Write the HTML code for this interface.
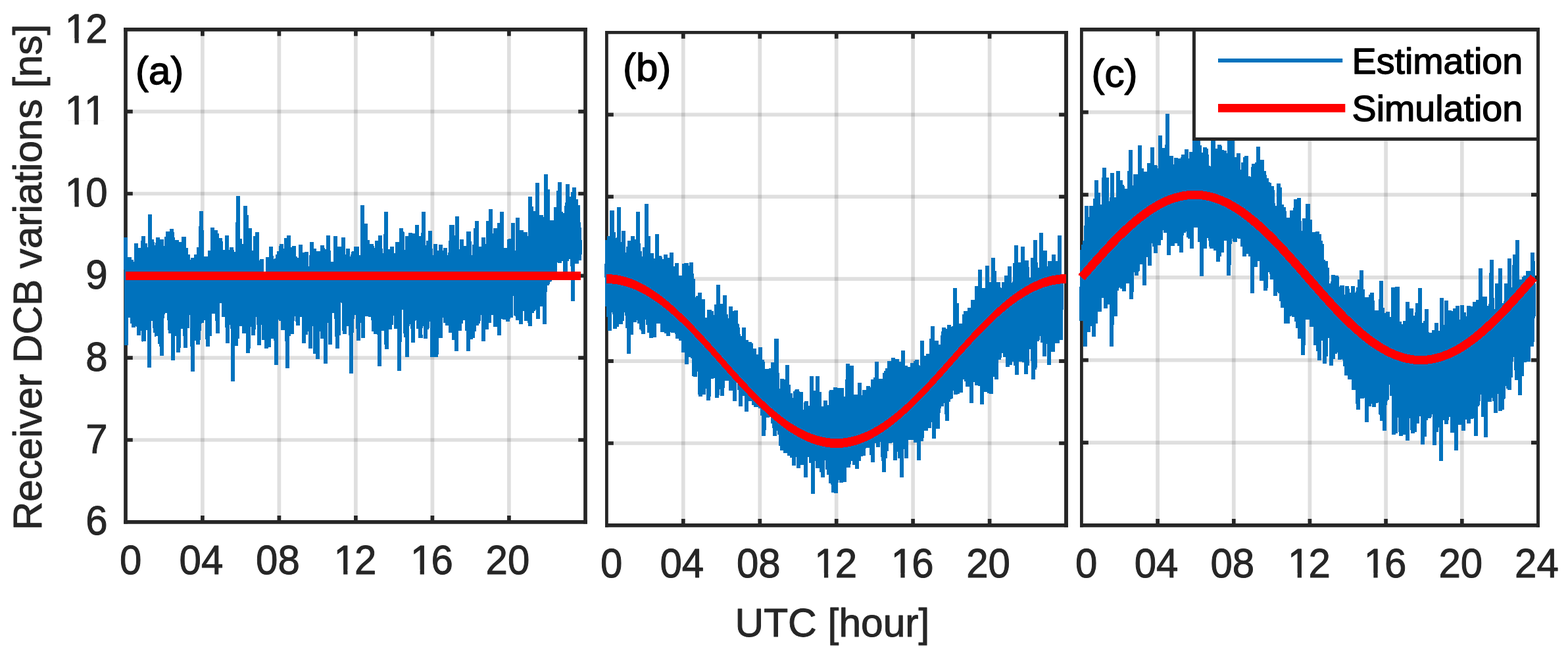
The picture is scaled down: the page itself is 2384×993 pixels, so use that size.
<!DOCTYPE html>
<html lang="en"><head><meta charset="utf-8"><title>Receiver DCB variations</title>
<style>html,body{margin:0;padding:0;background:#fff}svg{display:block}</style></head>
<body>
<svg width="2384" height="993" viewBox="0 0 2384 993" font-family='"Liberation Sans", sans-serif' font-kerning="none" style="font-kerning:none">
<rect width="2384" height="993" fill="#fff"/>
<g id="panel-a">
<path d="M307.9 44.9V793.8M424.4 44.9V793.8M540.9 44.9V793.8M657.4 44.9V793.8M773.9 44.9V793.8" stroke="#262626" stroke-opacity="0.15" stroke-width="5.7" fill="none"/>
<path d="M191.0 669.0H890.0M191.0 544.2H890.0M191.0 419.3H890.0M191.0 294.5H890.0M191.0 169.7H890.0" stroke="#262626" stroke-opacity="0.15" stroke-width="5.7" fill="none"/>
<path d="M307.9 793.8v-9.8M307.9 44.9v9.8M424.4 793.8v-9.8M424.4 44.9v9.8M540.9 793.8v-9.8M540.9 44.9v9.8M657.4 793.8v-9.8M657.4 44.9v9.8M773.9 793.8v-9.8M773.9 44.9v9.8M191.0 669.0h10.8M890.0 669.0h-10.8M191.0 544.2h10.8M890.0 544.2h-10.8M191.0 419.3h10.8M890.0 419.3h-10.8M191.0 294.5h10.8M890.0 294.5h-10.8M191.0 169.7h10.8M890.0 169.7h-10.8" stroke="#262626" stroke-width="5.7" fill="none"/>
<path d="M188.2 44.9H892.9" stroke="#262626" stroke-width="5.7"/>
<path d="M188.2 793.8H892.9" stroke="#262626" stroke-width="5.7"/>
<path d="M191.0 42.0V796.6" stroke="#262626" stroke-width="5.7"/>
<path d="M890.0 42.0V796.6" stroke="#262626" stroke-width="5.7"/>
<polyline points="191.4,360.7 191.6,450.3 191.9,456.5 192.1,524.9 192.4,441.5 192.6,451.3 192.9,458.2 193.1,431.3 193.3,427.9 193.6,475.0 193.8,469.3 194.1,456.3 194.3,419.3 194.6,423.4 194.8,482.8 195.0,476.9 195.3,417.7 195.5,390.9 195.8,442.2 196.0,463.1 196.3,406.1 196.5,451.2 196.7,417.9 197.0,391.4 197.2,420.9 197.5,438.9 197.7,417.6 197.9,462.0 198.2,447.0 198.4,459.9 198.7,447.9 198.9,457.1 199.2,447.4 199.4,453.8 199.6,438.5 199.9,439.3 200.1,431.8 200.4,395.5 200.6,492.2 200.9,399.0 201.1,449.4 201.3,482.2 201.6,447.3 201.8,438.6 202.1,406.4 202.3,476.9 202.6,434.6 202.8,437.9 203.0,497.8 203.3,481.3 203.5,421.9 203.8,418.8 204.0,405.7 204.3,424.2 204.5,428.9 204.7,438.1 205.0,401.6 205.2,470.6 205.5,447.1 205.7,429.4 206.0,495.7 206.2,398.2 206.4,469.4 206.7,445.1 206.9,369.6 207.2,471.0 207.4,460.9 207.7,389.8 207.9,479.8 208.1,457.7 208.4,425.1 208.6,427.1 208.9,422.3 209.1,429.9 209.4,396.0 209.6,407.3 209.8,421.8 210.1,466.4 210.3,467.5 210.6,509.5 210.8,418.2 211.0,506.8 211.3,411.2 211.5,376.8 211.8,480.1 212.0,466.7 212.3,459.2 212.5,412.4 212.7,473.2 213.0,446.8 213.2,461.0 213.5,451.1 213.7,395.2 214.0,477.1 214.2,439.3 214.4,432.0 214.7,410.5 214.9,488.3 215.2,400.9 215.4,425.8 215.7,409.5 215.9,439.1 216.1,502.6 216.4,465.8 216.6,411.3 216.9,440.3 217.1,443.5 217.4,374.4 217.6,358.8 217.8,443.0 218.1,368.6 218.3,517.0 218.6,519.2 218.8,408.5 219.1,451.4 219.3,419.3 219.5,421.7 219.8,444.8 220.0,415.2 220.3,435.5 220.5,500.3 220.8,432.8 221.0,434.0 221.2,370.2 221.5,484.9 221.7,440.4 222.0,457.6 222.2,446.2 222.5,376.1 222.7,426.1 222.9,459.1 223.2,434.8 223.4,410.7 223.7,479.9 223.9,451.2 224.1,379.7 224.4,406.7 224.6,442.4 224.9,459.5 225.1,446.6 225.4,502.3 225.6,402.8 225.8,426.7 226.1,434.8 226.3,492.4 226.6,469.0 226.8,559.1 227.1,429.7 227.3,460.1 227.5,419.6 227.8,325.7 228.0,467.3 228.3,461.4 228.5,475.2 228.8,486.9 229.0,407.1 229.2,418.7 229.5,425.7 229.7,487.6 230.0,482.5 230.2,442.2 230.5,456.4 230.7,434.3 230.9,468.1 231.2,412.0 231.4,364.3 231.7,374.7 231.9,371.8 232.2,435.8 232.4,400.2 232.6,454.4 232.9,400.0 233.1,454.4 233.4,459.0 233.6,465.5 233.9,408.8 234.1,426.6 234.3,430.2 234.6,486.4 234.8,431.9 235.1,499.2 235.3,374.9 235.6,443.3 235.8,429.3 236.0,442.1 236.3,505.5 236.5,496.4 236.8,438.5 237.0,372.9 237.2,485.4 237.5,467.6 237.7,439.0 238.0,510.2 238.2,510.7 238.5,454.7 238.7,438.6 238.9,453.7 239.2,369.2 239.4,443.6 239.7,420.5 239.9,365.8 240.2,360.9 240.4,506.4 240.6,452.7 240.9,384.5 241.1,497.0 241.4,476.8 241.6,493.3 241.9,496.2 242.1,486.0 242.3,427.7 242.6,379.0 242.8,367.4 243.1,434.8 243.3,523.1 243.6,437.7 243.8,450.3 244.0,419.4 244.3,440.8 244.5,515.3 244.8,416.4 245.0,527.4 245.3,465.7 245.5,420.8 245.7,418.9 246.0,364.0 246.2,540.7 246.5,419.2 246.7,403.4 247.0,449.1 247.2,405.5 247.4,483.9 247.7,404.5 247.9,409.8 248.2,478.3 248.4,464.1 248.7,442.5 248.9,463.5 249.1,386.5 249.4,425.8 249.6,374.1 249.9,380.4 250.1,430.8 250.3,442.2 250.6,476.4 250.8,469.9 251.1,469.7 251.3,417.5 251.6,473.3 251.8,429.6 252.0,424.4 252.3,455.6 252.5,441.5 252.8,367.2 253.0,359.6 253.3,468.4 253.5,441.7 253.7,449.7 254.0,445.3 254.2,362.8 254.5,401.4 254.7,375.3 255.0,351.7 255.2,452.5 255.4,440.9 255.7,430.6 255.9,385.7 256.2,436.4 256.4,402.9 256.7,379.2 256.9,379.4 257.1,411.8 257.4,467.8 257.6,502.4 257.9,381.2 258.1,411.3 258.4,474.3 258.6,454.7 258.8,452.1 259.1,507.3 259.3,420.4 259.6,467.1 259.8,444.9 260.1,398.3 260.3,435.8 260.5,407.1 260.8,412.5 261.0,430.0 261.3,429.2 261.5,348.2 261.8,438.9 262.0,358.8 262.2,471.9 262.5,398.8 262.7,423.6 263.0,463.4 263.2,548.0 263.4,360.7 263.7,481.9 263.9,473.3 264.2,425.2 264.4,428.4 264.7,418.6 264.9,441.9 265.1,496.1 265.4,393.0 265.6,469.9 265.9,421.0 266.1,405.8 266.4,379.6 266.6,439.9 266.8,443.8 267.1,440.9 267.3,510.0 267.6,463.3 267.8,474.0 268.1,480.2 268.3,424.5 268.5,444.9 268.8,364.7 269.0,369.5 269.3,511.0 269.5,427.2 269.8,474.2 270.0,409.5 270.2,426.2 270.5,394.4 270.7,420.2 271.0,401.9 271.2,445.5 271.5,536.0 271.7,481.9 271.9,468.5 272.2,453.8 272.4,475.0 272.7,368.3 272.9,441.1 273.2,382.5 273.4,448.2 273.6,368.8 273.9,482.7 274.1,411.2 274.4,487.8 274.6,417.9 274.9,373.0 275.1,499.7 275.3,469.9 275.6,426.3 275.8,443.2 276.1,489.3 276.3,391.5 276.5,434.4 276.8,386.8 277.0,424.4 277.3,481.0 277.5,455.3 277.8,384.4 278.0,489.9 278.2,455.0 278.5,414.8 278.7,399.3 279.0,406.6 279.2,493.2 279.5,359.8 279.7,444.3 279.9,437.8 280.2,438.5 280.4,447.1 280.7,474.5 280.9,450.8 281.2,390.1 281.4,489.2 281.6,528.5 281.9,419.6 282.1,427.0 282.4,412.9 282.6,376.6 282.9,466.2 283.1,433.4 283.3,421.7 283.6,395.4 283.8,403.0 284.1,470.8 284.3,490.2 284.6,450.4 284.8,498.8 285.0,400.8 285.3,455.1 285.5,453.8 285.8,473.1 286.0,386.6 286.3,431.0 286.5,456.2 286.7,419.7 287.0,444.7 287.2,420.5 287.5,394.8 287.7,451.3 288.0,423.5 288.2,424.7 288.4,401.2 288.7,420.5 288.9,440.6 289.2,464.8 289.4,431.1 289.6,479.2 289.9,418.1 290.1,439.5 290.4,421.8 290.6,460.3 290.9,470.4 291.1,474.4 291.3,401.5 291.6,449.3 291.8,449.7 292.1,506.2 292.3,443.4 292.6,564.8 292.8,391.7 293.0,450.0 293.3,440.4 293.5,493.3 293.8,481.1 294.0,418.8 294.3,448.6 294.5,425.2 294.7,394.1 295.0,416.4 295.2,510.9 295.5,477.1 295.7,482.7 296.0,474.4 296.2,517.8 296.4,516.8 296.7,468.2 296.9,462.7 297.2,421.1 297.4,452.5 297.7,387.0 297.9,508.8 298.1,492.5 298.4,430.7 298.6,450.4 298.9,477.4 299.1,410.9 299.4,398.7 299.6,390.2 299.8,455.0 300.1,440.1 300.3,431.1 300.6,437.5 300.8,400.7 301.1,458.4 301.3,425.3 301.5,524.2 301.8,410.4 302.0,376.3 302.3,440.3 302.5,399.2 302.7,503.3 303.0,452.0 303.2,498.7 303.5,426.7 303.7,418.7 304.0,492.1 304.2,471.7 304.4,461.5 304.7,344.5 304.9,441.5 305.2,433.9 305.4,424.4 305.7,426.8 305.9,447.7 306.1,490.4 306.4,320.7 306.6,374.2 306.9,428.1 307.1,452.7 307.4,491.1 307.6,440.2 307.8,436.7 308.1,463.5 308.3,402.8 308.6,460.9 308.8,444.4 309.1,404.5 309.3,428.8 309.5,393.4 309.8,446.5 310.0,454.5 310.3,419.0 310.5,428.9 310.8,390.6 311.0,421.2 311.2,438.2 311.5,419.4 311.7,411.3 312.0,481.1 312.2,442.6 312.5,450.1 312.7,389.7 312.9,455.9 313.2,395.0 313.4,486.5 313.7,438.9 313.9,394.8 314.2,446.9 314.4,391.4 314.6,516.0 314.9,435.5 315.1,430.2 315.4,441.4 315.6,495.4 315.8,410.4 316.1,527.4 316.3,399.4 316.6,424.9 316.8,397.8 317.1,445.9 317.3,479.0 317.5,455.8 317.8,453.7 318.0,412.6 318.3,447.6 318.5,419.6 318.8,416.9 319.0,380.9 319.2,511.1 319.5,450.5 319.7,408.8 320.0,408.7 320.2,456.0 320.5,444.6 320.7,438.0 320.9,429.4 321.2,455.4 321.4,458.3 321.7,475.9 321.9,448.2 322.2,382.2 322.4,469.0 322.6,398.0 322.9,361.8 323.1,425.9 323.4,346.5 323.6,438.4 323.9,372.0 324.1,434.7 324.3,477.1 324.6,420.1 324.8,364.2 325.1,453.9 325.3,415.1 325.6,468.3 325.8,464.1 326.0,415.9 326.3,438.8 326.5,411.9 326.8,386.7 327.0,473.9 327.2,456.3 327.5,430.3 327.7,350.0 328.0,443.1 328.2,448.6 328.5,416.2 328.7,357.7 328.9,451.6 329.2,441.9 329.4,429.7 329.7,404.9 329.9,355.5 330.2,474.0 330.4,488.1 330.6,425.4 330.9,412.4 331.1,507.0 331.4,451.5 331.6,397.7 331.9,448.4 332.1,413.9 332.3,424.4 332.6,408.2 332.8,415.6 333.1,421.4 333.3,388.1 333.6,449.0 333.8,425.9 334.0,392.1 334.3,448.7 334.5,442.3 334.8,455.1 335.0,461.2 335.3,362.3 335.5,414.1 335.7,367.3 336.0,405.4 336.2,427.2 336.5,439.1 336.7,421.0 337.0,431.2 337.2,399.5 337.4,458.7 337.7,424.2 337.9,414.4 338.2,437.4 338.4,437.5 338.7,411.6 338.9,411.3 339.1,433.2 339.4,430.3 339.6,448.3 339.9,411.4 340.1,433.9 340.3,481.8 340.6,440.3 340.8,409.7 341.1,420.8 341.3,459.7 341.6,405.9 341.8,410.2 342.0,410.2 342.3,379.6 342.5,441.7 342.8,410.5 343.0,439.3 343.3,397.7 343.5,391.9 343.7,414.5 344.0,405.9 344.2,458.3 344.5,410.0 344.7,471.3 345.0,357.9 345.2,392.1 345.4,483.4 345.7,522.2 345.9,387.1 346.2,461.0 346.4,413.1 346.7,476.5 346.9,429.4 347.1,454.3 347.4,411.3 347.6,443.6 347.9,380.3 348.1,458.4 348.4,387.2 348.6,432.6 348.8,413.7 349.1,488.1 349.3,493.9 349.6,394.7 349.8,475.5 350.1,444.0 350.3,443.3 350.5,464.2 350.8,424.7 351.0,482.8 351.3,475.0 351.5,398.6 351.8,461.4 352.0,405.1 352.2,407.9 352.5,376.5 352.7,415.5 353.0,500.1 353.2,456.5 353.4,447.7 353.7,386.6 353.9,419.5 354.2,580.4 354.4,416.1 354.7,446.1 354.9,411.8 355.1,426.8 355.4,390.3 355.6,419.8 355.9,394.4 356.1,433.0 356.4,405.1 356.6,438.5 356.8,407.6 357.1,423.8 357.3,437.4 357.6,449.0 357.8,443.3 358.1,413.9 358.3,522.9 358.5,383.4 358.8,526.3 359.0,440.0 359.3,445.5 359.5,402.9 359.8,422.9 360.0,434.1 360.2,429.0 360.5,394.3 360.7,338.0 361.0,417.0 361.2,515.4 361.5,449.1 361.7,415.2 361.9,297.6 362.2,463.2 362.4,447.2 362.7,409.3 362.9,418.8 363.2,486.0 363.4,393.2 363.6,485.7 363.9,442.8 364.1,377.6 364.4,485.8 364.6,445.9 364.9,363.2 365.1,442.4 365.3,474.7 365.6,455.5 365.8,397.2 366.1,495.9 366.3,457.5 366.5,491.3 366.8,479.0 367.0,378.5 367.3,434.8 367.5,449.3 367.8,413.8 368.0,460.5 368.2,480.6 368.5,384.2 368.7,395.2 369.0,465.7 369.2,402.2 369.5,371.4 369.7,410.9 369.9,410.5 370.2,481.5 370.4,436.3 370.7,506.9 370.9,385.5 371.2,437.8 371.4,377.0 371.6,462.0 371.9,395.2 372.1,494.7 372.4,446.9 372.6,408.5 372.9,416.2 373.1,432.8 373.3,313.3 373.6,377.4 373.8,404.0 374.1,385.1 374.3,385.9 374.6,445.8 374.8,415.5 375.0,326.8 375.3,464.3 375.5,415.5 375.8,453.6 376.0,363.5 376.3,425.2 376.5,472.5 376.7,455.7 377.0,486.8 377.2,520.4 377.5,537.0 377.7,460.8 378.0,476.3 378.2,427.6 378.4,464.9 378.7,425.1 378.9,366.9 379.2,478.2 379.4,479.6 379.6,397.5 379.9,347.0 380.1,467.1 380.4,497.4 380.6,445.7 380.9,450.0 381.1,409.2 381.3,474.3 381.6,445.2 381.8,447.1 382.1,493.2 382.3,493.0 382.6,420.2 382.8,416.8 383.0,465.2 383.3,380.7 383.5,403.5 383.8,420.5 384.0,415.6 384.3,425.0 384.5,412.0 384.7,407.2 385.0,435.5 385.2,510.2 385.5,444.0 385.7,467.6 386.0,480.2 386.2,418.0 386.4,501.0 386.7,410.3 386.9,461.5 387.2,482.0 387.4,469.8 387.7,359.5 387.9,389.4 388.1,450.0 388.4,403.9 388.6,379.7 388.9,470.6 389.1,450.8 389.4,409.8 389.6,427.7 389.8,454.1 390.1,386.5 390.3,424.6 390.6,415.2 390.8,361.3 391.1,425.8 391.3,353.3 391.5,432.4 391.8,448.3 392.0,438.7 392.3,413.9 392.5,421.4 392.7,431.1 393.0,493.6 393.2,480.4 393.5,453.1 393.7,420.1 394.0,396.3 394.2,525.0 394.4,450.0 394.7,460.5 394.9,449.1 395.2,438.7 395.4,474.3 395.7,490.1 395.9,412.6 396.1,421.5 396.4,460.6 396.6,451.0 396.9,470.1 397.1,494.1 397.4,426.0 397.6,469.9 397.8,485.2 398.1,468.2 398.3,394.1 398.6,433.9 398.8,441.0 399.1,446.0 399.3,420.6 399.5,425.2 399.8,492.9 400.0,457.8 400.3,471.6 400.5,443.2 400.8,452.7 401.0,517.0 401.2,413.0 401.5,442.7 401.7,509.1 402.0,414.0 402.2,448.0 402.5,436.7 402.7,451.7 402.9,447.6 403.2,469.9 403.4,508.6 403.7,474.3 403.9,448.1 404.2,453.1 404.4,433.1 404.6,458.1 404.9,529.6 405.1,431.3 405.4,482.3 405.6,499.9 405.8,466.0 406.1,500.5 406.3,443.2 406.6,485.8 406.8,390.6 407.1,463.2 407.3,473.3 407.5,476.4 407.8,526.5 408.0,483.4 408.3,479.6 408.5,465.2 408.8,528.1 409.0,452.5 409.2,410.6 409.5,467.8 409.7,455.0 410.0,438.8 410.2,479.7 410.5,467.3 410.7,420.4 410.9,445.8 411.2,493.1 411.4,511.6 411.7,374.6 411.9,436.2 412.2,504.3 412.4,445.5 412.6,427.7 412.9,446.3 413.1,513.3 413.4,388.7 413.6,429.3 413.9,455.9 414.1,426.0 414.3,456.5 414.6,460.0 414.8,418.3 415.1,515.4 415.3,414.1 415.6,434.4 415.8,421.9 416.0,416.4 416.3,394.3 416.5,397.9 416.8,416.6 417.0,459.6 417.3,422.7 417.5,462.3 417.7,478.3 418.0,430.0 418.2,433.1 418.5,404.4 418.7,518.0 418.9,424.2 419.2,421.5 419.4,440.4 419.7,393.3 419.9,473.8 420.2,432.1 420.4,555.4 420.6,443.8 420.9,476.4 421.1,447.7 421.4,419.6 421.6,438.4 421.9,430.5 422.1,468.6 422.3,387.2 422.6,466.0 422.8,441.1 423.1,421.2 423.3,447.7 423.6,415.0 423.8,434.4 424.0,381.8 424.3,421.6 424.5,426.8 424.8,468.6 425.0,424.2 425.3,405.2 425.5,425.6 425.7,472.4 426.0,458.9 426.2,447.8 426.5,438.9 426.7,488.1 427.0,373.7 427.2,442.8 427.4,435.2 427.7,454.6 427.9,440.4 428.2,371.2 428.4,472.2 428.7,456.9 428.9,475.1 429.1,457.9 429.4,384.1 429.6,460.5 429.9,454.3 430.1,502.2 430.4,450.7 430.6,429.9 430.8,455.4 431.1,452.2 431.3,409.6 431.6,419.3 431.8,441.8 432.0,466.1 432.3,492.1 432.5,378.0 432.8,493.7 433.0,415.1 433.3,445.4 433.5,464.7 433.7,406.5 434.0,465.1 434.2,392.9 434.5,475.6 434.7,420.6 435.0,392.2 435.2,473.6 435.4,362.4 435.7,407.5 435.9,518.9 436.2,388.0 436.4,369.1 436.7,448.2 436.9,445.7 437.1,560.4 437.4,508.1 437.6,433.1 437.9,404.7 438.1,459.0 438.4,398.1 438.6,358.0 438.8,511.0 439.1,505.6 439.3,465.1 439.6,415.8 439.8,425.1 440.1,473.1 440.3,481.2 440.5,466.4 440.8,376.5 441.0,474.7 441.3,460.9 441.5,404.1 441.8,449.5 442.0,476.4 442.2,386.4 442.5,427.1 442.7,465.1 443.0,453.8 443.2,404.8 443.5,453.1 443.7,429.8 443.9,406.2 444.2,402.2 444.4,507.9 444.7,457.5 444.9,451.7 445.1,435.4 445.4,410.4 445.6,395.5 445.9,456.1 446.1,480.5 446.4,431.8 446.6,461.4 446.8,374.2 447.1,425.5 447.3,436.8 447.6,401.6 447.8,463.5 448.1,451.7 448.3,445.4 448.5,414.4 448.8,390.0 449.0,409.2 449.3,410.4 449.5,447.2 449.8,424.8 450.0,447.5 450.2,395.4 450.5,462.4 450.7,441.6 451.0,429.8 451.2,409.4 451.5,466.2 451.7,447.5 451.9,469.8 452.2,489.4 452.4,398.0 452.7,421.7 452.9,495.4 453.2,475.7 453.4,418.1 453.6,461.9 453.9,478.7 454.1,392.0 454.4,457.4 454.6,453.1 454.9,418.0 455.1,466.1 455.3,438.5 455.6,433.2 455.8,411.2 456.1,467.3 456.3,398.4 456.5,426.5 456.8,371.6 457.0,431.0 457.3,459.6 457.5,459.6 457.8,482.2 458.0,439.7 458.2,442.0 458.5,405.8 458.7,436.5 459.0,471.6 459.2,400.8 459.5,456.1 459.7,429.6 459.9,384.4 460.2,391.5 460.4,467.6 460.7,444.2 460.9,388.9 461.2,402.4 461.4,419.2 461.6,406.1 461.9,522.2 462.1,451.2 462.4,494.9 462.6,464.4 462.9,454.8 463.1,422.2 463.3,395.6 463.6,410.5 463.8,430.1 464.1,454.2 464.3,391.8 464.6,430.7 464.8,508.7 465.0,443.5 465.3,421.9 465.5,478.1 465.8,432.7 466.0,383.1 466.3,451.2 466.5,443.5 466.7,443.1 467.0,479.0 467.2,459.9 467.5,480.5 467.7,453.0 468.0,472.8 468.2,404.7 468.4,446.3 468.7,409.0 468.9,490.6 469.2,442.6 469.4,419.5 469.6,414.9 469.9,465.8 470.1,445.7 470.4,437.4 470.6,454.9 470.9,457.7 471.1,421.2 471.3,487.4 471.6,511.7 471.8,460.2 472.1,430.1 472.3,529.7 472.6,388.5 472.8,437.1 473.0,418.2 473.3,473.2 473.5,442.2 473.8,369.7 474.0,368.1 474.3,415.9 474.5,450.8 474.7,444.2 475.0,388.7 475.2,467.4 475.5,476.0 475.7,445.1 476.0,404.6 476.2,481.4 476.4,426.1 476.7,425.4 476.9,434.7 477.2,445.8 477.4,403.9 477.7,417.6 477.9,496.4 478.1,377.8 478.4,422.3 478.6,427.8 478.9,453.9 479.1,451.4 479.4,537.5 479.6,449.2 479.8,417.5 480.1,416.7 480.3,466.5 480.6,531.2 480.8,483.9 481.1,452.4 481.3,391.3 481.5,502.4 481.8,439.6 482.0,417.6 482.3,416.4 482.5,443.6 482.7,546.2 483.0,416.9 483.2,435.0 483.5,419.2 483.7,475.6 484.0,457.8 484.2,382.3 484.4,442.6 484.7,439.3 484.9,466.0 485.2,391.3 485.4,500.7 485.7,458.2 485.9,422.1 486.1,439.7 486.4,404.9 486.6,422.0 486.9,383.8 487.1,446.0 487.4,442.4 487.6,426.9 487.8,503.5 488.1,384.4 488.3,470.7 488.6,394.6 488.8,383.2 489.1,399.0 489.3,429.0 489.5,459.5 489.8,514.6 490.0,415.3 490.3,444.7 490.5,372.9 490.8,446.6 491.0,412.8 491.2,450.5 491.5,420.0 491.7,448.4 492.0,441.9 492.2,504.0 492.5,461.5 492.7,441.2 492.9,389.6 493.2,425.9 493.4,479.7 493.7,378.6 493.9,423.0 494.2,395.6 494.4,468.1 494.6,553.1 494.9,463.2 495.1,472.3 495.4,426.3 495.6,490.5 495.8,467.4 496.1,484.3 496.3,431.1 496.6,468.5 496.8,387.3 497.1,408.0 497.3,406.1 497.5,443.2 497.8,427.4 498.0,405.4 498.3,465.2 498.5,392.3 498.8,438.3 499.0,391.8 499.2,357.6 499.5,381.5 499.7,472.9 500.0,393.8 500.2,446.6 500.5,450.3 500.7,443.9 500.9,476.2 501.2,427.7 501.4,460.4 501.7,398.0 501.9,425.1 502.2,524.2 502.4,469.0 502.6,470.7 502.9,459.9 503.1,459.0 503.4,429.8 503.6,442.2 503.9,473.6 504.1,422.3 504.3,406.6 504.6,436.8 504.8,397.8 505.1,422.9 505.3,455.9 505.6,450.5 505.8,437.3 506.0,419.9 506.3,431.8 506.5,405.3 506.8,399.6 507.0,471.0 507.3,476.0 507.5,441.3 507.7,423.0 508.0,408.2 508.2,416.9 508.5,417.9 508.7,468.5 508.9,426.0 509.2,459.2 509.4,424.8 509.7,409.2 509.9,460.2 510.2,446.3 510.4,359.0 510.6,463.1 510.9,455.0 511.1,474.1 511.4,485.3 511.6,406.7 511.9,460.8 512.1,459.0 512.3,464.8 512.6,529.7 512.8,415.0 513.1,457.0 513.3,441.0 513.6,395.3 513.8,444.1 514.0,435.4 514.3,433.9 514.5,398.5 514.8,482.9 515.0,457.7 515.3,509.5 515.5,438.8 515.7,419.0 516.0,453.2 516.2,375.3 516.5,407.9 516.7,376.5 517.0,433.9 517.2,381.0 517.4,455.5 517.7,425.5 517.9,434.7 518.2,452.3 518.4,385.3 518.7,395.9 518.9,460.3 519.1,415.9 519.4,434.9 519.6,432.8 519.9,418.3 520.1,453.8 520.4,431.4 520.6,427.8 520.8,456.9 521.1,453.8 521.3,409.6 521.6,436.3 521.8,361.2 522.0,368.6 522.3,461.1 522.5,427.7 522.8,503.2 523.0,459.5 523.3,467.5 523.5,463.7 523.7,508.3 524.0,430.4 524.2,434.5 524.5,465.4 524.7,441.8 525.0,409.3 525.2,387.2 525.4,482.4 525.7,387.7 525.9,495.0 526.2,466.0 526.4,452.0 526.7,389.0 526.9,419.5 527.1,420.1 527.4,388.3 527.6,431.7 527.9,453.7 528.1,391.1 528.4,446.1 528.6,480.4 528.8,495.5 529.1,433.6 529.3,377.6 529.6,414.4 529.8,437.1 530.1,398.8 530.3,487.6 530.5,424.4 530.8,456.2 531.0,393.2 531.3,466.0 531.5,412.0 531.8,431.8 532.0,437.7 532.2,415.3 532.5,442.5 532.7,390.7 533.0,445.0 533.2,510.1 533.5,390.2 533.7,393.8 533.9,567.9 534.2,391.7 534.4,414.9 534.7,465.5 534.9,506.0 535.1,472.5 535.4,447.2 535.6,420.3 535.9,485.1 536.1,467.9 536.4,386.8 536.6,461.0 536.8,462.1 537.1,469.5 537.3,382.8 537.6,410.8 537.8,407.3 538.1,381.6 538.3,404.8 538.5,391.9 538.8,424.8 539.0,407.6 539.3,415.8 539.5,413.3 539.8,476.8 540.0,444.4 540.2,449.5 540.5,459.2 540.7,438.5 541.0,375.1 541.2,404.6 541.5,433.7 541.7,425.4 541.9,388.6 542.2,478.8 542.4,423.6 542.7,379.6 542.9,374.7 543.2,405.8 543.4,417.8 543.6,500.0 543.9,461.8 544.1,438.6 544.4,423.8 544.6,422.7 544.9,517.5 545.1,456.0 545.3,427.4 545.6,464.2 545.8,445.1 546.1,419.0 546.3,426.3 546.6,430.9 546.8,411.0 547.0,397.0 547.3,447.5 547.5,474.7 547.8,462.0 548.0,454.7 548.2,438.6 548.5,491.3 548.7,464.5 549.0,446.1 549.2,387.8 549.5,418.0 549.7,442.3 549.9,404.7 550.2,430.2 550.4,428.2 550.7,397.7 550.9,424.3 551.2,431.0 551.4,312.0 551.6,456.7 551.9,434.8 552.1,514.0 552.4,451.9 552.6,379.4 552.9,449.7 553.1,436.3 553.3,452.0 553.6,474.5 553.8,418.0 554.1,437.1 554.3,395.4 554.6,469.4 554.8,434.7 555.0,448.9 555.3,458.3 555.5,395.4 555.8,463.7 556.0,463.3 556.3,340.5 556.5,438.8 556.7,443.8 557.0,418.5 557.2,474.2 557.5,422.6 557.7,480.9 558.0,454.1 558.2,457.8 558.4,384.5 558.7,411.8 558.9,365.4 559.2,371.8 559.4,462.2 559.7,415.7 559.9,452.5 560.1,460.2 560.4,389.9 560.6,380.8 560.9,431.0 561.1,422.9 561.3,424.7 561.6,423.5 561.8,422.4 562.1,474.8 562.3,412.3 562.6,462.4 562.8,481.7 563.0,441.4 563.3,425.6 563.5,403.6 563.8,421.4 564.0,424.7 564.3,461.6 564.5,420.7 564.7,427.9 565.0,424.9 565.2,464.8 565.5,370.8 565.7,407.1 566.0,410.1 566.2,432.6 566.4,447.1 566.7,400.6 566.9,487.0 567.2,454.0 567.4,447.5 567.7,414.5 567.9,448.2 568.1,382.2 568.4,503.6 568.6,376.8 568.9,424.4 569.1,400.7 569.4,456.1 569.6,397.2 569.8,449.0 570.1,426.9 570.3,492.8 570.6,416.0 570.8,432.0 571.1,508.0 571.3,440.5 571.5,448.7 571.8,405.8 572.0,462.3 572.3,429.5 572.5,388.3 572.8,469.6 573.0,366.4 573.2,427.6 573.5,445.4 573.7,487.9 574.0,503.2 574.2,401.2 574.4,454.1 574.7,460.1 574.9,397.3 575.2,411.8 575.4,432.3 575.7,491.4 575.9,509.3 576.1,401.9 576.4,438.6 576.6,446.6 576.9,366.3 577.1,556.6 577.4,423.6 577.6,357.7 577.8,414.2 578.1,456.9 578.3,467.5 578.6,392.2 578.8,481.7 579.1,406.1 579.3,377.6 579.5,440.0 579.8,406.4 580.0,433.7 580.3,384.9 580.5,426.3 580.8,461.6 581.0,423.2 581.2,430.8 581.5,458.4 581.7,444.7 582.0,479.6 582.2,466.4 582.5,413.0 582.7,502.5 582.9,426.1 583.2,435.6 583.4,457.2 583.7,385.6 583.9,411.2 584.2,457.3 584.4,428.7 584.6,403.2 584.9,492.3 585.1,428.3 585.4,444.8 585.6,421.8 585.8,360.5 586.1,459.2 586.3,448.1 586.6,322.0 586.8,428.1 587.1,413.7 587.3,523.8 587.5,383.4 587.8,378.8 588.0,531.2 588.3,489.8 588.5,418.8 588.8,432.3 589.0,393.6 589.2,445.6 589.5,389.1 589.7,484.1 590.0,420.3 590.2,450.6 590.5,451.8 590.7,498.4 590.9,449.5 591.2,385.6 591.4,458.0 591.7,443.0 591.9,429.9 592.2,469.3 592.4,425.0 592.6,414.3 592.9,443.0 593.1,501.3 593.4,379.2 593.6,432.4 593.9,435.0 594.1,441.8 594.3,455.5 594.6,494.3 594.8,435.9 595.1,428.6 595.3,398.2 595.6,374.7 595.8,460.4 596.0,375.4 596.3,430.7 596.5,412.5 596.8,470.9 597.0,421.2 597.3,468.1 597.5,409.1 597.7,479.5 598.0,432.2 598.2,449.1 598.5,420.6 598.7,424.3 598.9,427.6 599.2,452.0 599.4,401.5 599.7,412.2 599.9,462.2 600.2,405.6 600.4,457.0 600.6,429.9 600.9,436.7 601.1,436.5 601.4,403.3 601.6,500.0 601.9,385.4 602.1,498.9 602.3,386.3 602.6,411.4 602.8,488.2 603.1,418.9 603.3,444.1 603.6,476.6 603.8,386.4 604.0,389.7 604.3,417.4 604.5,368.2 604.8,425.8 605.0,441.9 605.3,381.5 605.5,459.4 605.7,400.8 606.0,388.7 606.2,422.5 606.5,426.9 606.7,412.3 607.0,421.4 607.2,457.4 607.4,564.4 607.7,450.3 607.9,486.9 608.2,393.1 608.4,448.1 608.7,421.3 608.9,401.5 609.1,391.0 609.4,466.3 609.6,347.0 609.9,394.9 610.1,405.5 610.4,465.6 610.6,352.2 610.8,404.7 611.1,386.9 611.3,441.8 611.6,356.4 611.8,372.9 612.0,434.2 612.3,352.7 612.5,471.4 612.8,396.4 613.0,405.2 613.3,403.7 613.5,458.2 613.7,445.1 614.0,393.7 614.2,389.8 614.5,433.7 614.7,442.0 615.0,452.2 615.2,380.1 615.4,438.2 615.7,453.9 615.9,506.9 616.2,502.6 616.4,477.2 616.7,513.0 616.9,449.9 617.1,446.1 617.4,473.5 617.6,451.2 617.9,438.3 618.1,503.6 618.4,407.4 618.6,542.5 618.8,359.0 619.1,492.5 619.3,433.9 619.6,449.1 619.8,420.4 620.1,464.4 620.3,414.2 620.5,496.1 620.8,405.5 621.0,446.1 621.3,420.4 621.5,395.4 621.8,481.3 622.0,458.1 622.2,464.3 622.5,438.9 622.7,428.7 623.0,407.0 623.2,426.6 623.5,441.2 623.7,414.0 623.9,395.1 624.2,397.5 624.4,353.8 624.7,459.3 624.9,425.9 625.1,486.7 625.4,461.5 625.6,410.9 625.9,386.3 626.1,453.8 626.4,416.7 626.6,431.6 626.8,415.1 627.1,426.2 627.3,453.0 627.6,521.0 627.8,492.3 628.1,419.9 628.3,438.0 628.5,354.8 628.8,432.9 629.0,399.6 629.3,480.0 629.5,488.2 629.8,427.0 630.0,370.7 630.2,419.2 630.5,446.9 630.7,419.2 631.0,411.1 631.2,417.6 631.5,433.9 631.7,475.2 631.9,478.4 632.2,454.5 632.4,439.8 632.7,485.1 632.9,373.9 633.2,412.1 633.4,455.1 633.6,405.8 633.9,342.1 634.1,425.6 634.4,426.5 634.6,395.7 634.9,486.9 635.1,456.7 635.3,464.4 635.6,405.7 635.8,499.5 636.1,422.8 636.3,453.7 636.6,446.2 636.8,456.6 637.0,379.1 637.3,468.4 637.5,481.2 637.8,423.6 638.0,457.7 638.2,416.0 638.5,437.9 638.7,434.4 639.0,433.7 639.2,500.9 639.5,513.5 639.7,358.8 639.9,481.2 640.2,416.2 640.4,479.5 640.7,439.8 640.9,446.7 641.2,380.6 641.4,444.5 641.6,495.9 641.9,491.6 642.1,425.1 642.4,403.2 642.6,359.1 642.9,354.6 643.1,491.9 643.3,441.6 643.6,484.4 643.8,426.3 644.1,406.0 644.3,322.0 644.6,404.0 644.8,409.3 645.0,447.3 645.3,460.9 645.5,372.7 645.8,443.5 646.0,480.3 646.3,433.4 646.5,397.1 646.7,410.8 647.0,514.8 647.2,491.4 647.5,454.2 647.7,432.3 648.0,432.4 648.2,487.9 648.4,402.0 648.7,419.7 648.9,500.8 649.2,476.6 649.4,443.0 649.7,499.0 649.9,437.5 650.1,431.8 650.4,456.1 650.6,415.7 650.9,366.4 651.1,465.1 651.3,419.7 651.6,456.8 651.8,377.1 652.1,388.4 652.3,438.9 652.6,463.7 652.8,407.3 653.0,441.5 653.3,488.6 653.5,479.6 653.8,445.6 654.0,350.9 654.3,394.7 654.5,382.8 654.7,400.7 655.0,382.8 655.2,377.7 655.5,484.3 655.7,414.2 656.0,413.4 656.2,418.9 656.4,422.0 656.7,542.7 656.9,431.7 657.2,495.1 657.4,399.9 657.7,460.7 657.9,450.7 658.1,441.7 658.4,524.0 658.6,446.6 658.9,492.1 659.1,399.8 659.4,461.6 659.6,486.8 659.8,388.0 660.1,452.0 660.3,480.1 660.6,444.0 660.8,447.8 661.1,429.8 661.3,481.6 661.5,394.8 661.8,426.0 662.0,371.4 662.3,415.9 662.5,480.6 662.8,394.9 663.0,450.2 663.2,435.0 663.5,542.9 663.7,492.1 664.0,381.3 664.2,392.6 664.4,513.4 664.7,425.0 664.9,424.4 665.2,386.1 665.4,485.0 665.7,512.5 665.9,425.6 666.1,466.8 666.4,463.6 666.6,476.6 666.9,385.8 667.1,475.1 667.4,397.4 667.6,412.0 667.8,466.1 668.1,396.5 668.3,384.2 668.6,422.7 668.8,447.7 669.1,405.5 669.3,469.4 669.5,416.6 669.8,372.3 670.0,494.7 670.3,514.3 670.5,406.5 670.8,474.9 671.0,456.8 671.2,430.9 671.5,463.6 671.7,432.0 672.0,479.0 672.2,459.8 672.5,440.8 672.7,413.6 672.9,454.7 673.2,422.5 673.4,411.2 673.7,415.5 673.9,441.6 674.2,381.5 674.4,469.4 674.6,392.3 674.9,394.5 675.1,398.8 675.4,458.0 675.6,395.7 675.9,416.0 676.1,483.3 676.3,449.0 676.6,491.1 676.8,420.0 677.1,377.3 677.3,397.0 677.5,477.4 677.8,477.6 678.0,443.5 678.3,441.9 678.5,404.5 678.8,448.8 679.0,388.5 679.2,457.3 679.5,392.0 679.7,495.3 680.0,457.9 680.2,433.3 680.5,400.5 680.7,413.0 680.9,470.6 681.2,488.5 681.4,435.6 681.7,438.2 681.9,450.6 682.2,435.4 682.4,489.1 682.6,413.4 682.9,393.5 683.1,470.8 683.4,469.3 683.6,383.9 683.9,390.3 684.1,466.6 684.3,461.9 684.6,505.5 684.8,414.0 685.1,425.9 685.3,432.8 685.6,342.1 685.8,441.3 686.0,438.6 686.3,423.5 686.5,441.4 686.8,388.8 687.0,440.4 687.3,428.4 687.5,342.4 687.7,456.8 688.0,481.8 688.2,426.9 688.5,458.2 688.7,458.9 689.0,424.3 689.2,398.9 689.4,495.0 689.7,441.3 689.9,517.4 690.2,396.4 690.4,475.0 690.6,407.7 690.9,361.5 691.1,379.8 691.4,417.0 691.6,513.7 691.9,358.1 692.1,450.6 692.3,402.1 692.6,454.2 692.8,443.6 693.1,369.4 693.3,500.4 693.6,483.4 693.8,445.7 694.0,391.7 694.3,534.0 694.5,383.6 694.8,450.4 695.0,406.1 695.3,328.9 695.5,413.4 695.7,389.9 696.0,378.7 696.2,445.5 696.5,427.8 696.7,440.2 697.0,424.8 697.2,445.3 697.4,454.0 697.7,457.3 697.9,402.9 698.2,486.2 698.4,429.1 698.7,378.6 698.9,488.4 699.1,503.0 699.4,406.3 699.6,464.9 699.9,462.1 700.1,407.7 700.4,420.7 700.6,459.9 700.8,446.0 701.1,491.5 701.3,456.0 701.6,435.9 701.8,410.9 702.0,409.3 702.3,363.8 702.5,435.3 702.8,393.0 703.0,421.6 703.3,471.2 703.5,419.7 703.7,418.3 704.0,405.5 704.2,412.5 704.5,426.8 704.7,467.1 705.0,443.9 705.2,420.5 705.4,406.3 705.7,399.8 705.9,417.5 706.2,406.6 706.4,375.4 706.7,423.5 706.9,452.5 707.1,487.1 707.4,430.1 707.6,407.2 707.9,446.1 708.1,373.7 708.4,465.3 708.6,445.9 708.8,433.0 709.1,479.8 709.3,392.2 709.6,460.7 709.8,477.6 710.1,502.7 710.3,396.0 710.5,382.2 710.8,471.2 711.0,487.2 711.3,449.4 711.5,432.5 711.8,452.8 712.0,413.4 712.2,534.2 712.5,352.1 712.7,417.9 713.0,392.5 713.2,447.1 713.5,394.3 713.7,367.2 713.9,459.0 714.2,425.9 714.4,392.4 714.7,414.9 714.9,463.1 715.1,448.6 715.4,408.2 715.6,417.8 715.9,455.8 716.1,417.7 716.4,515.5 716.6,427.6 716.8,393.7 717.1,394.7 717.3,446.8 717.6,420.8 717.8,421.7 718.1,435.0 718.3,461.6 718.5,485.6 718.8,454.7 719.0,479.2 719.3,513.5 719.5,388.2 719.8,490.6 720.0,460.7 720.2,461.3 720.5,504.0 720.7,425.9 721.0,504.0 721.2,372.4 721.5,493.1 721.7,470.6 721.9,447.0 722.2,445.8 722.4,440.7 722.7,397.8 722.9,387.5 723.2,347.0 723.4,476.6 723.6,389.7 723.9,403.1 724.1,439.8 724.4,478.0 724.6,336.1 724.9,381.5 725.1,495.4 725.3,369.4 725.6,409.4 725.8,418.1 726.1,396.9 726.3,450.5 726.6,432.5 726.8,391.0 727.0,471.8 727.3,480.0 727.5,492.4 727.8,399.1 728.0,468.7 728.2,441.9 728.5,447.8 728.7,406.2 729.0,415.2 729.2,460.2 729.5,375.3 729.7,412.7 729.9,415.9 730.2,445.9 730.4,442.4 730.7,439.2 730.9,428.7 731.2,413.2 731.4,413.0 731.6,439.5 731.9,434.5 732.1,402.7 732.4,383.8 732.6,381.7 732.9,430.8 733.1,478.6 733.3,423.6 733.6,423.4 733.8,426.7 734.1,410.1 734.3,449.2 734.6,425.4 734.8,519.3 735.0,361.3 735.3,428.8 735.5,442.4 735.8,410.0 736.0,439.8 736.3,458.4 736.5,397.9 736.7,427.9 737.0,456.7 737.2,403.6 737.5,413.1 737.7,415.7 738.0,442.1 738.2,388.6 738.4,465.5 738.7,397.8 738.9,371.3 739.2,466.0 739.4,421.6 739.7,500.5 739.9,429.3 740.1,497.4 740.4,482.8 740.6,422.9 740.9,388.5 741.1,411.1 741.3,439.4 741.6,461.5 741.8,430.1 742.1,336.3 742.3,375.3 742.6,483.1 742.8,458.8 743.0,487.1 743.3,408.9 743.5,442.3 743.8,491.3 744.0,437.8 744.3,450.0 744.5,472.6 744.7,444.8 745.0,396.7 745.2,467.3 745.5,444.8 745.7,318.2 746.0,446.7 746.2,376.7 746.4,408.8 746.7,458.0 746.9,453.6 747.2,380.6 747.4,434.8 747.7,449.5 747.9,384.3 748.1,444.7 748.4,456.8 748.6,412.2 748.9,478.7 749.1,444.5 749.4,457.9 749.6,421.5 749.8,431.2 750.1,355.1 750.3,399.4 750.6,425.0 750.8,403.5 751.1,434.1 751.3,415.3 751.5,402.4 751.8,407.0 752.0,370.3 752.3,403.1 752.5,452.0 752.8,414.3 753.0,468.1 753.2,346.6 753.5,496.6 753.7,429.4 754.0,405.1 754.2,460.4 754.4,441.0 754.7,385.3 754.9,471.3 755.2,389.5 755.4,433.6 755.7,438.5 755.9,349.5 756.1,395.1 756.4,409.8 756.6,434.2 756.9,417.7 757.1,430.8 757.4,355.5 757.6,416.8 757.8,451.8 758.1,443.1 758.3,408.9 758.6,465.3 758.8,452.3 759.1,483.9 759.3,509.9 759.5,339.4 759.8,431.6 760.0,357.8 760.3,402.4 760.5,412.5 760.8,463.8 761.0,424.6 761.2,416.8 761.5,456.0 761.7,396.7 762.0,377.7 762.2,405.4 762.5,414.8 762.7,484.7 762.9,321.7 763.2,395.1 763.4,465.0 763.7,464.1 763.9,446.7 764.2,458.3 764.4,421.0 764.6,453.3 764.9,417.9 765.1,438.6 765.4,432.0 765.6,464.6 765.9,416.1 766.1,413.1 766.3,451.3 766.6,481.0 766.8,420.5 767.1,486.1 767.3,450.7 767.5,406.6 767.8,378.9 768.0,432.9 768.3,411.4 768.5,378.1 768.8,459.8 769.0,438.3 769.2,413.3 769.5,377.3 769.7,464.4 770.0,465.2 770.2,390.0 770.5,381.9 770.7,445.1 770.9,421.4 771.2,390.4 771.4,431.0 771.7,489.0 771.9,416.6 772.2,391.4 772.4,467.1 772.6,379.5 772.9,434.8 773.1,485.3 773.4,416.9 773.6,475.9 773.9,377.7 774.1,407.6 774.3,363.6 774.6,480.8 774.8,419.6 775.1,374.9 775.3,383.2 775.6,402.2 775.8,411.0 776.0,401.8 776.3,389.3 776.5,362.7 776.8,482.6 777.0,457.5 777.3,442.8 777.5,416.3 777.7,410.1 778.0,435.0 778.2,425.5 778.5,397.2 778.7,382.6 779.0,449.6 779.2,431.6 779.4,420.8 779.7,339.1 779.9,444.8 780.2,412.2 780.4,420.9 780.6,436.7 780.9,391.1 781.1,425.1 781.4,438.8 781.6,420.1 781.9,413.4 782.1,443.7 782.3,447.2 782.6,384.8 782.8,442.1 783.1,391.7 783.3,428.0 783.6,451.0 783.8,460.9 784.0,480.0 784.3,400.1 784.5,401.4 784.8,437.4 785.0,459.7 785.3,442.0 785.5,418.8 785.7,381.5 786.0,445.9 786.2,480.7 786.5,416.6 786.7,436.4 787.0,330.7 787.2,487.4 787.4,405.0 787.7,376.7 787.9,459.1 788.2,475.3 788.4,443.4 788.7,435.1 788.9,407.2 789.1,421.9 789.4,483.1 789.6,416.0 789.9,415.4 790.1,443.6 790.4,415.3 790.6,472.0 790.8,437.5 791.1,472.2 791.3,425.8 791.6,399.3 791.8,492.8 792.1,424.3 792.3,400.1 792.5,416.6 792.8,369.4 793.0,427.0 793.3,349.8 793.5,421.0 793.7,466.2 794.0,428.9 794.2,447.3 794.5,381.8 794.7,366.8 795.0,363.7 795.2,396.0 795.4,427.5 795.7,443.2 795.9,462.5 796.2,398.7 796.4,467.2 796.7,431.8 796.9,414.6 797.1,406.8 797.4,472.6 797.6,467.5 797.9,465.1 798.1,391.8 798.4,463.9 798.6,455.8 798.8,400.8 799.1,388.6 799.3,353.3 799.6,422.6 799.8,387.6 800.1,487.5 800.3,398.4 800.5,389.4 800.8,385.2 801.0,438.8 801.3,367.5 801.5,359.5 801.8,419.8 802.0,418.0 802.2,432.8 802.5,431.4 802.7,420.2 803.0,468.9 803.2,472.4 803.5,430.9 803.7,440.6 803.9,383.7 804.2,428.9 804.4,457.8 804.7,489.8 804.9,433.8 805.2,462.5 805.4,490.9 805.6,345.9 805.9,496.2 806.1,355.0 806.4,298.6 806.6,415.4 806.8,437.3 807.1,392.7 807.3,455.3 807.6,314.5 807.8,388.6 808.1,469.7 808.3,356.9 808.5,415.9 808.8,407.1 809.0,365.3 809.3,475.6 809.5,469.8 809.8,406.7 810.0,403.3 810.2,428.4 810.5,423.1 810.7,428.8 811.0,458.3 811.2,472.9 811.5,449.5 811.7,413.8 811.9,400.6 812.2,470.6 812.4,346.3 812.7,320.6 812.9,409.1 813.2,450.8 813.4,424.6 813.6,383.9 813.9,420.6 814.1,337.8 814.4,427.8 814.6,376.4 814.9,395.8 815.1,321.3 815.3,397.3 815.6,394.3 815.8,449.3 816.1,424.1 816.3,468.2 816.6,278.5 816.8,410.0 817.0,420.3 817.3,410.2 817.5,394.6 817.8,387.6 818.0,484.5 818.3,356.9 818.5,407.0 818.7,411.7 819.0,334.2 819.2,397.5 819.5,441.3 819.7,444.0 819.9,375.3 820.2,404.9 820.4,401.3 820.7,460.2 820.9,399.6 821.2,433.9 821.4,439.2 821.6,352.3 821.9,393.5 822.1,416.7 822.4,363.7 822.6,326.8 822.9,466.4 823.1,364.9 823.3,392.9 823.6,406.3 823.8,345.0 824.1,367.6 824.3,420.5 824.6,350.2 824.8,409.1 825.0,401.6 825.3,454.3 825.5,398.8 825.8,376.0 826.0,413.2 826.3,398.3 826.5,347.8 826.7,404.9 827.0,424.0 827.2,329.9 827.5,426.5 827.7,493.2 828.0,448.8 828.2,407.4 828.4,445.0 828.7,442.0 828.9,415.8 829.2,403.1 829.4,405.5 829.7,395.6 829.9,351.9 830.1,264.9 830.4,347.4 830.6,367.4 830.9,419.5 831.1,389.0 831.3,433.4 831.6,392.8 831.8,433.8 832.1,349.7 832.3,310.2 832.6,353.7 832.8,288.2 833.0,432.3 833.3,356.0 833.5,393.3 833.8,382.0 834.0,428.7 834.3,390.0 834.5,391.3 834.7,413.5 835.0,344.4 835.2,358.4 835.5,341.9 835.7,405.3 836.0,409.7 836.2,428.1 836.4,354.1 836.7,348.8 836.9,385.1 837.2,409.7 837.4,379.9 837.7,365.2 837.9,363.5 838.1,391.3 838.4,341.6 838.6,335.2 838.9,412.5 839.1,369.4 839.4,377.4 839.6,424.9 839.8,398.9 840.1,370.0 840.3,337.6 840.6,402.6 840.8,390.9 841.1,384.6 841.3,391.4 841.5,424.9 841.8,348.5 842.0,383.5 842.3,360.8 842.5,352.8 842.8,389.1 843.0,406.3 843.2,396.7 843.5,390.3 843.7,400.1 844.0,382.9 844.2,418.0 844.4,386.7 844.7,390.9 844.9,363.9 845.2,355.7 845.4,314.7 845.7,333.4 845.9,348.5 846.1,368.8 846.4,366.4 846.6,356.7 846.9,374.2 847.1,365.8 847.4,392.1 847.6,354.8 847.8,392.6 848.1,379.3 848.3,380.9 848.6,289.7 848.8,360.4 849.1,335.2 849.3,399.3 849.5,346.1 849.8,370.9 850.0,335.5 850.3,373.5 850.5,395.1 850.8,339.9 851.0,277.1 851.2,399.6 851.5,364.3 851.7,388.7 852.0,341.1 852.2,358.6 852.5,350.5 852.7,388.2 852.9,321.8 853.2,377.1 853.4,351.5 853.7,367.0 853.9,357.6 854.2,395.2 854.4,357.4 854.6,348.0 854.9,396.5 855.1,329.1 855.4,388.0 855.6,375.2 855.9,377.4 856.1,324.6 856.3,373.7 856.6,371.1 856.8,348.6 857.1,353.7 857.3,324.2 857.5,370.3 857.8,375.8 858.0,381.1 858.3,381.2 858.5,336.4 858.8,342.3 859.0,367.4 859.2,361.3 859.5,423.3 859.7,332.1 860.0,343.2 860.2,420.4 860.5,373.5 860.7,359.4 860.9,312.8 861.2,348.3 861.4,318.1 861.7,307.9 861.9,333.7 862.2,384.9 862.4,396.7 862.6,364.7 862.9,331.8 863.1,342.2 863.4,279.6 863.6,333.0 863.9,383.3 864.1,367.4 864.3,323.6 864.6,351.2 864.8,371.7 865.1,379.1 865.3,352.9 865.6,346.3 865.8,359.6 866.0,379.4 866.3,339.9 866.5,327.8 866.8,390.6 867.0,333.9 867.3,374.2 867.5,362.7 867.7,323.5 868.0,394.3 868.2,358.4 868.5,299.1 868.7,306.6 869.0,372.5 869.2,389.4 869.4,312.3 869.7,345.9 869.9,344.7 870.2,404.7 870.4,350.4 870.6,404.7 870.9,362.6 871.1,292.2 871.4,458.0 871.6,300.4 871.9,351.6 872.1,340.4 872.3,366.6 872.6,285.1 872.8,370.8 873.1,401.3 873.3,369.3 873.6,319.6 873.8,371.7 874.0,348.8 874.3,400.5 874.5,376.4 874.8,396.6 875.0,391.0 875.3,365.1 875.5,340.9 875.7,302.9 876.0,342.6 876.2,389.3 876.5,389.5 876.7,400.7 877.0,363.3 877.2,385.9 877.4,366.8 877.7,389.6 877.9,323.4 878.2,369.2 878.4,344.8 878.7,369.1 878.9,312.5 879.1,395.1 879.4,354.1 879.6,338.5 879.9,367.7 880.1,350.5 880.4,370.1 880.6,351.4 880.8,372.0 881.1,346.1 881.3,396.4 881.6,364.6 881.8,382.7 882.1,382.7 882.3,372.6 882.5,386.9" fill="none" stroke="#0072BD" stroke-width="6" stroke-linejoin="bevel" shape-rendering="crispEdges"/>
<polyline points="191.4,419.3 883.1,419.3" fill="none" stroke="#FF0000" stroke-width="13" stroke-linejoin="round" shape-rendering="crispEdges"/>
</g>
<g id="panel-b">
<path d="M1038.8 49.4V798.9M1155.3 49.4V798.9M1271.7 49.4V798.9M1388.1 49.4V798.9M1504.6 49.4V798.9" stroke="#262626" stroke-opacity="0.15" stroke-width="5.7" fill="none"/>
<path d="M922.4 674.0H1621.0M922.4 549.1H1621.0M922.4 424.1H1621.0M922.4 299.2H1621.0M922.4 174.3H1621.0" stroke="#262626" stroke-opacity="0.15" stroke-width="5.7" fill="none"/>
<path d="M1038.8 798.9v-9.8M1038.8 49.4v9.3M1155.3 798.9v-9.8M1155.3 49.4v9.3M1271.7 798.9v-9.8M1271.7 49.4v9.3M1388.1 798.9v-9.8M1388.1 49.4v9.3M1504.6 798.9v-9.8M1504.6 49.4v9.3M922.4 674.0h10.4M1621.0 674.0h-10.9M922.4 549.1h10.4M1621.0 549.1h-10.9M922.4 424.1h10.4M1621.0 424.1h-10.9M922.4 299.2h10.4M1621.0 299.2h-10.9M922.4 174.3h10.4M1621.0 174.3h-10.9" stroke="#262626" stroke-width="5.7" fill="none"/>
<path d="M920.0 49.4H1624.0" stroke="#262626" stroke-width="4.7"/>
<path d="M920.0 798.9H1624.0" stroke="#262626" stroke-width="5.7"/>
<path d="M922.4 47.0V801.8" stroke="#262626" stroke-width="4.8"/>
<path d="M1621.0 47.0V801.8" stroke="#262626" stroke-width="5.9"/>
<polyline points="922.4,401.2 922.5,422.0 922.6,448.1 922.8,392.0 922.9,400.0 923.0,456.9 923.1,434.7 923.2,459.7 923.4,465.6 923.5,365.2 923.6,434.0 923.7,400.9 923.9,412.2 924.0,420.7 924.1,456.4 924.2,455.3 924.3,408.3 924.5,386.0 924.6,482.1 924.7,452.9 924.8,429.1 924.9,388.7 925.1,405.1 925.2,396.2 925.3,414.7 925.4,453.3 925.6,426.9 925.7,381.5 925.8,416.8 925.9,462.0 926.0,376.7 926.2,407.6 926.3,398.9 926.4,358.8 926.5,440.1 926.6,444.3 926.8,503.3 926.9,417.6 927.0,402.8 927.1,423.1 927.3,421.9 927.4,392.1 927.5,408.8 927.6,409.1 927.7,424.6 927.9,423.8 928.0,388.7 928.1,425.4 928.2,435.9 928.3,440.1 928.5,426.2 928.6,416.2 928.7,405.8 928.8,418.1 929.0,433.0 929.1,475.0 929.2,402.4 929.3,454.3 929.4,427.5 929.6,383.9 929.7,414.3 929.8,448.6 929.9,399.7 930.0,431.0 930.2,437.9 930.3,382.3 930.4,400.6 930.5,319.7 930.6,457.2 930.8,422.1 930.9,408.3 931.0,379.7 931.1,430.6 931.3,371.2 931.4,417.0 931.5,445.3 931.6,426.8 931.7,423.1 931.9,425.8 932.0,440.7 932.1,428.3 932.2,390.0 932.3,393.0 932.5,360.4 932.6,448.2 932.7,455.2 932.8,353.5 933.0,409.0 933.1,408.5 933.2,449.0 933.3,408.6 933.4,419.5 933.6,420.7 933.7,383.4 933.8,447.5 933.9,416.7 934.0,478.3 934.2,408.1 934.3,457.8 934.4,364.4 934.5,465.8 934.7,370.4 934.8,449.4 934.9,474.4 935.0,415.8 935.1,415.6 935.3,453.5 935.4,463.7 935.5,499.9 935.6,433.9 935.7,412.2 935.9,488.4 936.0,419.0 936.1,371.8 936.2,480.0 936.4,405.2 936.5,405.8 936.6,443.2 936.7,413.0 936.8,458.9 937.0,409.0 937.1,371.6 937.2,434.6 937.3,443.6 937.4,488.3 937.6,363.5 937.7,363.5 937.8,439.8 937.9,420.9 938.0,426.8 938.2,380.1 938.3,474.3 938.4,402.2 938.5,496.5 938.7,403.0 938.8,448.0 938.9,382.0 939.0,406.4 939.1,443.8 939.3,447.9 939.4,462.6 939.5,370.2 939.6,390.0 939.7,443.8 939.9,467.2 940.0,408.5 940.1,424.0 940.2,440.1 940.4,420.8 940.5,403.2 940.6,425.5 940.7,404.6 940.8,424.8 941.0,416.0 941.1,315.5 941.2,399.3 941.3,419.8 941.4,434.7 941.6,418.8 941.7,432.4 941.8,431.1 941.9,408.1 942.1,397.0 942.2,477.7 942.3,431.3 942.4,422.6 942.5,461.4 942.7,411.2 942.8,433.1 942.9,442.7 943.0,482.5 943.1,472.1 943.3,422.5 943.4,367.8 943.5,439.1 943.6,493.3 943.7,385.8 943.9,420.2 944.0,388.0 944.1,446.2 944.2,398.0 944.4,414.7 944.5,466.3 944.6,437.4 944.7,422.1 944.8,454.5 945.0,387.6 945.1,439.2 945.2,397.7 945.3,434.1 945.4,405.3 945.6,408.1 945.7,487.9 945.8,434.4 945.9,402.8 946.1,437.4 946.2,377.5 946.3,384.4 946.4,451.6 946.5,420.7 946.7,408.3 946.8,448.0 946.9,372.3 947.0,400.5 947.1,423.5 947.3,451.7 947.4,454.1 947.5,450.5 947.6,401.1 947.8,454.5 947.9,397.7 948.0,351.3 948.1,470.2 948.2,447.6 948.4,390.8 948.5,417.8 948.6,455.1 948.7,429.2 948.8,428.5 949.0,403.4 949.1,455.6 949.2,436.2 949.3,432.0 949.5,416.1 949.6,434.8 949.7,475.4 949.8,470.3 949.9,388.4 950.1,443.5 950.2,424.5 950.3,427.0 950.4,415.7 950.5,384.0 950.7,426.7 950.8,402.3 950.9,411.4 951.0,419.6 951.1,463.8 951.3,442.6 951.4,398.1 951.5,438.4 951.6,439.6 951.8,437.4 951.9,467.3 952.0,455.1 952.1,422.2 952.2,457.2 952.4,469.8 952.5,405.6 952.6,402.5 952.7,431.0 952.8,461.2 953.0,397.3 953.1,415.5 953.2,480.0 953.3,460.0 953.5,476.2 953.6,496.1 953.7,389.0 953.8,384.1 953.9,498.6 954.1,413.2 954.2,436.3 954.3,422.9 954.4,405.3 954.5,404.6 954.7,431.9 954.8,450.1 954.9,412.0 955.0,375.5 955.2,473.5 955.3,456.7 955.4,438.5 955.5,460.3 955.6,445.6 955.8,404.0 955.9,420.6 956.0,438.4 956.1,537.8 956.2,457.0 956.4,409.1 956.5,449.6 956.6,468.4 956.7,450.9 956.9,433.9 957.0,386.4 957.1,435.2 957.2,447.5 957.3,366.0 957.5,434.9 957.6,392.3 957.7,418.9 957.8,413.0 957.9,469.7 958.1,422.7 958.2,449.6 958.3,470.0 958.4,423.0 958.5,440.6 958.7,431.8 958.8,404.1 958.9,505.9 959.0,426.9 959.2,485.7 959.3,490.2 959.4,437.6 959.5,452.5 959.6,509.3 959.8,441.3 959.9,432.7 960.0,399.6 960.1,406.2 960.2,439.8 960.4,486.6 960.5,444.5 960.6,424.6 960.7,416.9 960.9,408.3 961.0,432.5 961.1,424.5 961.2,453.1 961.3,447.3 961.5,419.5 961.6,407.7 961.7,473.4 961.8,450.2 961.9,442.6 962.1,415.4 962.2,434.9 962.3,358.6 962.4,429.4 962.6,456.3 962.7,440.3 962.8,450.4 962.9,438.4 963.0,424.5 963.2,388.7 963.3,391.1 963.4,416.6 963.5,466.3 963.6,419.3 963.8,458.5 963.9,437.4 964.0,419.9 964.1,435.4 964.3,369.8 964.4,433.5 964.5,444.8 964.6,441.8 964.7,405.5 964.9,484.6 965.0,449.3 965.1,469.6 965.2,444.5 965.3,489.8 965.5,445.6 965.6,409.2 965.7,460.2 965.8,404.2 965.9,458.6 966.1,442.8 966.2,473.1 966.3,420.9 966.4,422.7 966.6,432.8 966.7,409.3 966.8,451.6 966.9,381.8 967.0,431.8 967.2,461.4 967.3,445.7 967.4,438.5 967.5,473.1 967.6,469.1 967.8,387.3 967.9,421.0 968.0,406.0 968.1,364.0 968.3,414.1 968.4,458.6 968.5,408.8 968.6,455.8 968.7,398.8 968.9,414.4 969.0,398.8 969.1,459.2 969.2,486.9 969.3,423.7 969.5,410.7 969.6,431.7 969.7,445.1 969.8,321.7 970.0,446.4 970.1,416.4 970.2,476.2 970.3,442.6 970.4,415.8 970.6,434.7 970.7,449.5 970.8,447.3 970.9,422.0 971.0,412.0 971.2,480.6 971.3,369.6 971.4,423.7 971.5,436.1 971.6,468.3 971.8,458.0 971.9,412.6 972.0,423.2 972.1,491.9 972.3,464.0 972.4,442.1 972.5,466.3 972.6,381.7 972.7,402.6 972.9,450.4 973.0,483.9 973.1,433.4 973.2,448.7 973.3,451.0 973.5,472.3 973.6,417.2 973.7,438.6 973.8,403.3 974.0,413.1 974.1,449.9 974.2,433.4 974.3,457.2 974.4,433.9 974.6,466.8 974.7,417.6 974.8,500.5 974.9,427.3 975.0,438.4 975.2,415.6 975.3,465.5 975.4,432.5 975.5,418.7 975.7,439.9 975.8,432.9 975.9,438.1 976.0,449.6 976.1,451.6 976.3,480.4 976.4,430.1 976.5,436.3 976.6,390.7 976.7,460.6 976.9,390.4 977.0,403.6 977.1,503.3 977.2,438.1 977.4,397.2 977.5,437.1 977.6,414.8 977.7,407.6 977.8,458.1 978.0,423.4 978.1,439.9 978.2,399.0 978.3,507.5 978.4,447.0 978.6,469.4 978.7,441.0 978.8,424.5 978.9,429.0 979.0,438.7 979.2,410.8 979.3,459.3 979.4,410.2 979.5,433.9 979.7,473.0 979.8,429.6 979.9,426.2 980.0,433.3 980.1,472.0 980.3,436.7 980.4,375.8 980.5,380.3 980.6,463.1 980.7,442.1 980.9,452.1 981.0,479.5 981.1,480.6 981.2,441.0 981.4,401.0 981.5,410.1 981.6,400.6 981.7,380.1 981.8,457.0 982.0,444.2 982.1,483.9 982.2,447.8 982.3,427.2 982.4,404.6 982.6,471.8 982.7,458.0 982.8,444.8 982.9,446.1 983.1,485.9 983.2,422.5 983.3,310.5 983.4,450.4 983.5,459.3 983.7,443.9 983.8,457.2 983.9,443.8 984.0,402.7 984.1,441.2 984.3,426.8 984.4,438.2 984.5,481.5 984.6,493.8 984.8,423.3 984.9,461.2 985.0,445.7 985.1,460.0 985.2,477.4 985.4,399.1 985.5,358.6 985.6,398.4 985.7,475.5 985.8,452.3 986.0,429.1 986.1,472.8 986.2,445.1 986.3,430.1 986.4,384.2 986.6,486.0 986.7,436.2 986.8,473.1 986.9,506.1 987.1,419.8 987.2,495.8 987.3,449.4 987.4,416.4 987.5,434.1 987.7,448.0 987.8,407.4 987.9,452.8 988.0,459.2 988.1,399.8 988.3,435.3 988.4,461.9 988.5,474.0 988.6,454.3 988.8,406.9 988.9,454.7 989.0,434.7 989.1,395.7 989.2,396.2 989.4,479.4 989.5,402.0 989.6,514.1 989.7,421.0 989.8,479.3 990.0,460.1 990.1,455.4 990.2,459.1 990.3,439.8 990.5,452.4 990.6,385.1 990.7,447.0 990.8,470.0 990.9,434.5 991.1,460.4 991.2,439.6 991.3,453.9 991.4,438.3 991.5,428.9 991.7,412.9 991.8,399.1 991.9,418.2 992.0,442.4 992.2,456.1 992.3,472.1 992.4,396.3 992.5,452.4 992.6,450.0 992.8,434.1 992.9,415.6 993.0,393.3 993.1,423.1 993.2,475.6 993.4,423.4 993.5,445.8 993.6,457.2 993.7,409.5 993.8,444.5 994.0,440.7 994.1,416.4 994.2,425.6 994.3,423.0 994.5,432.0 994.6,456.5 994.7,455.7 994.8,443.7 994.9,439.6 995.1,411.9 995.2,480.1 995.3,436.6 995.4,512.6 995.5,404.2 995.7,417.5 995.8,458.7 995.9,454.8 996.0,444.2 996.2,466.8 996.3,435.8 996.4,416.3 996.5,473.6 996.6,440.3 996.8,467.8 996.9,399.2 997.0,487.8 997.1,455.9 997.2,433.7 997.4,437.7 997.5,459.1 997.6,428.3 997.7,452.9 997.9,421.7 998.0,479.5 998.1,456.4 998.2,407.2 998.3,397.1 998.5,395.7 998.6,468.3 998.7,356.3 998.8,435.7 998.9,371.1 999.1,421.0 999.2,473.1 999.3,423.4 999.4,445.6 999.5,426.7 999.7,455.7 999.8,432.2 999.9,433.0 1000.0,464.3 1000.2,425.7 1000.3,459.7 1000.4,459.3 1000.5,475.6 1000.6,425.5 1000.8,448.1 1000.9,491.8 1001.0,470.1 1001.1,432.9 1001.2,440.1 1001.4,438.0 1001.5,460.1 1001.6,439.0 1001.7,439.9 1001.9,416.4 1002.0,443.4 1002.1,393.9 1002.2,447.4 1002.3,423.3 1002.5,392.9 1002.6,478.5 1002.7,450.3 1002.8,401.1 1002.9,447.0 1003.1,452.4 1003.2,389.1 1003.3,397.6 1003.4,429.9 1003.6,453.8 1003.7,418.0 1003.8,455.8 1003.9,391.4 1004.0,472.4 1004.2,473.4 1004.3,486.3 1004.4,446.5 1004.5,406.9 1004.6,444.5 1004.8,409.6 1004.9,430.1 1005.0,430.9 1005.1,429.8 1005.3,440.7 1005.4,456.6 1005.5,420.7 1005.6,422.2 1005.7,410.1 1005.9,435.4 1006.0,420.3 1006.1,455.4 1006.2,422.1 1006.3,474.7 1006.5,484.2 1006.6,417.4 1006.7,449.5 1006.8,435.2 1006.9,441.4 1007.1,437.4 1007.2,505.0 1007.3,455.4 1007.4,441.8 1007.6,463.3 1007.7,441.8 1007.8,462.3 1007.9,443.9 1008.0,433.7 1008.2,457.2 1008.3,497.6 1008.4,431.7 1008.5,436.3 1008.6,451.4 1008.8,448.0 1008.9,476.0 1009.0,435.2 1009.1,437.5 1009.3,426.5 1009.4,449.6 1009.5,494.6 1009.6,483.9 1009.7,452.2 1009.9,394.2 1010.0,456.5 1010.1,426.4 1010.2,448.4 1010.3,434.5 1010.5,439.0 1010.6,473.8 1010.7,441.9 1010.8,405.6 1011.0,481.2 1011.1,451.5 1011.2,438.1 1011.3,442.7 1011.4,433.5 1011.6,474.5 1011.7,386.6 1011.8,423.3 1011.9,419.6 1012.0,410.7 1012.2,458.8 1012.3,424.7 1012.4,459.8 1012.5,448.5 1012.7,426.2 1012.8,414.6 1012.9,444.5 1013.0,458.7 1013.1,452.7 1013.3,403.7 1013.4,443.7 1013.5,507.3 1013.6,415.9 1013.7,422.7 1013.9,477.0 1014.0,487.2 1014.1,464.1 1014.2,429.9 1014.3,466.1 1014.5,499.0 1014.6,420.4 1014.7,391.9 1014.8,470.3 1015.0,443.2 1015.1,455.4 1015.2,453.4 1015.3,469.8 1015.4,449.1 1015.6,422.9 1015.7,439.1 1015.8,511.0 1015.9,488.0 1016.0,465.6 1016.2,437.6 1016.3,429.3 1016.4,404.7 1016.5,417.5 1016.7,505.2 1016.8,466.8 1016.9,427.2 1017.0,430.3 1017.1,473.2 1017.3,432.7 1017.4,433.0 1017.5,460.0 1017.6,473.0 1017.7,423.7 1017.9,480.9 1018.0,456.8 1018.1,414.0 1018.2,458.0 1018.4,499.4 1018.5,454.2 1018.6,483.2 1018.7,466.9 1018.8,463.9 1019.0,436.4 1019.1,419.8 1019.2,480.7 1019.3,482.8 1019.4,461.5 1019.6,404.0 1019.7,428.8 1019.8,490.6 1019.9,457.9 1020.1,466.2 1020.2,450.6 1020.3,448.8 1020.4,446.7 1020.5,435.0 1020.7,384.3 1020.8,477.3 1020.9,484.1 1021.0,437.3 1021.1,468.5 1021.3,433.7 1021.4,488.0 1021.5,487.1 1021.6,476.5 1021.7,486.1 1021.9,471.6 1022.0,432.0 1022.1,487.3 1022.2,475.9 1022.4,433.2 1022.5,466.1 1022.6,454.3 1022.7,438.6 1022.8,436.1 1023.0,457.7 1023.1,470.4 1023.2,505.7 1023.3,452.2 1023.4,437.2 1023.6,440.0 1023.7,505.9 1023.8,455.4 1023.9,447.6 1024.1,460.2 1024.2,506.0 1024.3,488.0 1024.4,502.7 1024.5,435.3 1024.7,417.7 1024.8,470.2 1024.9,504.9 1025.0,481.3 1025.1,437.4 1025.3,459.1 1025.4,430.5 1025.5,497.0 1025.6,443.1 1025.8,473.2 1025.9,453.4 1026.0,433.3 1026.1,451.7 1026.2,404.8 1026.4,456.9 1026.5,456.6 1026.6,500.6 1026.7,451.8 1026.8,497.9 1027.0,441.3 1027.1,474.5 1027.2,443.3 1027.3,461.1 1027.4,471.8 1027.6,482.9 1027.7,466.7 1027.8,407.9 1027.9,456.1 1028.1,441.7 1028.2,411.5 1028.3,411.6 1028.4,457.4 1028.5,490.9 1028.7,508.3 1028.8,424.6 1028.9,481.2 1029.0,433.4 1029.1,423.1 1029.3,439.8 1029.4,399.8 1029.5,426.8 1029.6,478.9 1029.8,469.9 1029.9,473.9 1030.0,515.3 1030.1,438.6 1030.2,459.2 1030.4,442.4 1030.5,478.3 1030.6,476.6 1030.7,488.9 1030.8,457.4 1031.0,491.8 1031.1,448.8 1031.2,425.5 1031.3,447.5 1031.5,477.6 1031.6,460.8 1031.7,475.5 1031.8,465.8 1031.9,428.4 1032.1,470.6 1032.2,497.7 1032.3,498.8 1032.4,436.9 1032.5,467.8 1032.7,458.0 1032.8,493.6 1032.9,480.8 1033.0,505.3 1033.2,440.7 1033.3,486.5 1033.4,426.0 1033.5,475.3 1033.6,442.8 1033.8,472.9 1033.9,488.0 1034.0,451.3 1034.1,465.6 1034.2,484.8 1034.4,448.6 1034.5,450.1 1034.6,490.2 1034.7,418.9 1034.8,459.3 1035.0,518.0 1035.1,437.3 1035.2,465.3 1035.3,492.0 1035.5,489.9 1035.6,447.5 1035.7,440.7 1035.8,503.1 1035.9,473.1 1036.1,497.5 1036.2,432.5 1036.3,503.1 1036.4,498.4 1036.5,464.4 1036.7,434.8 1036.8,463.4 1036.9,450.1 1037.0,472.8 1037.2,477.2 1037.3,455.4 1037.4,473.9 1037.5,460.6 1037.6,496.6 1037.8,459.5 1037.9,457.8 1038.0,456.8 1038.1,469.1 1038.2,511.2 1038.4,474.2 1038.5,489.4 1038.6,470.9 1038.7,466.1 1038.9,476.1 1039.0,438.5 1039.1,437.4 1039.2,476.7 1039.3,469.8 1039.5,535.9 1039.6,458.9 1039.7,485.3 1039.8,430.1 1039.9,401.1 1040.1,494.1 1040.2,477.5 1040.3,496.2 1040.4,495.8 1040.6,439.5 1040.7,475.9 1040.8,485.0 1040.9,469.2 1041.0,441.7 1041.2,444.6 1041.3,529.5 1041.4,462.8 1041.5,485.3 1041.6,448.6 1041.8,477.5 1041.9,462.8 1042.0,490.8 1042.1,449.1 1042.2,518.7 1042.4,456.2 1042.5,505.0 1042.6,498.5 1042.7,454.0 1042.9,515.8 1043.0,498.3 1043.1,495.8 1043.2,487.3 1043.3,447.4 1043.5,399.6 1043.6,472.4 1043.7,429.9 1043.8,516.4 1043.9,480.1 1044.1,511.3 1044.2,553.6 1044.3,492.7 1044.4,503.4 1044.6,444.0 1044.7,419.2 1044.8,470.2 1044.9,443.7 1045.0,480.3 1045.2,474.5 1045.3,441.4 1045.4,525.5 1045.5,404.0 1045.6,476.4 1045.8,532.7 1045.9,472.6 1046.0,495.2 1046.1,497.3 1046.3,502.5 1046.4,488.2 1046.5,499.5 1046.6,492.5 1046.7,500.1 1046.9,543.1 1047.0,467.3 1047.1,465.7 1047.2,496.4 1047.3,512.1 1047.5,521.2 1047.6,451.6 1047.7,496.7 1047.8,447.0 1048.0,461.7 1048.1,471.8 1048.2,494.5 1048.3,507.0 1048.4,540.7 1048.6,481.5 1048.7,511.9 1048.8,486.9 1048.9,481.3 1049.0,536.7 1049.2,432.7 1049.3,488.6 1049.4,473.2 1049.5,531.4 1049.6,475.9 1049.8,490.6 1049.9,504.0 1050.0,487.9 1050.1,464.9 1050.3,442.4 1050.4,529.5 1050.5,468.9 1050.6,399.4 1050.7,436.1 1050.9,470.0 1051.0,525.2 1051.1,462.7 1051.2,486.0 1051.3,507.4 1051.5,416.0 1051.6,472.2 1051.7,479.8 1051.8,447.5 1052.0,514.5 1052.1,505.4 1052.2,487.2 1052.3,461.3 1052.4,470.3 1052.6,540.0 1052.7,492.1 1052.8,477.3 1052.9,544.9 1053.0,500.3 1053.2,481.6 1053.3,479.7 1053.4,539.5 1053.5,530.9 1053.7,488.4 1053.8,512.1 1053.9,500.5 1054.0,462.1 1054.1,434.3 1054.3,423.7 1054.4,513.4 1054.5,520.8 1054.6,508.3 1054.7,452.5 1054.9,544.0 1055.0,572.0 1055.1,517.2 1055.2,509.2 1055.3,523.5 1055.5,508.6 1055.6,463.3 1055.7,480.2 1055.8,519.2 1056.0,565.6 1056.1,490.2 1056.2,513.2 1056.3,465.4 1056.4,481.3 1056.6,510.5 1056.7,561.1 1056.8,498.4 1056.9,488.3 1057.0,539.2 1057.2,458.1 1057.3,519.1 1057.4,554.4 1057.5,573.3 1057.7,455.1 1057.8,540.7 1057.9,481.7 1058.0,555.8 1058.1,462.9 1058.3,451.7 1058.4,545.8 1058.5,550.1 1058.6,486.4 1058.7,521.0 1058.9,512.4 1059.0,553.4 1059.1,511.0 1059.2,543.1 1059.4,479.8 1059.5,553.6 1059.6,536.0 1059.7,470.7 1059.8,518.3 1060.0,538.2 1060.1,516.2 1060.2,518.9 1060.3,520.2 1060.4,486.2 1060.6,494.6 1060.7,516.5 1060.8,534.9 1060.9,450.1 1061.1,492.0 1061.2,507.2 1061.3,515.1 1061.4,505.0 1061.5,506.4 1061.7,499.8 1061.8,505.1 1061.9,511.1 1062.0,500.3 1062.1,522.8 1062.3,521.1 1062.4,500.2 1062.5,514.2 1062.6,540.8 1062.7,491.0 1062.9,502.0 1063.0,540.7 1063.1,514.1 1063.2,509.4 1063.4,531.5 1063.5,503.2 1063.6,599.9 1063.7,537.3 1063.8,567.9 1064.0,574.0 1064.1,503.2 1064.2,444.9 1064.3,567.1 1064.4,531.9 1064.6,499.9 1064.7,591.0 1064.8,519.9 1064.9,500.0 1065.1,603.0 1065.2,504.7 1065.3,500.9 1065.4,524.3 1065.5,484.6 1065.7,541.4 1065.8,525.7 1065.9,509.9 1066.0,520.1 1066.1,505.1 1066.3,548.7 1066.4,550.4 1066.5,562.0 1066.6,518.0 1066.8,497.0 1066.9,464.3 1067.0,473.0 1067.1,574.5 1067.2,517.1 1067.4,466.2 1067.5,563.9 1067.6,500.0 1067.7,565.5 1067.8,522.4 1068.0,506.1 1068.1,482.4 1068.2,521.3 1068.3,544.0 1068.5,587.0 1068.6,576.3 1068.7,493.7 1068.8,523.9 1068.9,531.1 1069.1,510.3 1069.2,501.6 1069.3,455.1 1069.4,526.4 1069.5,497.6 1069.7,516.9 1069.8,526.3 1069.9,564.3 1070.0,520.1 1070.1,563.7 1070.3,600.3 1070.4,494.7 1070.5,563.5 1070.6,580.3 1070.8,557.7 1070.9,542.3 1071.0,569.1 1071.1,508.4 1071.2,517.5 1071.4,515.5 1071.5,506.4 1071.6,555.7 1071.7,507.7 1071.8,544.5 1072.0,556.2 1072.1,573.8 1072.2,541.3 1072.3,565.5 1072.5,511.3 1072.6,516.5 1072.7,570.1 1072.8,573.0 1072.9,519.7 1073.1,552.2 1073.2,524.9 1073.3,523.4 1073.4,521.1 1073.5,531.0 1073.7,534.6 1073.8,537.4 1073.9,544.8 1074.0,541.4 1074.2,551.6 1074.3,533.5 1074.4,493.2 1074.5,510.2 1074.6,566.0 1074.8,540.8 1074.9,533.8 1075.0,590.6 1075.1,567.4 1075.2,510.3 1075.4,534.4 1075.5,482.6 1075.6,551.1 1075.7,499.8 1075.9,538.1 1076.0,568.9 1076.1,529.6 1076.2,505.0 1076.3,526.8 1076.5,535.8 1076.6,514.5 1076.7,565.0 1076.8,544.4 1076.9,551.9 1077.1,511.5 1077.2,570.9 1077.3,524.5 1077.4,556.2 1077.5,608.6 1077.7,532.7 1077.8,566.1 1077.9,533.3 1078.0,515.6 1078.2,490.5 1078.3,558.3 1078.4,530.6 1078.5,471.4 1078.6,503.3 1078.8,537.7 1078.9,498.0 1079.0,483.1 1079.1,502.5 1079.2,549.0 1079.4,505.1 1079.5,526.6 1079.6,531.6 1079.7,511.6 1079.9,516.7 1080.0,526.8 1080.1,512.0 1080.2,501.5 1080.3,569.5 1080.5,560.2 1080.6,489.9 1080.7,489.9 1080.8,517.6 1080.9,572.5 1081.1,500.0 1081.2,525.9 1081.3,507.5 1081.4,523.9 1081.6,541.8 1081.7,482.8 1081.8,528.7 1081.9,505.0 1082.0,575.9 1082.2,523.4 1082.3,472.9 1082.4,517.8 1082.5,502.7 1082.6,492.6 1082.8,478.9 1082.9,524.4 1083.0,552.9 1083.1,498.8 1083.2,558.9 1083.4,554.0 1083.5,481.7 1083.6,554.5 1083.7,545.5 1083.9,517.6 1084.0,572.1 1084.1,552.4 1084.2,517.1 1084.3,562.4 1084.5,571.8 1084.6,560.2 1084.7,503.7 1084.8,535.2 1084.9,518.5 1085.1,520.9 1085.2,527.6 1085.3,539.3 1085.4,529.8 1085.6,559.4 1085.7,506.7 1085.8,512.8 1085.9,574.8 1086.0,571.2 1086.2,532.0 1086.3,521.5 1086.4,554.8 1086.5,535.5 1086.6,510.5 1086.8,490.2 1086.9,550.8 1087.0,527.0 1087.1,555.1 1087.3,532.3 1087.4,544.6 1087.5,490.6 1087.6,547.5 1087.7,543.8 1087.9,554.7 1088.0,519.6 1088.1,485.5 1088.2,533.4 1088.3,545.3 1088.5,495.6 1088.6,533.1 1088.7,463.5 1088.8,541.1 1089.0,521.3 1089.1,527.7 1089.2,543.6 1089.3,532.3 1089.4,536.2 1089.6,535.3 1089.7,520.2 1089.8,520.2 1089.9,544.7 1090.0,523.8 1090.2,510.0 1090.3,469.4 1090.4,502.0 1090.5,604.9 1090.6,498.0 1090.8,529.4 1090.9,535.5 1091.0,564.8 1091.1,600.6 1091.3,504.9 1091.4,518.3 1091.5,501.1 1091.6,546.6 1091.7,528.5 1091.9,543.7 1092.0,547.3 1092.1,432.7 1092.2,548.3 1092.3,514.4 1092.5,521.5 1092.6,565.7 1092.7,545.5 1092.8,511.4 1093.0,547.9 1093.1,519.2 1093.2,513.1 1093.3,519.3 1093.4,522.4 1093.6,527.5 1093.7,540.1 1093.8,568.8 1093.9,514.5 1094.0,498.8 1094.2,531.0 1094.3,532.0 1094.4,522.0 1094.5,539.1 1094.7,592.2 1094.8,563.7 1094.9,575.7 1095.0,517.3 1095.1,484.0 1095.3,532.6 1095.4,476.9 1095.5,529.9 1095.6,527.6 1095.7,537.9 1095.9,564.6 1096.0,527.1 1096.1,514.6 1096.2,537.7 1096.4,461.9 1096.5,559.9 1096.6,529.8 1096.7,555.6 1096.8,545.0 1097.0,559.1 1097.1,569.8 1097.2,552.4 1097.3,540.9 1097.4,544.7 1097.6,539.4 1097.7,526.4 1097.8,595.1 1097.9,498.2 1098.0,537.6 1098.2,602.4 1098.3,559.5 1098.4,562.8 1098.5,497.6 1098.7,502.8 1098.8,539.1 1098.9,564.4 1099.0,556.2 1099.1,589.6 1099.3,554.0 1099.4,501.8 1099.5,498.2 1099.6,550.0 1099.7,517.8 1099.9,531.9 1100.0,536.4 1100.1,578.2 1100.2,532.3 1100.4,573.5 1100.5,549.0 1100.6,477.2 1100.7,535.0 1100.8,505.0 1101.0,494.2 1101.1,551.3 1101.2,532.0 1101.3,531.4 1101.4,492.3 1101.6,514.4 1101.7,526.3 1101.8,499.2 1101.9,539.4 1102.1,520.3 1102.2,449.3 1102.3,552.1 1102.4,531.6 1102.5,505.0 1102.7,496.3 1102.8,508.5 1102.9,491.4 1103.0,520.6 1103.1,521.4 1103.3,523.6 1103.4,550.3 1103.5,535.8 1103.6,555.4 1103.8,525.3 1103.9,578.9 1104.0,555.4 1104.1,477.9 1104.2,514.6 1104.4,531.6 1104.5,496.4 1104.6,490.9 1104.7,558.6 1104.8,501.7 1105.0,571.5 1105.1,551.5 1105.2,498.7 1105.3,550.5 1105.4,549.3 1105.6,495.7 1105.7,520.7 1105.8,570.8 1105.9,507.5 1106.1,515.9 1106.2,490.8 1106.3,567.1 1106.4,522.3 1106.5,545.9 1106.7,516.2 1106.8,558.9 1106.9,547.4 1107.0,532.5 1107.1,522.3 1107.3,541.7 1107.4,483.9 1107.5,550.4 1107.6,532.6 1107.8,509.1 1107.9,531.5 1108.0,536.7 1108.1,577.6 1108.2,498.5 1108.4,579.1 1108.5,524.4 1108.6,557.0 1108.7,574.7 1108.8,538.9 1109.0,547.8 1109.1,551.7 1109.2,532.0 1109.3,559.9 1109.5,548.6 1109.6,513.3 1109.7,499.8 1109.8,559.3 1109.9,523.2 1110.1,524.9 1110.2,551.2 1110.3,517.1 1110.4,504.5 1110.5,493.0 1110.7,465.7 1110.8,550.2 1110.9,515.0 1111.0,594.3 1111.1,495.3 1111.3,542.9 1111.4,564.6 1111.5,538.0 1111.6,527.0 1111.8,547.1 1111.9,507.1 1112.0,571.6 1112.1,577.6 1112.2,583.6 1112.4,528.1 1112.5,525.1 1112.6,509.3 1112.7,473.3 1112.8,499.1 1113.0,529.8 1113.1,520.5 1113.2,510.7 1113.3,569.9 1113.5,523.3 1113.6,532.9 1113.7,535.9 1113.8,522.9 1113.9,554.6 1114.1,528.5 1114.2,516.7 1114.3,546.4 1114.4,585.5 1114.5,569.6 1114.7,548.1 1114.8,490.6 1114.9,507.0 1115.0,545.2 1115.2,524.4 1115.3,561.3 1115.4,514.3 1115.5,536.9 1115.6,557.6 1115.8,523.1 1115.9,553.3 1116.0,510.8 1116.1,504.5 1116.2,500.1 1116.4,554.4 1116.5,566.1 1116.6,548.5 1116.7,567.2 1116.9,500.3 1117.0,571.9 1117.1,609.5 1117.2,563.7 1117.3,572.8 1117.5,543.2 1117.6,533.0 1117.7,541.4 1117.8,549.1 1117.9,514.8 1118.1,543.7 1118.2,505.5 1118.3,538.4 1118.4,564.3 1118.5,501.8 1118.7,559.9 1118.8,538.0 1118.9,472.1 1119.0,540.9 1119.2,554.0 1119.3,549.5 1119.4,539.4 1119.5,553.5 1119.6,570.8 1119.8,551.5 1119.9,519.1 1120.0,535.7 1120.1,532.7 1120.2,491.8 1120.4,562.6 1120.5,523.5 1120.6,515.7 1120.7,535.4 1120.9,546.8 1121.0,519.6 1121.1,513.8 1121.2,565.0 1121.3,492.7 1121.5,523.1 1121.6,498.4 1121.7,519.0 1121.8,527.2 1121.9,547.0 1122.1,535.4 1122.2,532.1 1122.3,567.0 1122.4,512.2 1122.6,553.7 1122.7,543.5 1122.8,535.1 1122.9,565.4 1123.0,557.4 1123.2,507.9 1123.3,529.3 1123.4,575.5 1123.5,568.0 1123.6,544.9 1123.8,593.2 1123.9,538.4 1124.0,535.5 1124.1,561.8 1124.3,547.3 1124.4,569.4 1124.5,563.5 1124.6,533.7 1124.7,561.2 1124.9,572.1 1125.0,540.3 1125.1,527.1 1125.2,560.0 1125.3,548.6 1125.5,523.1 1125.6,525.1 1125.7,618.0 1125.8,533.9 1125.9,510.9 1126.1,522.1 1126.2,552.6 1126.3,515.7 1126.4,585.5 1126.6,543.0 1126.7,548.2 1126.8,531.6 1126.9,597.9 1127.0,561.2 1127.2,563.1 1127.3,532.0 1127.4,553.5 1127.5,548.8 1127.6,558.3 1127.8,546.0 1127.9,523.0 1128.0,553.7 1128.1,563.5 1128.3,564.6 1128.4,535.9 1128.5,526.5 1128.6,561.4 1128.7,545.3 1128.9,579.5 1129.0,534.9 1129.1,541.4 1129.2,587.0 1129.3,559.5 1129.5,546.1 1129.6,584.2 1129.7,513.2 1129.8,545.4 1130.0,588.2 1130.1,601.7 1130.2,552.3 1130.3,562.3 1130.4,550.3 1130.6,562.8 1130.7,597.1 1130.8,533.6 1130.9,531.7 1131.0,498.5 1131.2,539.8 1131.3,524.3 1131.4,520.8 1131.5,547.3 1131.7,557.5 1131.8,563.6 1131.9,539.3 1132.0,560.3 1132.1,536.6 1132.3,536.1 1132.4,549.8 1132.5,540.1 1132.6,575.1 1132.7,541.2 1132.9,564.7 1133.0,550.1 1133.1,572.9 1133.2,534.2 1133.3,557.8 1133.5,530.3 1133.6,582.5 1133.7,583.5 1133.8,566.4 1134.0,579.7 1134.1,543.9 1134.2,570.0 1134.3,573.4 1134.4,548.4 1134.6,540.0 1134.7,516.8 1134.8,568.9 1134.9,571.6 1135.0,626.2 1135.2,551.8 1135.3,572.6 1135.4,538.0 1135.5,538.2 1135.7,541.7 1135.8,577.4 1135.9,565.1 1136.0,563.9 1136.1,544.1 1136.3,562.7 1136.4,562.5 1136.5,551.4 1136.6,562.0 1136.7,566.8 1136.9,533.3 1137.0,569.2 1137.1,562.7 1137.2,563.8 1137.4,521.9 1137.5,595.7 1137.6,552.2 1137.7,554.0 1137.8,570.5 1138.0,562.6 1138.1,564.2 1138.2,544.4 1138.3,590.2 1138.4,567.8 1138.6,609.9 1138.7,592.5 1138.8,540.0 1138.9,529.9 1139.1,586.4 1139.2,603.8 1139.3,589.0 1139.4,565.3 1139.5,520.3 1139.7,578.0 1139.8,564.5 1139.9,551.6 1140.0,554.0 1140.1,568.5 1140.3,562.1 1140.4,526.4 1140.5,560.5 1140.6,561.5 1140.7,573.7 1140.9,565.6 1141.0,574.1 1141.1,562.6 1141.2,553.8 1141.4,533.4 1141.5,574.9 1141.6,531.1 1141.7,547.7 1141.8,582.0 1142.0,568.9 1142.1,603.9 1142.2,521.9 1142.3,599.3 1142.4,563.7 1142.6,548.6 1142.7,544.3 1142.8,547.6 1142.9,556.4 1143.1,600.3 1143.2,555.5 1143.3,537.7 1143.4,545.1 1143.5,542.3 1143.7,586.2 1143.8,610.1 1143.9,593.2 1144.0,594.4 1144.1,604.4 1144.3,575.2 1144.4,556.3 1144.5,553.2 1144.6,555.7 1144.8,536.0 1144.9,608.4 1145.0,544.8 1145.1,545.9 1145.2,607.2 1145.4,555.9 1145.5,567.6 1145.6,595.8 1145.7,550.7 1145.8,560.4 1146.0,543.8 1146.1,579.6 1146.2,549.1 1146.3,615.5 1146.4,543.7 1146.6,582.9 1146.7,530.4 1146.8,551.3 1146.9,592.9 1147.1,545.2 1147.2,574.2 1147.3,596.6 1147.4,590.6 1147.5,568.1 1147.7,605.6 1147.8,599.7 1147.9,591.1 1148.0,589.4 1148.1,578.0 1148.3,585.0 1148.4,543.3 1148.5,575.1 1148.6,606.6 1148.8,580.7 1148.9,541.8 1149.0,554.8 1149.1,579.6 1149.2,573.7 1149.4,618.5 1149.5,592.0 1149.6,601.1 1149.7,596.0 1149.8,552.5 1150.0,556.9 1150.1,604.3 1150.2,592.4 1150.3,574.3 1150.5,578.7 1150.6,598.9 1150.7,560.5 1150.8,560.2 1150.9,578.9 1151.1,601.0 1151.2,583.3 1151.3,571.7 1151.4,619.4 1151.5,566.2 1151.7,570.2 1151.8,590.3 1151.9,553.7 1152.0,595.7 1152.2,592.4 1152.3,591.8 1152.4,596.6 1152.5,558.0 1152.6,557.0 1152.8,538.6 1152.9,551.8 1153.0,588.0 1153.1,555.4 1153.2,544.4 1153.4,588.4 1153.5,585.4 1153.6,594.1 1153.7,571.9 1153.8,555.5 1154.0,552.6 1154.1,592.6 1154.2,570.9 1154.3,579.7 1154.5,598.0 1154.6,610.0 1154.7,580.3 1154.8,616.1 1154.9,605.2 1155.1,573.8 1155.2,567.2 1155.3,583.4 1155.4,566.2 1155.5,580.8 1155.7,564.6 1155.8,597.1 1155.9,621.4 1156.0,541.1 1156.2,565.3 1156.3,528.5 1156.4,578.8 1156.5,565.2 1156.6,579.6 1156.8,573.8 1156.9,618.0 1157.0,580.3 1157.1,551.7 1157.2,604.2 1157.4,570.9 1157.5,608.7 1157.6,574.3 1157.7,597.4 1157.9,621.3 1158.0,555.5 1158.1,605.9 1158.2,591.5 1158.3,612.3 1158.5,546.8 1158.6,585.6 1158.7,591.3 1158.8,590.8 1158.9,582.5 1159.1,575.3 1159.2,592.6 1159.3,589.8 1159.4,631.6 1159.6,580.1 1159.7,615.8 1159.8,607.2 1159.9,607.3 1160.0,585.9 1160.2,586.1 1160.3,629.4 1160.4,549.7 1160.5,623.9 1160.6,593.1 1160.8,598.0 1160.9,635.3 1161.0,573.7 1161.1,599.3 1161.2,618.1 1161.4,589.1 1161.5,662.8 1161.6,603.6 1161.7,594.6 1161.9,592.3 1162.0,575.8 1162.1,584.5 1162.2,635.1 1162.3,590.0 1162.5,614.6 1162.6,611.9 1162.7,576.0 1162.8,576.5 1162.9,563.5 1163.1,591.7 1163.2,561.3 1163.3,604.3 1163.4,588.3 1163.6,593.7 1163.7,602.9 1163.8,629.7 1163.9,617.9 1164.0,571.1 1164.2,595.1 1164.3,572.3 1164.4,613.0 1164.5,608.6 1164.6,599.1 1164.8,596.2 1164.9,597.7 1165.0,580.5 1165.1,624.3 1165.3,577.7 1165.4,601.6 1165.5,589.6 1165.6,622.4 1165.7,596.9 1165.9,585.9 1166.0,621.3 1166.1,568.5 1166.2,613.9 1166.3,593.0 1166.5,612.2 1166.6,591.4 1166.7,575.6 1166.8,635.4 1167.0,618.4 1167.1,587.6 1167.2,604.4 1167.3,602.9 1167.4,585.1 1167.6,581.9 1167.7,594.4 1167.8,613.7 1167.9,579.9 1168.0,561.1 1168.2,608.8 1168.3,606.5 1168.4,581.1 1168.5,611.9 1168.6,610.5 1168.8,624.9 1168.9,614.8 1169.0,593.7 1169.1,597.9 1169.3,604.4 1169.4,597.0 1169.5,601.8 1169.6,614.9 1169.7,584.0 1169.9,614.4 1170.0,594.0 1170.1,625.9 1170.2,619.3 1170.3,611.4 1170.5,612.9 1170.6,577.5 1170.7,572.8 1170.8,634.0 1171.0,600.0 1171.1,574.0 1171.2,621.6 1171.3,620.3 1171.4,634.0 1171.6,559.7 1171.7,612.2 1171.8,605.8 1171.9,627.3 1172.0,614.1 1172.2,624.4 1172.3,611.0 1172.4,629.7 1172.5,620.8 1172.7,605.6 1172.8,609.6 1172.9,615.6 1173.0,597.1 1173.1,626.7 1173.3,611.2 1173.4,584.0 1173.5,618.5 1173.6,600.9 1173.7,596.7 1173.9,606.2 1174.0,600.2 1174.1,611.4 1174.2,623.8 1174.3,612.4 1174.5,614.0 1174.6,551.3 1174.7,603.8 1174.8,637.5 1175.0,637.4 1175.1,639.3 1175.2,643.7 1175.3,619.1 1175.4,610.0 1175.6,634.4 1175.7,640.8 1175.8,616.3 1175.9,565.7 1176.0,616.2 1176.2,564.0 1176.3,612.1 1176.4,610.8 1176.5,617.9 1176.7,625.5 1176.8,606.9 1176.9,635.6 1177.0,643.6 1177.1,608.1 1177.3,651.1 1177.4,650.2 1177.5,577.3 1177.6,630.4 1177.7,663.0 1177.9,619.0 1178.0,644.7 1178.1,619.3 1178.2,619.8 1178.4,643.1 1178.5,648.1 1178.6,598.1 1178.7,578.4 1178.8,626.0 1179.0,648.6 1179.1,651.2 1179.2,593.3 1179.3,613.6 1179.4,597.7 1179.6,579.0 1179.7,608.5 1179.8,606.6 1179.9,619.7 1180.1,614.0 1180.2,625.9 1180.3,605.4 1180.4,583.6 1180.5,515.3 1180.7,599.8 1180.8,627.5 1180.9,639.2 1181.0,612.8 1181.1,637.4 1181.3,620.1 1181.4,602.0 1181.5,632.7 1181.6,605.8 1181.7,653.0 1181.9,598.8 1182.0,630.3 1182.1,567.5 1182.2,594.9 1182.4,629.7 1182.5,606.6 1182.6,613.8 1182.7,629.6 1182.8,592.1 1183.0,622.7 1183.1,635.6 1183.2,628.7 1183.3,590.9 1183.4,655.1 1183.6,650.4 1183.7,614.6 1183.8,622.6 1183.9,609.0 1184.1,647.0 1184.2,610.5 1184.3,630.2 1184.4,642.3 1184.5,607.4 1184.7,647.0 1184.8,605.4 1184.9,631.1 1185.0,615.8 1185.1,660.8 1185.3,611.9 1185.4,627.1 1185.5,645.0 1185.6,606.2 1185.8,658.5 1185.9,657.9 1186.0,635.1 1186.1,637.5 1186.2,647.6 1186.4,621.5 1186.5,612.7 1186.6,639.4 1186.7,678.0 1186.8,604.3 1187.0,628.2 1187.1,645.3 1187.2,617.2 1187.3,662.6 1187.5,625.4 1187.6,608.9 1187.7,632.6 1187.8,616.6 1187.9,652.2 1188.1,631.8 1188.2,608.5 1188.3,629.7 1188.4,637.7 1188.5,626.0 1188.7,614.8 1188.8,575.9 1188.9,618.0 1189.0,662.7 1189.1,608.4 1189.3,652.2 1189.4,685.3 1189.5,608.8 1189.6,582.4 1189.8,645.5 1189.9,628.3 1190.0,641.1 1190.1,598.7 1190.2,636.2 1190.4,656.9 1190.5,633.3 1190.6,608.2 1190.7,636.5 1190.8,646.9 1191.0,643.4 1191.1,600.9 1191.2,638.3 1191.3,611.3 1191.5,622.2 1191.6,608.6 1191.7,614.3 1191.8,643.4 1191.9,614.6 1192.1,655.5 1192.2,622.7 1192.3,604.1 1192.4,615.7 1192.5,669.7 1192.7,632.0 1192.8,630.1 1192.9,603.9 1193.0,638.0 1193.2,600.8 1193.3,631.8 1193.4,599.8 1193.5,650.9 1193.6,608.1 1193.8,689.2 1193.9,577.0 1194.0,664.0 1194.1,633.4 1194.2,618.6 1194.4,644.5 1194.5,665.0 1194.6,577.6 1194.7,617.6 1194.9,634.6 1195.0,618.7 1195.1,626.6 1195.2,640.5 1195.3,636.0 1195.5,627.1 1195.6,623.9 1195.7,637.5 1195.8,610.6 1195.9,608.1 1196.1,622.3 1196.2,626.8 1196.3,610.7 1196.4,673.9 1196.5,642.7 1196.7,657.7 1196.8,649.8 1196.9,679.9 1197.0,637.8 1197.2,645.6 1197.3,633.7 1197.4,555.0 1197.5,626.8 1197.6,632.2 1197.8,631.0 1197.9,635.4 1198.0,612.4 1198.1,624.5 1198.2,628.3 1198.4,639.0 1198.5,601.9 1198.6,665.0 1198.7,623.4 1198.9,584.7 1199.0,620.0 1199.1,676.6 1199.2,620.6 1199.3,585.3 1199.5,617.4 1199.6,650.9 1199.7,599.0 1199.8,678.4 1199.9,635.5 1200.1,648.5 1200.2,603.1 1200.3,628.8 1200.4,692.8 1200.6,616.6 1200.7,615.1 1200.8,613.6 1200.9,678.2 1201.0,606.6 1201.2,631.3 1201.3,673.7 1201.4,633.7 1201.5,627.5 1201.6,622.1 1201.8,643.5 1201.9,620.9 1202.0,642.5 1202.1,630.0 1202.2,598.1 1202.4,599.2 1202.5,664.6 1202.6,670.9 1202.7,620.8 1202.9,642.4 1203.0,644.0 1203.1,635.4 1203.2,640.4 1203.3,606.4 1203.5,662.9 1203.6,604.7 1203.7,640.7 1203.8,651.3 1203.9,642.0 1204.1,633.6 1204.2,696.4 1204.3,651.7 1204.4,609.2 1204.6,606.5 1204.7,628.3 1204.8,635.5 1204.9,673.2 1205.0,664.7 1205.2,623.6 1205.3,620.7 1205.4,635.1 1205.5,645.7 1205.6,680.5 1205.8,665.3 1205.9,617.4 1206.0,650.6 1206.1,613.2 1206.3,653.2 1206.4,616.9 1206.5,642.4 1206.6,646.4 1206.7,651.0 1206.9,611.8 1207.0,691.4 1207.1,658.1 1207.2,647.1 1207.3,666.4 1207.5,707.5 1207.6,625.7 1207.7,674.5 1207.8,664.5 1208.0,677.6 1208.1,639.6 1208.2,669.0 1208.3,661.2 1208.4,672.4 1208.6,611.8 1208.7,645.4 1208.8,604.1 1208.9,616.3 1209.0,620.9 1209.2,648.5 1209.3,595.5 1209.4,637.0 1209.5,618.9 1209.6,660.1 1209.8,657.9 1209.9,641.6 1210.0,657.3 1210.1,617.9 1210.3,615.6 1210.4,625.4 1210.5,642.0 1210.6,641.7 1210.7,635.5 1210.9,681.2 1211.0,593.1 1211.1,617.1 1211.2,645.3 1211.3,623.7 1211.5,625.6 1211.6,658.1 1211.7,653.2 1211.8,592.2 1212.0,627.5 1212.1,634.6 1212.2,645.3 1212.3,688.5 1212.4,609.5 1212.6,641.3 1212.7,647.2 1212.8,623.4 1212.9,595.4 1213.0,600.1 1213.2,637.7 1213.3,679.4 1213.4,680.2 1213.5,656.9 1213.7,711.9 1213.8,655.3 1213.9,635.2 1214.0,610.6 1214.1,640.6 1214.3,679.2 1214.4,619.7 1214.5,688.6 1214.6,643.0 1214.7,639.2 1214.9,670.8 1215.0,686.8 1215.1,613.6 1215.2,641.4 1215.4,636.4 1215.5,653.2 1215.6,622.7 1215.7,621.9 1215.8,631.8 1216.0,665.5 1216.1,686.8 1216.2,654.1 1216.3,620.1 1216.4,644.2 1216.6,636.8 1216.7,677.1 1216.8,621.3 1216.9,626.3 1217.0,611.3 1217.2,612.2 1217.3,644.1 1217.4,646.3 1217.5,673.2 1217.7,595.8 1217.8,635.5 1217.9,617.7 1218.0,622.8 1218.1,618.4 1218.3,654.4 1218.4,674.3 1218.5,642.0 1218.6,669.8 1218.7,641.2 1218.9,650.3 1219.0,664.4 1219.1,666.1 1219.2,706.5 1219.4,636.5 1219.5,645.2 1219.6,640.8 1219.7,671.1 1219.8,635.0 1220.0,666.5 1220.1,636.4 1220.2,637.5 1220.3,647.4 1220.4,674.5 1220.6,674.9 1220.7,640.2 1220.8,639.3 1220.9,650.4 1221.1,686.1 1221.2,660.1 1221.3,660.6 1221.4,653.7 1221.5,640.6 1221.7,622.6 1221.8,638.9 1221.9,641.0 1222.0,676.9 1222.1,657.3 1222.3,666.9 1222.4,638.3 1222.5,665.2 1222.6,625.8 1222.8,649.6 1222.9,660.5 1223.0,643.0 1223.1,648.9 1223.2,627.5 1223.4,674.3 1223.5,689.4 1223.6,680.0 1223.7,628.6 1223.8,642.5 1224.0,670.1 1224.1,635.6 1224.2,654.9 1224.3,625.6 1224.4,691.3 1224.6,645.4 1224.7,697.6 1224.8,611.8 1224.9,692.3 1225.1,649.0 1225.2,726.4 1225.3,665.5 1225.4,659.5 1225.5,649.2 1225.7,622.1 1225.8,656.1 1225.9,610.4 1226.0,645.0 1226.1,677.0 1226.3,666.9 1226.4,660.8 1226.5,651.7 1226.6,684.4 1226.8,676.2 1226.9,669.0 1227.0,636.4 1227.1,620.5 1227.2,676.3 1227.4,641.4 1227.5,670.0 1227.6,645.3 1227.7,679.1 1227.8,642.0 1228.0,694.0 1228.1,660.5 1228.2,649.9 1228.3,654.1 1228.5,630.1 1228.6,691.1 1228.7,631.8 1228.8,695.4 1228.9,640.1 1229.1,673.8 1229.2,665.8 1229.3,619.2 1229.4,637.3 1229.5,644.0 1229.7,641.3 1229.8,679.3 1229.9,649.4 1230.0,657.3 1230.1,620.2 1230.3,643.3 1230.4,665.2 1230.5,662.5 1230.6,653.2 1230.8,685.1 1230.9,669.2 1231.0,662.3 1231.1,676.6 1231.2,660.1 1231.4,628.7 1231.5,656.5 1231.6,660.9 1231.7,678.2 1231.8,652.1 1232.0,650.0 1232.1,654.8 1232.2,617.6 1232.3,634.3 1232.5,616.7 1232.6,631.4 1232.7,681.4 1232.8,622.0 1232.9,703.7 1233.1,640.1 1233.2,667.2 1233.3,685.8 1233.4,676.0 1233.5,671.0 1233.7,572.0 1233.8,648.0 1233.9,660.1 1234.0,651.0 1234.2,654.5 1234.3,626.4 1234.4,659.6 1234.5,627.6 1234.6,674.1 1234.8,647.6 1234.9,645.3 1235.0,658.7 1235.1,667.8 1235.2,647.4 1235.4,637.0 1235.5,611.9 1235.6,658.3 1235.7,604.9 1235.9,604.5 1236.0,632.6 1236.1,644.4 1236.2,751.4 1236.3,664.1 1236.5,667.6 1236.6,664.7 1236.7,641.7 1236.8,658.2 1236.9,652.3 1237.1,661.5 1237.2,617.3 1237.3,594.0 1237.4,628.3 1237.5,656.2 1237.7,636.2 1237.8,676.2 1237.9,656.6 1238.0,638.5 1238.2,700.6 1238.3,668.3 1238.4,690.5 1238.5,622.1 1238.6,625.7 1238.8,683.9 1238.9,681.0 1239.0,659.9 1239.1,618.3 1239.2,608.0 1239.4,676.2 1239.5,651.8 1239.6,668.6 1239.7,654.2 1239.9,667.7 1240.0,631.3 1240.1,667.2 1240.2,667.4 1240.3,650.5 1240.5,634.0 1240.6,697.2 1240.7,667.7 1240.8,666.4 1240.9,672.9 1241.1,648.1 1241.2,647.5 1241.3,641.0 1241.4,649.4 1241.6,654.8 1241.7,645.2 1241.8,631.6 1241.9,689.4 1242.0,624.5 1242.2,646.4 1242.3,681.8 1242.4,678.6 1242.5,689.8 1242.6,647.4 1242.8,612.9 1242.9,679.8 1243.0,712.3 1243.1,656.9 1243.3,572.2 1243.4,704.3 1243.5,645.1 1243.6,700.2 1243.7,655.8 1243.9,671.5 1244.0,624.3 1244.1,681.6 1244.2,674.6 1244.3,648.9 1244.5,658.1 1244.6,666.9 1244.7,645.5 1244.8,674.9 1244.9,644.9 1245.1,660.1 1245.2,629.6 1245.3,684.7 1245.4,665.3 1245.6,622.7 1245.7,650.4 1245.8,680.7 1245.9,674.4 1246.0,677.6 1246.2,595.7 1246.3,680.9 1246.4,682.4 1246.5,703.0 1246.6,659.6 1246.8,637.4 1246.9,658.7 1247.0,703.6 1247.1,650.5 1247.3,704.2 1247.4,642.1 1247.5,693.3 1247.6,692.3 1247.7,653.3 1247.9,661.6 1248.0,639.3 1248.1,654.6 1248.2,625.1 1248.3,644.6 1248.5,621.2 1248.6,618.3 1248.7,718.0 1248.8,707.8 1249.0,677.2 1249.1,656.5 1249.2,663.0 1249.3,673.3 1249.4,651.1 1249.6,681.3 1249.7,674.4 1249.8,649.5 1249.9,641.6 1250.0,646.6 1250.2,650.4 1250.3,690.0 1250.4,686.5 1250.5,651.1 1250.7,670.8 1250.8,726.2 1250.9,648.8 1251.0,625.7 1251.1,642.0 1251.3,680.5 1251.4,628.4 1251.5,695.3 1251.6,637.5 1251.7,671.1 1251.9,687.8 1252.0,699.8 1252.1,632.2 1252.2,685.6 1252.3,646.0 1252.5,675.5 1252.6,688.1 1252.7,650.4 1252.8,689.5 1253.0,654.0 1253.1,646.0 1253.2,661.9 1253.3,691.7 1253.4,697.5 1253.6,623.7 1253.7,652.1 1253.8,654.5 1253.9,665.3 1254.0,657.2 1254.2,682.6 1254.3,666.7 1254.4,670.5 1254.5,680.3 1254.7,671.8 1254.8,696.5 1254.9,677.2 1255.0,666.6 1255.1,609.2 1255.3,686.1 1255.4,620.5 1255.5,656.6 1255.6,628.2 1255.7,677.1 1255.9,667.6 1256.0,642.5 1256.1,693.8 1256.2,638.6 1256.4,650.8 1256.5,652.7 1256.6,691.4 1256.7,627.5 1256.8,646.6 1257.0,694.5 1257.1,644.2 1257.2,642.2 1257.3,684.6 1257.4,643.3 1257.6,691.5 1257.7,643.4 1257.8,639.0 1257.9,650.2 1258.0,639.8 1258.2,714.4 1258.3,680.0 1258.4,707.7 1258.5,679.5 1258.7,685.1 1258.8,694.4 1258.9,655.4 1259.0,645.5 1259.1,649.7 1259.3,681.7 1259.4,618.3 1259.5,616.7 1259.6,631.7 1259.7,709.8 1259.9,644.4 1260.0,656.0 1260.1,660.4 1260.2,651.7 1260.4,722.0 1260.5,699.4 1260.6,616.1 1260.7,695.8 1260.8,639.6 1261.0,678.3 1261.1,703.2 1261.2,630.9 1261.3,681.0 1261.4,695.6 1261.6,678.8 1261.7,707.0 1261.8,642.8 1261.9,680.9 1262.1,654.3 1262.2,665.9 1262.3,645.5 1262.4,672.5 1262.5,649.2 1262.7,635.1 1262.8,687.7 1262.9,625.6 1263.0,723.8 1263.1,594.7 1263.3,650.9 1263.4,734.9 1263.5,631.7 1263.6,593.3 1263.8,681.9 1263.9,603.9 1264.0,685.1 1264.1,615.0 1264.2,624.6 1264.4,653.0 1264.5,691.4 1264.6,708.4 1264.7,638.5 1264.8,643.0 1265.0,674.0 1265.1,607.1 1265.2,653.4 1265.3,703.0 1265.4,666.5 1265.6,663.0 1265.7,695.7 1265.8,611.0 1265.9,610.8 1266.1,666.0 1266.2,737.1 1266.3,676.0 1266.4,659.6 1266.5,662.7 1266.7,702.0 1266.8,685.4 1266.9,652.5 1267.0,671.0 1267.1,748.5 1267.3,683.1 1267.4,710.2 1267.5,624.9 1267.6,681.5 1267.8,617.3 1267.9,653.4 1268.0,646.6 1268.1,670.1 1268.2,659.5 1268.4,610.4 1268.5,692.2 1268.6,644.1 1268.7,663.1 1268.8,642.9 1269.0,698.8 1269.1,667.6 1269.2,649.1 1269.3,610.2 1269.5,719.4 1269.6,641.1 1269.7,674.4 1269.8,677.1 1269.9,655.1 1270.1,683.6 1270.2,642.9 1270.3,660.2 1270.4,589.0 1270.5,688.8 1270.7,612.5 1270.8,640.3 1270.9,749.7 1271.0,646.8 1271.2,715.1 1271.3,667.3 1271.4,737.7 1271.5,657.7 1271.6,665.6 1271.8,687.9 1271.9,628.1 1272.0,734.2 1272.1,660.6 1272.2,615.7 1272.4,646.0 1272.5,676.1 1272.6,679.0 1272.7,635.2 1272.8,624.4 1273.0,668.7 1273.1,614.2 1273.2,683.5 1273.3,664.7 1273.5,667.9 1273.6,604.5 1273.7,622.9 1273.8,652.3 1273.9,648.6 1274.1,686.6 1274.2,717.3 1274.3,638.2 1274.4,589.9 1274.5,670.6 1274.7,689.1 1274.8,611.4 1274.9,623.2 1275.0,631.6 1275.2,683.1 1275.3,617.1 1275.4,624.9 1275.5,622.0 1275.6,643.0 1275.8,676.7 1275.9,623.2 1276.0,675.3 1276.1,655.3 1276.2,663.6 1276.4,669.4 1276.5,667.9 1276.6,593.1 1276.7,663.2 1276.9,642.6 1277.0,665.6 1277.1,643.4 1277.2,608.9 1277.3,629.0 1277.5,648.7 1277.6,662.7 1277.7,662.7 1277.8,672.1 1277.9,663.7 1278.1,730.2 1278.2,702.4 1278.3,633.7 1278.4,683.8 1278.6,684.7 1278.7,664.3 1278.8,659.5 1278.9,733.9 1279.0,688.7 1279.2,672.3 1279.3,692.4 1279.4,661.5 1279.5,665.1 1279.6,697.4 1279.8,651.1 1279.9,652.2 1280.0,712.2 1280.1,668.7 1280.2,648.6 1280.4,590.5 1280.5,669.6 1280.6,702.5 1280.7,625.3 1280.9,664.0 1281.0,641.4 1281.1,670.4 1281.2,646.3 1281.3,638.6 1281.5,634.8 1281.6,701.4 1281.7,659.8 1281.8,622.6 1281.9,632.3 1282.1,624.1 1282.2,609.6 1282.3,609.1 1282.4,651.8 1282.6,679.5 1282.7,649.7 1282.8,699.1 1282.9,603.4 1283.0,706.6 1283.2,663.3 1283.3,664.4 1283.4,644.9 1283.5,693.8 1283.6,646.3 1283.8,732.6 1283.9,682.9 1284.0,629.9 1284.1,657.1 1284.3,707.8 1284.4,651.8 1284.5,704.1 1284.6,684.1 1284.7,654.7 1284.9,683.9 1285.0,690.9 1285.1,668.9 1285.2,675.6 1285.3,662.6 1285.5,658.0 1285.6,619.6 1285.7,691.4 1285.8,625.1 1285.9,686.2 1286.1,677.9 1286.2,636.9 1286.3,686.3 1286.4,639.3 1286.6,628.7 1286.7,685.8 1286.8,672.8 1286.9,670.9 1287.0,652.5 1287.2,694.4 1287.3,709.0 1287.4,637.4 1287.5,677.4 1287.6,637.4 1287.8,645.9 1287.9,650.5 1288.0,656.3 1288.1,670.8 1288.3,577.2 1288.4,648.8 1288.5,661.6 1288.6,627.6 1288.7,642.0 1288.9,623.9 1289.0,626.9 1289.1,552.8 1289.2,594.2 1289.3,665.0 1289.5,658.9 1289.6,701.0 1289.7,693.7 1289.8,614.9 1290.0,666.7 1290.1,605.4 1290.2,643.7 1290.3,711.4 1290.4,612.7 1290.6,675.0 1290.7,661.5 1290.8,706.0 1290.9,682.6 1291.0,697.8 1291.2,648.0 1291.3,630.7 1291.4,639.4 1291.5,623.5 1291.7,625.6 1291.8,610.1 1291.9,623.5 1292.0,622.5 1292.1,659.9 1292.3,652.0 1292.4,701.2 1292.5,666.9 1292.6,675.3 1292.7,615.8 1292.9,634.4 1293.0,644.8 1293.1,699.9 1293.2,602.8 1293.3,619.8 1293.5,644.8 1293.6,639.0 1293.7,601.3 1293.8,654.7 1294.0,659.1 1294.1,646.7 1294.2,642.8 1294.3,667.0 1294.4,635.3 1294.6,556.3 1294.7,698.2 1294.8,660.3 1294.9,648.9 1295.0,648.6 1295.2,645.7 1295.3,635.6 1295.4,683.2 1295.5,658.3 1295.7,651.5 1295.8,685.3 1295.9,640.4 1296.0,653.2 1296.1,613.6 1296.3,679.7 1296.4,677.4 1296.5,690.4 1296.6,606.6 1296.7,679.7 1296.9,669.7 1297.0,652.0 1297.1,613.8 1297.2,656.6 1297.4,700.3 1297.5,700.7 1297.6,627.1 1297.7,626.7 1297.8,661.9 1298.0,675.4 1298.1,614.5 1298.2,638.0 1298.3,640.8 1298.4,662.5 1298.6,692.2 1298.7,619.2 1298.8,618.8 1298.9,706.7 1299.1,637.3 1299.2,658.9 1299.3,675.5 1299.4,642.4 1299.5,644.0 1299.7,669.7 1299.8,682.4 1299.9,656.4 1300.0,689.2 1300.1,624.4 1300.3,642.1 1300.4,644.8 1300.5,630.5 1300.6,611.4 1300.7,614.0 1300.9,620.2 1301.0,633.8 1301.1,700.3 1301.2,655.3 1301.4,642.5 1301.5,600.5 1301.6,640.0 1301.7,628.7 1301.8,623.5 1302.0,681.4 1302.1,676.6 1302.2,611.9 1302.3,652.2 1302.4,653.4 1302.6,671.5 1302.7,634.3 1302.8,691.8 1302.9,660.3 1303.1,657.3 1303.2,609.3 1303.3,668.1 1303.4,712.9 1303.5,643.1 1303.7,675.6 1303.8,656.7 1303.9,620.3 1304.0,684.5 1304.1,629.4 1304.3,607.5 1304.4,639.4 1304.5,652.0 1304.6,620.0 1304.8,656.5 1304.9,664.9 1305.0,644.1 1305.1,629.4 1305.2,622.4 1305.4,631.6 1305.5,666.1 1305.6,688.8 1305.7,633.9 1305.8,647.9 1306.0,655.5 1306.1,658.9 1306.2,675.1 1306.3,602.1 1306.5,701.4 1306.6,582.1 1306.7,675.5 1306.8,659.6 1306.9,660.6 1307.1,681.0 1307.2,682.2 1307.3,679.7 1307.4,624.0 1307.5,630.2 1307.7,653.7 1307.8,624.1 1307.9,662.5 1308.0,619.2 1308.1,668.0 1308.3,670.0 1308.4,622.1 1308.5,678.8 1308.6,675.2 1308.8,680.5 1308.9,694.0 1309.0,654.4 1309.1,679.3 1309.2,632.9 1309.4,654.2 1309.5,601.5 1309.6,626.6 1309.7,643.5 1309.8,638.2 1310.0,685.6 1310.1,630.0 1310.2,669.6 1310.3,668.3 1310.5,651.9 1310.6,677.9 1310.7,622.8 1310.8,608.8 1310.9,684.3 1311.1,632.9 1311.2,657.8 1311.3,634.3 1311.4,633.8 1311.5,611.7 1311.7,633.6 1311.8,662.1 1311.9,658.6 1312.0,645.7 1312.2,618.7 1312.3,623.8 1312.4,649.1 1312.5,638.5 1312.6,643.4 1312.8,665.5 1312.9,669.5 1313.0,619.0 1313.1,692.6 1313.2,646.7 1313.4,614.4 1313.5,687.3 1313.6,648.9 1313.7,593.3 1313.8,620.9 1314.0,640.1 1314.1,649.6 1314.2,660.7 1314.3,636.3 1314.5,637.7 1314.6,664.9 1314.7,646.5 1314.8,681.1 1314.9,675.6 1315.1,636.5 1315.2,662.5 1315.3,634.5 1315.4,649.1 1315.5,637.6 1315.7,614.6 1315.8,646.1 1315.9,664.9 1316.0,655.9 1316.2,671.8 1316.3,618.6 1316.4,615.9 1316.5,641.9 1316.6,646.0 1316.8,616.2 1316.9,653.8 1317.0,667.7 1317.1,640.0 1317.2,630.9 1317.4,636.5 1317.5,610.3 1317.6,628.4 1317.7,653.7 1317.9,635.9 1318.0,662.1 1318.1,639.4 1318.2,659.3 1318.3,623.1 1318.5,624.1 1318.6,643.8 1318.7,610.6 1318.8,629.4 1318.9,654.0 1319.1,616.4 1319.2,633.3 1319.3,617.2 1319.4,618.8 1319.6,586.7 1319.7,640.6 1319.8,611.3 1319.9,664.5 1320.0,657.9 1320.2,631.2 1320.3,660.7 1320.4,626.7 1320.5,669.5 1320.6,681.0 1320.8,635.4 1320.9,630.5 1321.0,588.9 1321.1,644.4 1321.2,650.2 1321.4,631.7 1321.5,629.3 1321.6,624.0 1321.7,674.3 1321.9,658.7 1322.0,658.8 1322.1,651.5 1322.2,621.5 1322.3,595.9 1322.5,619.0 1322.6,630.4 1322.7,630.5 1322.8,661.2 1322.9,662.1 1323.1,633.9 1323.2,646.0 1323.3,651.3 1323.4,669.2 1323.6,618.0 1323.7,658.4 1323.8,622.2 1323.9,604.8 1324.0,589.5 1324.2,672.9 1324.3,649.0 1324.4,609.1 1324.5,650.1 1324.6,665.4 1324.8,620.5 1324.9,631.8 1325.0,644.6 1325.1,672.0 1325.3,692.0 1325.4,626.1 1325.5,663.9 1325.6,622.9 1325.7,639.9 1325.9,628.7 1326.0,627.6 1326.1,650.7 1326.2,665.9 1326.3,611.8 1326.5,637.2 1326.6,703.1 1326.7,601.2 1326.8,628.5 1327.0,605.1 1327.1,631.1 1327.2,577.2 1327.3,602.6 1327.4,648.3 1327.6,623.8 1327.7,660.9 1327.8,626.4 1327.9,626.4 1328.0,656.4 1328.2,642.5 1328.3,632.1 1328.4,601.1 1328.5,647.9 1328.6,609.7 1328.8,659.2 1328.9,637.0 1329.0,614.0 1329.1,663.5 1329.3,624.8 1329.4,670.5 1329.5,653.8 1329.6,649.9 1329.7,636.4 1329.9,627.2 1330.0,635.2 1330.1,637.7 1330.2,670.2 1330.3,622.0 1330.5,648.3 1330.6,598.8 1330.7,614.0 1330.8,635.0 1331.0,574.5 1331.1,624.2 1331.2,626.8 1331.3,625.2 1331.4,636.0 1331.6,647.4 1331.7,674.4 1331.8,592.3 1331.9,669.1 1332.0,621.1 1332.2,585.9 1332.3,661.5 1332.4,662.0 1332.5,653.7 1332.7,622.0 1332.8,605.2 1332.9,640.4 1333.0,624.1 1333.1,550.1 1333.3,619.2 1333.4,629.9 1333.5,617.3 1333.6,654.2 1333.7,602.1 1333.9,633.7 1334.0,617.5 1334.1,621.8 1334.2,630.5 1334.4,651.2 1334.5,609.5 1334.6,601.9 1334.7,680.4 1334.8,640.2 1335.0,637.4 1335.1,636.5 1335.2,625.6 1335.3,622.4 1335.4,611.1 1335.6,616.6 1335.7,649.0 1335.8,665.5 1335.9,669.3 1336.0,610.3 1336.2,642.2 1336.3,615.4 1336.4,650.4 1336.5,625.6 1336.7,633.9 1336.8,612.1 1336.9,648.8 1337.0,630.1 1337.1,634.7 1337.3,631.7 1337.4,609.9 1337.5,652.6 1337.6,617.4 1337.7,612.2 1337.9,637.1 1338.0,608.9 1338.1,672.4 1338.2,630.3 1338.4,625.1 1338.5,575.6 1338.6,611.5 1338.7,614.7 1338.8,656.0 1339.0,628.2 1339.1,613.1 1339.2,620.9 1339.3,596.4 1339.4,623.3 1339.6,613.1 1339.7,639.2 1339.8,595.0 1339.9,625.1 1340.1,590.5 1340.2,624.9 1340.3,624.5 1340.4,611.2 1340.5,616.6 1340.7,641.7 1340.8,644.0 1340.9,610.2 1341.0,650.8 1341.1,618.2 1341.3,632.8 1341.4,629.1 1341.5,612.5 1341.6,587.1 1341.8,640.0 1341.9,695.4 1342.0,597.6 1342.1,675.4 1342.2,637.2 1342.4,627.4 1342.5,611.8 1342.6,643.5 1342.7,647.0 1342.8,700.9 1343.0,610.7 1343.1,620.4 1343.2,670.5 1343.3,639.3 1343.4,634.4 1343.6,653.7 1343.7,612.0 1343.8,640.8 1343.9,671.8 1344.1,585.5 1344.2,604.1 1344.3,717.6 1344.4,667.5 1344.5,614.1 1344.7,566.7 1344.8,646.4 1344.9,663.3 1345.0,657.9 1345.1,588.0 1345.3,588.3 1345.4,610.8 1345.5,632.4 1345.6,634.2 1345.8,696.9 1345.9,583.4 1346.0,648.5 1346.1,633.8 1346.2,648.3 1346.4,667.0 1346.5,634.6 1346.6,639.1 1346.7,674.8 1346.8,615.5 1347.0,638.7 1347.1,668.1 1347.2,604.8 1347.3,652.6 1347.5,564.0 1347.6,600.5 1347.7,685.5 1347.8,568.4 1347.9,599.3 1348.1,564.0 1348.2,617.1 1348.3,655.5 1348.4,603.5 1348.5,594.0 1348.7,666.5 1348.8,589.9 1348.9,669.8 1349.0,560.2 1349.1,603.6 1349.3,628.6 1349.4,586.0 1349.5,630.9 1349.6,614.8 1349.8,590.2 1349.9,664.7 1350.0,650.6 1350.1,645.4 1350.2,629.1 1350.4,630.8 1350.5,643.7 1350.6,660.8 1350.7,585.9 1350.8,657.1 1351.0,629.6 1351.1,662.8 1351.2,620.0 1351.3,592.0 1351.5,587.6 1351.6,664.8 1351.7,627.0 1351.8,656.4 1351.9,601.6 1352.1,624.2 1352.2,631.3 1352.3,663.0 1352.4,549.0 1352.5,564.7 1352.7,666.6 1352.8,596.9 1352.9,636.1 1353.0,606.3 1353.2,674.2 1353.3,640.3 1353.4,623.5 1353.5,631.7 1353.6,605.4 1353.8,594.1 1353.9,599.3 1354.0,578.9 1354.1,574.1 1354.2,592.4 1354.4,650.3 1354.5,664.0 1354.6,577.9 1354.7,660.5 1354.9,632.6 1355.0,580.8 1355.1,600.4 1355.2,555.3 1355.3,656.9 1355.5,616.2 1355.6,618.2 1355.7,626.8 1355.8,630.2 1355.9,668.6 1356.1,598.7 1356.2,638.7 1356.3,607.6 1356.4,614.0 1356.5,601.1 1356.7,651.6 1356.8,623.8 1356.9,604.4 1357.0,630.5 1357.2,662.2 1357.3,550.0 1357.4,584.4 1357.5,647.0 1357.6,614.3 1357.8,625.2 1357.9,612.5 1358.0,543.8 1358.1,575.9 1358.2,616.5 1358.4,593.1 1358.5,646.9 1358.6,590.9 1358.7,629.5 1358.9,653.9 1359.0,600.4 1359.1,599.0 1359.2,608.6 1359.3,673.0 1359.5,623.6 1359.6,652.7 1359.7,597.4 1359.8,638.6 1359.9,623.9 1360.1,611.7 1360.2,624.3 1360.3,615.5 1360.4,623.0 1360.6,616.1 1360.7,631.9 1360.8,610.4 1360.9,560.4 1361.0,632.8 1361.2,644.4 1361.3,638.2 1361.4,700.0 1361.5,587.9 1361.6,614.4 1361.8,625.7 1361.9,579.7 1362.0,577.2 1362.1,593.9 1362.3,600.6 1362.4,645.1 1362.5,608.4 1362.6,632.5 1362.7,632.9 1362.9,604.1 1363.0,626.1 1363.1,600.4 1363.2,596.1 1363.3,637.7 1363.5,622.9 1363.6,602.8 1363.7,653.3 1363.8,629.4 1363.9,615.2 1364.1,545.8 1364.2,569.0 1364.3,655.0 1364.4,575.8 1364.6,651.4 1364.7,638.0 1364.8,558.0 1364.9,615.9 1365.0,612.9 1365.2,597.6 1365.3,629.9 1365.4,658.2 1365.5,660.3 1365.6,620.8 1365.8,665.9 1365.9,660.7 1366.0,576.4 1366.1,612.1 1366.3,572.5 1366.4,615.1 1366.5,604.6 1366.6,639.3 1366.7,630.0 1366.9,592.8 1367.0,686.8 1367.1,596.1 1367.2,626.9 1367.3,615.0 1367.5,550.0 1367.6,607.0 1367.7,631.8 1367.8,603.4 1368.0,588.2 1368.1,697.4 1368.2,576.2 1368.3,630.3 1368.4,586.5 1368.6,615.1 1368.7,601.0 1368.8,613.3 1368.9,595.5 1369.0,618.7 1369.2,649.1 1369.3,600.5 1369.4,560.8 1369.5,662.0 1369.7,630.5 1369.8,632.5 1369.9,592.1 1370.0,633.1 1370.1,598.9 1370.3,616.8 1370.4,632.4 1370.5,603.5 1370.6,725.8 1370.7,633.8 1370.9,568.2 1371.0,603.0 1371.1,603.9 1371.2,615.8 1371.3,634.5 1371.5,644.5 1371.6,680.5 1371.7,643.2 1371.8,574.5 1372.0,610.1 1372.1,653.9 1372.2,630.8 1372.3,591.7 1372.4,566.5 1372.6,622.2 1372.7,583.7 1372.8,612.7 1372.9,659.7 1373.0,656.6 1373.2,669.8 1373.3,638.8 1373.4,533.0 1373.5,612.3 1373.7,649.7 1373.8,682.7 1373.9,572.9 1374.0,619.5 1374.1,622.5 1374.3,598.2 1374.4,580.8 1374.5,660.9 1374.6,657.7 1374.7,577.1 1374.9,611.9 1375.0,634.2 1375.1,638.4 1375.2,623.5 1375.4,619.9 1375.5,583.5 1375.6,660.7 1375.7,639.2 1375.8,669.9 1376.0,613.7 1376.1,621.5 1376.2,618.6 1376.3,665.0 1376.4,621.0 1376.6,597.4 1376.7,656.5 1376.8,618.9 1376.9,638.0 1377.0,625.1 1377.2,559.5 1377.3,629.6 1377.4,556.1 1377.5,572.3 1377.7,613.5 1377.8,619.2 1377.9,697.3 1378.0,638.5 1378.1,589.0 1378.3,590.1 1378.4,626.9 1378.5,675.9 1378.6,561.6 1378.7,649.9 1378.9,666.1 1379.0,582.8 1379.1,623.5 1379.2,602.5 1379.4,597.1 1379.5,609.9 1379.6,620.6 1379.7,641.9 1379.8,626.5 1380.0,588.0 1380.1,617.9 1380.2,592.1 1380.3,625.0 1380.4,604.2 1380.6,632.9 1380.7,618.1 1380.8,590.7 1380.9,650.8 1381.1,622.4 1381.2,618.4 1381.3,574.3 1381.4,559.7 1381.5,612.0 1381.7,647.3 1381.8,621.8 1381.9,669.0 1382.0,624.0 1382.1,610.3 1382.3,628.9 1382.4,623.0 1382.5,605.4 1382.6,627.3 1382.8,558.5 1382.9,629.2 1383.0,643.8 1383.1,617.1 1383.2,590.5 1383.4,654.3 1383.5,579.5 1383.6,605.4 1383.7,651.8 1383.8,639.6 1384.0,616.0 1384.1,589.7 1384.2,594.6 1384.3,641.5 1384.4,588.1 1384.6,645.0 1384.7,600.5 1384.8,668.8 1384.9,606.5 1385.1,597.1 1385.2,610.2 1385.3,583.5 1385.4,617.6 1385.5,563.6 1385.7,599.6 1385.8,632.6 1385.9,654.1 1386.0,563.7 1386.1,630.9 1386.3,593.2 1386.4,576.7 1386.5,653.5 1386.6,632.2 1386.8,596.5 1386.9,566.4 1387.0,634.1 1387.1,630.9 1387.2,644.2 1387.4,551.7 1387.5,598.0 1387.6,582.5 1387.7,632.7 1387.8,646.2 1388.0,598.5 1388.1,560.6 1388.2,593.9 1388.3,654.7 1388.5,604.9 1388.6,649.4 1388.7,668.9 1388.8,621.1 1388.9,597.9 1389.1,594.6 1389.2,585.9 1389.3,579.1 1389.4,643.2 1389.5,626.5 1389.7,597.3 1389.8,655.5 1389.9,604.0 1390.0,667.8 1390.2,579.5 1390.3,636.3 1390.4,650.7 1390.5,585.0 1390.6,633.2 1390.8,577.9 1390.9,649.8 1391.0,602.2 1391.1,583.0 1391.2,567.7 1391.4,563.5 1391.5,595.3 1391.6,622.4 1391.7,601.0 1391.8,628.1 1392.0,548.8 1392.1,661.7 1392.2,627.3 1392.3,672.5 1392.5,624.4 1392.6,621.1 1392.7,590.8 1392.8,634.0 1392.9,620.7 1393.1,635.3 1393.2,582.9 1393.3,627.0 1393.4,631.1 1393.5,620.9 1393.7,546.6 1393.8,656.3 1393.9,616.5 1394.0,595.5 1394.2,608.3 1394.3,582.7 1394.4,640.3 1394.5,644.6 1394.6,608.5 1394.8,642.6 1394.9,598.4 1395.0,612.0 1395.1,591.0 1395.2,554.8 1395.4,597.7 1395.5,617.7 1395.6,562.1 1395.7,563.1 1395.9,623.9 1396.0,648.8 1396.1,609.7 1396.2,574.4 1396.3,589.4 1396.5,644.5 1396.6,589.2 1396.7,644.2 1396.8,641.6 1396.9,641.3 1397.1,621.7 1397.2,588.6 1397.3,700.2 1397.4,573.7 1397.6,631.3 1397.7,650.9 1397.8,652.9 1397.9,604.0 1398.0,641.1 1398.2,649.8 1398.3,651.1 1398.4,576.2 1398.5,589.5 1398.6,646.4 1398.8,584.3 1398.9,622.4 1399.0,629.6 1399.1,587.7 1399.2,620.9 1399.4,632.0 1399.5,636.4 1399.6,607.5 1399.7,582.6 1399.9,629.0 1400.0,556.3 1400.1,595.4 1400.2,621.8 1400.3,612.6 1400.5,660.6 1400.6,613.0 1400.7,595.8 1400.8,606.4 1400.9,625.7 1401.1,598.7 1401.2,593.6 1401.3,595.4 1401.4,670.7 1401.6,604.4 1401.7,568.4 1401.8,518.2 1401.9,600.3 1402.0,665.8 1402.2,627.9 1402.3,638.2 1402.4,641.1 1402.5,595.6 1402.6,614.9 1402.8,605.7 1402.9,594.8 1403.0,544.6 1403.1,652.9 1403.3,587.2 1403.4,566.6 1403.5,643.3 1403.6,599.2 1403.7,647.3 1403.9,639.1 1404.0,541.8 1404.1,548.2 1404.2,574.3 1404.3,607.1 1404.5,598.7 1404.6,585.8 1404.7,591.8 1404.8,611.1 1404.9,645.5 1405.1,604.0 1405.2,613.7 1405.3,571.4 1405.4,643.7 1405.6,597.1 1405.7,573.6 1405.8,587.6 1405.9,603.8 1406.0,540.6 1406.2,572.9 1406.3,602.6 1406.4,611.1 1406.5,644.0 1406.6,621.4 1406.8,590.0 1406.9,633.7 1407.0,618.6 1407.1,588.0 1407.3,567.4 1407.4,626.2 1407.5,619.8 1407.6,655.1 1407.7,612.0 1407.9,603.3 1408.0,603.9 1408.1,627.6 1408.2,611.0 1408.3,611.6 1408.5,623.7 1408.6,620.1 1408.7,562.1 1408.8,602.8 1409.0,606.2 1409.1,573.2 1409.2,642.5 1409.3,618.3 1409.4,574.7 1409.6,584.6 1409.7,606.7 1409.8,626.5 1409.9,580.1 1410.0,623.2 1410.2,612.3 1410.3,579.9 1410.4,552.7 1410.5,595.5 1410.7,584.5 1410.8,631.4 1410.9,593.1 1411.0,615.2 1411.1,581.1 1411.3,570.4 1411.4,621.7 1411.5,537.6 1411.6,581.4 1411.7,617.5 1411.9,581.2 1412.0,553.9 1412.1,556.3 1412.2,589.1 1412.3,598.5 1412.5,581.7 1412.6,600.8 1412.7,601.1 1412.8,589.7 1413.0,651.2 1413.1,621.1 1413.2,611.3 1413.3,562.5 1413.4,556.9 1413.6,581.7 1413.7,581.4 1413.8,600.3 1413.9,546.2 1414.0,614.5 1414.2,545.4 1414.3,604.8 1414.4,551.5 1414.5,593.1 1414.7,548.6 1414.8,558.5 1414.9,599.6 1415.0,617.7 1415.1,559.4 1415.3,550.4 1415.4,576.3 1415.5,625.4 1415.6,575.1 1415.7,592.7 1415.9,535.1 1416.0,596.5 1416.1,563.4 1416.2,617.0 1416.4,538.0 1416.5,514.6 1416.6,627.3 1416.7,550.1 1416.8,526.6 1417.0,572.2 1417.1,533.9 1417.2,546.5 1417.3,549.6 1417.4,618.7 1417.6,566.5 1417.7,496.5 1417.8,638.5 1417.9,619.5 1418.1,613.6 1418.2,618.3 1418.3,596.1 1418.4,526.5 1418.5,525.1 1418.7,563.3 1418.8,604.0 1418.9,550.4 1419.0,592.5 1419.1,604.1 1419.3,609.4 1419.4,641.7 1419.5,545.9 1419.6,572.9 1419.7,564.6 1419.9,554.1 1420.0,617.5 1420.1,634.7 1420.2,588.1 1420.4,667.0 1420.5,543.5 1420.6,561.4 1420.7,533.2 1420.8,623.1 1421.0,634.6 1421.1,574.4 1421.2,540.4 1421.3,580.1 1421.4,602.0 1421.6,603.1 1421.7,598.3 1421.8,575.7 1421.9,645.2 1422.1,562.0 1422.2,574.1 1422.3,651.1 1422.4,566.3 1422.5,557.2 1422.7,603.3 1422.8,590.3 1422.9,640.3 1423.0,565.7 1423.1,553.1 1423.3,570.8 1423.4,580.8 1423.5,567.7 1423.6,595.9 1423.8,563.8 1423.9,588.4 1424.0,518.0 1424.1,559.2 1424.2,599.5 1424.4,583.6 1424.5,540.4 1424.6,572.1 1424.7,549.0 1424.8,552.4 1425.0,564.9 1425.1,640.2 1425.2,595.9 1425.3,528.3 1425.5,577.2 1425.6,652.1 1425.7,619.5 1425.8,535.1 1425.9,587.3 1426.1,644.3 1426.2,577.1 1426.3,532.9 1426.4,574.3 1426.5,582.2 1426.7,568.9 1426.8,601.0 1426.9,559.6 1427.0,628.0 1427.1,572.7 1427.3,580.7 1427.4,611.3 1427.5,593.2 1427.6,593.9 1427.8,528.9 1427.9,597.2 1428.0,600.7 1428.1,593.4 1428.2,620.7 1428.4,579.9 1428.5,572.2 1428.6,569.2 1428.7,578.9 1428.8,581.4 1429.0,562.7 1429.1,611.5 1429.2,542.7 1429.3,577.5 1429.5,570.6 1429.6,524.0 1429.7,586.5 1429.8,580.0 1429.9,579.9 1430.1,581.3 1430.2,603.0 1430.3,602.1 1430.4,595.8 1430.5,606.6 1430.7,565.4 1430.8,572.3 1430.9,543.4 1431.0,580.1 1431.2,576.1 1431.3,574.8 1431.4,602.7 1431.5,592.1 1431.6,584.6 1431.8,553.7 1431.9,585.5 1432.0,615.1 1432.1,528.7 1432.2,553.8 1432.4,611.5 1432.5,617.7 1432.6,527.5 1432.7,583.2 1432.8,559.5 1433.0,509.8 1433.1,565.1 1433.2,565.8 1433.3,586.3 1433.5,584.3 1433.6,600.6 1433.7,552.8 1433.8,544.7 1433.9,538.2 1434.1,503.8 1434.2,590.5 1434.3,579.1 1434.4,536.5 1434.5,509.1 1434.7,610.4 1434.8,613.3 1434.9,589.6 1435.0,556.9 1435.2,497.6 1435.3,578.0 1435.4,539.6 1435.5,583.5 1435.6,561.3 1435.8,572.8 1435.9,507.4 1436.0,601.2 1436.1,574.5 1436.2,550.6 1436.4,596.2 1436.5,607.9 1436.6,582.0 1436.7,553.7 1436.9,570.9 1437.0,560.0 1437.1,538.2 1437.2,526.0 1437.3,545.8 1437.5,558.4 1437.6,586.3 1437.7,542.9 1437.8,599.4 1437.9,604.9 1438.1,501.2 1438.2,575.5 1438.3,558.6 1438.4,559.3 1438.6,554.0 1438.7,576.5 1438.8,598.1 1438.9,509.3 1439.0,593.2 1439.2,558.5 1439.3,594.0 1439.4,556.9 1439.5,629.6 1439.6,561.5 1439.8,577.6 1439.9,540.4 1440.0,500.1 1440.1,639.7 1440.2,508.9 1440.4,580.0 1440.5,527.7 1440.6,581.8 1440.7,553.9 1440.9,540.0 1441.0,577.7 1441.1,547.0 1441.2,573.9 1441.3,577.5 1441.5,557.5 1441.6,559.8 1441.7,580.5 1441.8,610.5 1441.9,552.4 1442.1,529.0 1442.2,518.0 1442.3,513.5 1442.4,574.5 1442.6,583.0 1442.7,565.1 1442.8,557.6 1442.9,532.3 1443.0,521.9 1443.2,494.4 1443.3,551.0 1443.4,578.7 1443.5,563.9 1443.6,574.7 1443.8,577.3 1443.9,535.2 1444.0,525.6 1444.1,529.8 1444.3,583.3 1444.4,522.2 1444.5,607.3 1444.6,564.9 1444.7,570.3 1444.9,516.8 1445.0,572.6 1445.1,544.5 1445.2,510.5 1445.3,555.6 1445.5,540.8 1445.6,606.2 1445.7,539.7 1445.8,529.1 1446.0,581.4 1446.1,507.4 1446.2,570.4 1446.3,576.3 1446.4,559.9 1446.6,562.0 1446.7,536.2 1446.8,588.9 1446.9,551.4 1447.0,532.5 1447.2,558.8 1447.3,533.7 1447.4,546.5 1447.5,545.9 1447.6,552.9 1447.8,509.8 1447.9,537.1 1448.0,553.7 1448.1,561.8 1448.3,543.0 1448.4,554.4 1448.5,566.6 1448.6,522.6 1448.7,573.3 1448.9,543.4 1449.0,538.3 1449.1,497.5 1449.2,583.2 1449.3,564.0 1449.5,559.3 1449.6,496.1 1449.7,568.4 1449.8,552.0 1450.0,551.1 1450.1,536.4 1450.2,570.8 1450.3,553.4 1450.4,537.4 1450.6,561.2 1450.7,574.8 1450.8,547.5 1450.9,506.5 1451.0,546.1 1451.2,590.7 1451.3,510.5 1451.4,568.7 1451.5,593.7 1451.7,484.9 1451.8,513.5 1451.9,531.3 1452.0,547.2 1452.1,437.9 1452.3,549.5 1452.4,501.2 1452.5,527.7 1452.6,600.0 1452.7,545.8 1452.9,533.4 1453.0,499.5 1453.1,570.5 1453.2,525.5 1453.4,572.8 1453.5,566.8 1453.6,543.8 1453.7,500.5 1453.8,559.6 1454.0,539.8 1454.1,574.5 1454.2,550.0 1454.3,561.6 1454.4,566.6 1454.6,522.9 1454.7,508.2 1454.8,529.7 1454.9,538.0 1455.0,538.5 1455.2,461.0 1455.3,528.1 1455.4,549.4 1455.5,552.9 1455.7,521.4 1455.8,507.1 1455.9,561.3 1456.0,530.1 1456.1,566.5 1456.3,533.2 1456.4,517.2 1456.5,598.6 1456.6,509.0 1456.7,583.3 1456.9,518.1 1457.0,548.2 1457.1,538.6 1457.2,525.9 1457.4,587.0 1457.5,519.5 1457.6,566.2 1457.7,509.6 1457.8,556.0 1458.0,492.1 1458.1,582.4 1458.2,523.9 1458.3,498.2 1458.4,557.4 1458.6,537.4 1458.7,564.1 1458.8,537.5 1458.9,557.9 1459.1,517.5 1459.2,583.5 1459.3,580.2 1459.4,521.7 1459.5,528.4 1459.7,542.5 1459.8,520.6 1459.9,504.6 1460.0,538.2 1460.1,555.2 1460.3,545.6 1460.4,528.2 1460.5,549.2 1460.6,597.4 1460.7,550.4 1460.9,542.1 1461.0,523.4 1461.1,503.8 1461.2,499.2 1461.4,495.6 1461.5,567.7 1461.6,553.2 1461.7,541.1 1461.8,548.3 1462.0,527.8 1462.1,573.9 1462.2,542.2 1462.3,530.8 1462.4,553.9 1462.6,515.5 1462.7,514.1 1462.8,534.4 1462.9,512.5 1463.1,523.3 1463.2,547.8 1463.3,565.2 1463.4,509.9 1463.5,504.5 1463.7,531.4 1463.8,565.9 1463.9,569.8 1464.0,491.9 1464.1,495.2 1464.3,517.7 1464.4,547.0 1464.5,551.2 1464.6,575.6 1464.8,570.3 1464.9,530.9 1465.0,558.5 1465.1,518.2 1465.2,538.4 1465.4,510.6 1465.5,520.8 1465.6,566.6 1465.7,551.6 1465.8,541.0 1466.0,540.3 1466.1,564.5 1466.2,478.3 1466.3,502.9 1466.5,549.1 1466.6,531.0 1466.7,560.9 1466.8,573.4 1466.9,520.4 1467.1,509.3 1467.2,568.1 1467.3,526.5 1467.4,539.7 1467.5,576.9 1467.7,495.8 1467.8,473.1 1467.9,516.4 1468.0,535.8 1468.1,537.4 1468.3,571.5 1468.4,574.1 1468.5,563.7 1468.6,535.0 1468.8,522.7 1468.9,551.7 1469.0,515.3 1469.1,550.6 1469.2,579.6 1469.4,515.1 1469.5,552.5 1469.6,515.1 1469.7,519.3 1469.8,522.6 1470.0,490.5 1470.1,564.9 1470.2,488.9 1470.3,483.5 1470.5,547.9 1470.6,513.2 1470.7,525.6 1470.8,587.5 1470.9,546.6 1471.1,530.3 1471.2,545.6 1471.3,526.5 1471.4,527.2 1471.5,518.9 1471.7,542.4 1471.8,529.3 1471.9,517.1 1472.0,541.3 1472.2,546.4 1472.3,529.0 1472.4,502.8 1472.5,532.7 1472.6,490.9 1472.8,475.9 1472.9,532.7 1473.0,510.2 1473.1,539.5 1473.2,560.8 1473.4,571.3 1473.5,560.8 1473.6,521.4 1473.7,474.9 1473.9,564.2 1474.0,467.6 1474.1,510.0 1474.2,545.8 1474.3,580.4 1474.5,532.3 1474.6,535.8 1474.7,535.8 1474.8,545.0 1474.9,556.4 1475.1,494.6 1475.2,513.0 1475.3,559.7 1475.4,492.9 1475.5,488.3 1475.7,558.1 1475.8,544.7 1475.9,559.2 1476.0,499.4 1476.2,516.0 1476.3,495.6 1476.4,575.2 1476.5,566.9 1476.6,613.3 1476.8,542.2 1476.9,574.1 1477.0,569.3 1477.1,544.8 1477.2,547.9 1477.4,528.1 1477.5,561.2 1477.6,508.1 1477.7,540.2 1477.9,557.9 1478.0,525.1 1478.1,499.0 1478.2,474.4 1478.3,524.3 1478.5,501.6 1478.6,517.0 1478.7,456.2 1478.8,528.7 1478.9,557.8 1479.1,530.4 1479.2,568.5 1479.3,491.8 1479.4,532.5 1479.6,581.2 1479.7,522.9 1479.8,483.7 1479.9,549.0 1480.0,506.6 1480.2,462.5 1480.3,503.8 1480.4,522.9 1480.5,482.2 1480.6,550.0 1480.8,482.3 1480.9,491.1 1481.0,525.7 1481.1,518.7 1481.3,534.7 1481.4,554.9 1481.5,490.5 1481.6,508.5 1481.7,517.7 1481.9,510.0 1482.0,511.0 1482.1,456.0 1482.2,529.0 1482.3,580.1 1482.5,517.9 1482.6,499.5 1482.7,565.4 1482.8,473.3 1482.9,539.3 1483.1,544.2 1483.2,505.4 1483.3,549.6 1483.4,470.2 1483.6,569.2 1483.7,558.0 1483.8,550.7 1483.9,565.4 1484.0,502.9 1484.2,522.5 1484.3,507.9 1484.4,542.9 1484.5,506.5 1484.6,544.3 1484.8,434.9 1484.9,497.2 1485.0,538.9 1485.1,517.3 1485.3,518.3 1485.4,585.6 1485.5,527.7 1485.6,523.9 1485.7,511.5 1485.9,504.7 1486.0,508.0 1486.1,512.8 1486.2,464.6 1486.3,521.7 1486.5,508.6 1486.6,493.3 1486.7,509.4 1486.8,522.6 1487.0,557.3 1487.1,524.0 1487.2,513.1 1487.3,490.3 1487.4,515.8 1487.6,508.2 1487.7,489.1 1487.8,541.7 1487.9,465.7 1488.0,494.4 1488.2,510.8 1488.3,450.2 1488.4,535.1 1488.5,512.9 1488.6,516.6 1488.8,551.7 1488.9,456.6 1489.0,539.7 1489.1,541.7 1489.3,575.5 1489.4,530.2 1489.5,535.4 1489.6,586.6 1489.7,491.0 1489.9,481.5 1490.0,522.0 1490.1,486.3 1490.2,522.2 1490.3,409.9 1490.5,537.6 1490.6,522.2 1490.7,573.0 1490.8,500.5 1491.0,522.6 1491.1,528.0 1491.2,506.6 1491.3,506.1 1491.4,541.0 1491.6,534.2 1491.7,510.0 1491.8,474.0 1491.9,474.8 1492.0,550.7 1492.2,492.2 1492.3,485.3 1492.4,464.3 1492.5,535.5 1492.7,497.4 1492.8,515.1 1492.9,615.3 1493.0,520.8 1493.1,536.1 1493.3,502.1 1493.4,512.1 1493.5,533.9 1493.6,473.8 1493.7,464.7 1493.9,492.0 1494.0,568.5 1494.1,560.9 1494.2,501.9 1494.4,537.7 1494.5,500.2 1494.6,476.7 1494.7,524.8 1494.8,457.6 1495.0,438.1 1495.1,501.1 1495.2,475.1 1495.3,522.7 1495.4,490.9 1495.6,484.5 1495.7,500.5 1495.8,590.1 1495.9,471.6 1496.0,532.1 1496.2,588.8 1496.3,495.0 1496.4,501.8 1496.5,523.3 1496.7,541.4 1496.8,528.6 1496.9,497.0 1497.0,471.3 1497.1,521.6 1497.3,576.8 1497.4,500.0 1497.5,551.8 1497.6,449.4 1497.7,529.9 1497.9,523.5 1498.0,501.3 1498.1,556.0 1498.2,514.4 1498.4,491.6 1498.5,503.9 1498.6,507.6 1498.7,478.8 1498.8,455.5 1499.0,518.4 1499.1,596.1 1499.2,585.3 1499.3,483.6 1499.4,507.9 1499.6,488.2 1499.7,523.7 1499.8,439.5 1499.9,537.6 1500.1,457.8 1500.2,497.1 1500.3,591.8 1500.4,493.1 1500.5,489.7 1500.7,450.5 1500.8,404.2 1500.9,510.0 1501.0,506.4 1501.1,567.0 1501.3,468.7 1501.4,482.6 1501.5,498.4 1501.6,489.9 1501.8,592.9 1501.9,488.8 1502.0,539.0 1502.1,522.4 1502.2,502.2 1502.4,461.5 1502.5,510.2 1502.6,478.5 1502.7,472.8 1502.8,511.7 1503.0,506.2 1503.1,511.3 1503.2,449.2 1503.3,499.1 1503.4,492.3 1503.6,478.8 1503.7,453.0 1503.8,463.4 1503.9,536.4 1504.1,597.6 1504.2,508.0 1504.3,474.9 1504.4,499.7 1504.5,477.5 1504.7,510.2 1504.8,504.6 1504.9,477.0 1505.0,438.0 1505.1,529.5 1505.3,446.6 1505.4,431.9 1505.5,454.5 1505.6,465.8 1505.8,499.0 1505.9,542.0 1506.0,484.7 1506.1,528.3 1506.2,571.0 1506.4,551.8 1506.5,530.7 1506.6,568.3 1506.7,428.9 1506.8,441.5 1507.0,522.8 1507.1,570.0 1507.2,599.2 1507.3,534.8 1507.5,486.5 1507.6,467.3 1507.7,530.8 1507.8,516.0 1507.9,447.2 1508.1,503.3 1508.2,491.6 1508.3,539.7 1508.4,500.8 1508.5,463.2 1508.7,509.3 1508.8,547.8 1508.9,512.9 1509.0,511.4 1509.2,506.6 1509.3,487.6 1509.4,528.1 1509.5,472.1 1509.6,453.4 1509.8,572.6 1509.9,548.0 1510.0,488.7 1510.1,392.2 1510.2,455.7 1510.4,480.4 1510.5,463.4 1510.6,524.5 1510.7,507.2 1510.8,521.8 1511.0,492.6 1511.1,511.2 1511.2,518.4 1511.3,502.3 1511.5,538.7 1511.6,537.9 1511.7,412.1 1511.8,421.7 1511.9,498.7 1512.1,514.2 1512.2,511.3 1512.3,528.7 1512.4,472.9 1512.5,513.1 1512.7,495.6 1512.8,445.2 1512.9,536.9 1513.0,451.5 1513.2,459.8 1513.3,531.9 1513.4,496.6 1513.5,567.7 1513.6,500.9 1513.8,529.9 1513.9,507.1 1514.0,550.8 1514.1,517.7 1514.2,474.5 1514.4,519.9 1514.5,475.8 1514.6,531.8 1514.7,471.4 1514.9,484.9 1515.0,576.8 1515.1,524.3 1515.2,542.1 1515.3,519.5 1515.5,513.9 1515.6,462.7 1515.7,485.3 1515.8,538.5 1515.9,515.3 1516.1,494.6 1516.2,546.1 1516.3,501.6 1516.4,474.3 1516.6,486.7 1516.7,530.2 1516.8,502.1 1516.9,461.1 1517.0,501.8 1517.2,502.1 1517.3,522.1 1517.4,489.0 1517.5,488.8 1517.6,428.9 1517.8,514.2 1517.9,499.9 1518.0,493.7 1518.1,502.4 1518.2,468.0 1518.4,514.3 1518.5,437.9 1518.6,546.7 1518.7,531.8 1518.9,492.2 1519.0,537.6 1519.1,500.3 1519.2,436.6 1519.3,496.0 1519.5,444.9 1519.6,471.7 1519.7,543.9 1519.8,518.3 1519.9,490.3 1520.1,498.8 1520.2,503.7 1520.3,484.2 1520.4,486.7 1520.6,484.2 1520.7,506.2 1520.8,488.7 1520.9,454.8 1521.0,511.5 1521.2,536.8 1521.3,530.5 1521.4,498.2 1521.5,439.1 1521.6,439.3 1521.8,505.1 1521.9,535.1 1522.0,491.8 1522.1,456.2 1522.3,484.7 1522.4,474.5 1522.5,516.1 1522.6,450.3 1522.7,482.2 1522.9,480.3 1523.0,521.7 1523.1,528.1 1523.2,479.8 1523.3,467.6 1523.5,518.0 1523.6,526.0 1523.7,517.1 1523.8,482.5 1523.9,486.6 1524.1,465.3 1524.2,472.5 1524.3,455.1 1524.4,513.4 1524.6,502.3 1524.7,533.8 1524.8,503.9 1524.9,520.7 1525.0,504.3 1525.2,457.7 1525.3,505.8 1525.4,460.4 1525.5,475.1 1525.6,473.6 1525.8,485.7 1525.9,470.6 1526.0,429.2 1526.1,533.7 1526.3,438.9 1526.4,517.4 1526.5,509.7 1526.6,464.8 1526.7,536.6 1526.9,491.9 1527.0,490.8 1527.1,462.4 1527.2,452.9 1527.3,442.8 1527.5,507.8 1527.6,452.4 1527.7,495.1 1527.8,472.1 1528.0,485.8 1528.1,482.5 1528.2,506.1 1528.3,466.8 1528.4,543.2 1528.6,486.1 1528.7,495.9 1528.8,461.9 1528.9,494.2 1529.0,492.8 1529.2,495.1 1529.3,470.5 1529.4,493.8 1529.5,473.5 1529.7,520.8 1529.8,513.1 1529.9,521.5 1530.0,462.9 1530.1,524.0 1530.3,419.2 1530.4,515.2 1530.5,517.2 1530.6,464.9 1530.7,451.7 1530.9,482.8 1531.0,490.1 1531.1,479.5 1531.2,523.4 1531.3,488.7 1531.5,457.4 1531.6,558.1 1531.7,484.7 1531.8,474.2 1532.0,447.9 1532.1,492.4 1532.2,504.0 1532.3,484.9 1532.4,478.0 1532.6,504.6 1532.7,508.5 1532.8,500.1 1532.9,471.4 1533.0,449.6 1533.2,500.8 1533.3,488.7 1533.4,529.7 1533.5,460.1 1533.7,537.3 1533.8,515.8 1533.9,457.7 1534.0,424.5 1534.1,480.1 1534.3,477.2 1534.4,478.1 1534.5,449.5 1534.6,493.1 1534.7,405.2 1534.9,446.2 1535.0,550.2 1535.1,485.0 1535.2,486.8 1535.4,511.1 1535.5,470.7 1535.6,504.2 1535.7,468.8 1535.8,440.2 1536.0,474.6 1536.1,555.0 1536.2,449.5 1536.3,456.8 1536.4,455.8 1536.6,451.6 1536.7,487.9 1536.8,509.1 1536.9,486.1 1537.1,467.0 1537.2,486.5 1537.3,468.2 1537.4,472.9 1537.5,484.4 1537.7,477.5 1537.8,529.4 1537.9,516.3 1538.0,468.8 1538.1,469.2 1538.3,521.8 1538.4,460.0 1538.5,494.7 1538.6,461.8 1538.7,515.8 1538.9,549.5 1539.0,520.0 1539.1,477.8 1539.2,441.3 1539.4,477.8 1539.5,468.1 1539.6,524.7 1539.7,499.9 1539.8,441.2 1540.0,429.6 1540.1,457.6 1540.2,490.9 1540.3,516.9 1540.4,502.1 1540.6,499.3 1540.7,475.7 1540.8,472.5 1540.9,478.9 1541.1,482.9 1541.2,481.6 1541.3,515.6 1541.4,479.9 1541.5,495.0 1541.7,428.5 1541.8,484.7 1541.9,511.2 1542.0,530.2 1542.1,524.4 1542.3,463.8 1542.4,464.0 1542.5,447.8 1542.6,502.6 1542.8,435.4 1542.9,400.5 1543.0,422.3 1543.1,513.8 1543.2,423.7 1543.4,431.7 1543.5,410.1 1543.6,490.6 1543.7,555.5 1543.8,468.5 1544.0,517.7 1544.1,493.6 1544.2,459.9 1544.3,494.4 1544.5,525.0 1544.6,506.0 1544.7,463.0 1544.8,463.1 1544.9,491.9 1545.1,512.7 1545.2,495.5 1545.3,372.9 1545.4,471.3 1545.5,501.1 1545.7,494.2 1545.8,458.4 1545.9,492.1 1546.0,464.7 1546.1,498.2 1546.3,570.4 1546.4,463.3 1546.5,512.4 1546.6,515.2 1546.8,480.3 1546.9,452.2 1547.0,455.6 1547.1,434.0 1547.2,440.5 1547.4,472.4 1547.5,476.4 1547.6,452.9 1547.7,528.4 1547.8,519.0 1548.0,472.8 1548.1,531.8 1548.2,549.1 1548.3,492.8 1548.5,508.1 1548.6,505.1 1548.7,398.6 1548.8,507.7 1548.9,464.1 1549.1,499.1 1549.2,427.4 1549.3,491.7 1549.4,466.2 1549.5,440.1 1549.7,498.4 1549.8,492.0 1549.9,488.2 1550.0,449.5 1550.2,438.4 1550.3,506.1 1550.4,487.9 1550.5,474.1 1550.6,428.2 1550.8,481.6 1550.9,494.6 1551.0,513.0 1551.1,538.7 1551.2,454.8 1551.4,550.0 1551.5,505.9 1551.6,403.2 1551.7,426.7 1551.8,511.5 1552.0,532.2 1552.1,444.4 1552.2,487.6 1552.3,465.9 1552.5,425.2 1552.6,436.0 1552.7,468.4 1552.8,497.2 1552.9,486.4 1553.1,463.9 1553.2,430.3 1553.3,453.0 1553.4,513.7 1553.5,515.6 1553.7,470.5 1553.8,529.9 1553.9,530.5 1554.0,436.0 1554.2,466.0 1554.3,454.8 1554.4,470.9 1554.5,521.9 1554.6,406.2 1554.8,506.1 1554.9,456.0 1555.0,491.3 1555.1,374.7 1555.2,479.9 1555.4,461.0 1555.5,450.7 1555.6,508.4 1555.7,446.0 1555.9,415.2 1556.0,443.3 1556.1,438.1 1556.2,453.6 1556.3,491.1 1556.5,413.4 1556.6,444.0 1556.7,468.0 1556.8,477.6 1556.9,441.6 1557.1,421.9 1557.2,497.7 1557.3,551.2 1557.4,467.3 1557.6,490.2 1557.7,509.7 1557.8,414.0 1557.9,537.5 1558.0,458.1 1558.2,493.9 1558.3,436.8 1558.4,467.3 1558.5,500.5 1558.6,519.9 1558.8,514.6 1558.9,432.4 1559.0,425.3 1559.1,456.9 1559.2,441.9 1559.4,484.3 1559.5,501.8 1559.6,569.4 1559.7,452.7 1559.9,485.3 1560.0,402.2 1560.1,470.5 1560.2,488.8 1560.3,498.2 1560.5,396.3 1560.6,437.3 1560.7,516.2 1560.8,515.3 1560.9,430.4 1561.1,481.2 1561.2,493.6 1561.3,489.9 1561.4,516.8 1561.6,556.4 1561.7,457.9 1561.8,406.2 1561.9,493.8 1562.0,530.1 1562.2,419.2 1562.3,482.9 1562.4,442.8 1562.5,529.9 1562.6,436.9 1562.8,502.0 1562.9,458.4 1563.0,425.6 1563.1,519.4 1563.3,456.1 1563.4,484.9 1563.5,453.4 1563.6,467.3 1563.7,437.9 1563.9,514.5 1564.0,490.4 1564.1,526.9 1564.2,474.9 1564.3,487.4 1564.5,508.0 1564.6,499.8 1564.7,444.3 1564.8,530.7 1565.0,476.0 1565.1,450.2 1565.2,465.3 1565.3,439.9 1565.4,504.8 1565.6,465.6 1565.7,511.9 1565.8,463.6 1565.9,499.2 1566.0,470.1 1566.2,454.1 1566.3,468.6 1566.4,441.4 1566.5,449.1 1566.6,468.6 1566.8,508.3 1566.9,450.0 1567.0,440.4 1567.1,422.1 1567.3,480.6 1567.4,472.3 1567.5,453.1 1567.6,449.0 1567.7,460.4 1567.9,487.9 1568.0,446.4 1568.1,456.6 1568.2,509.4 1568.3,446.5 1568.5,479.1 1568.6,477.2 1568.7,486.2 1568.8,488.7 1569.0,467.3 1569.1,504.7 1569.2,468.1 1569.3,447.9 1569.4,446.2 1569.6,549.3 1569.7,392.2 1569.8,478.3 1569.9,423.9 1570.0,484.4 1570.2,455.7 1570.3,494.0 1570.4,455.3 1570.5,468.6 1570.7,507.4 1570.8,452.8 1570.9,504.8 1571.0,427.3 1571.1,520.4 1571.3,464.5 1571.4,469.5 1571.5,576.6 1571.6,458.9 1571.7,410.9 1571.9,452.4 1572.0,441.4 1572.1,491.3 1572.2,485.5 1572.4,461.4 1572.5,495.7 1572.6,477.8 1572.7,517.8 1572.8,448.6 1573.0,511.2 1573.1,561.8 1573.2,542.6 1573.3,430.9 1573.4,466.0 1573.6,463.3 1573.7,532.3 1573.8,424.6 1573.9,495.1 1574.0,404.9 1574.2,492.5 1574.3,559.1 1574.4,365.4 1574.5,469.2 1574.7,399.2 1574.8,478.5 1574.9,490.9 1575.0,455.3 1575.1,497.4 1575.3,486.2 1575.4,507.4 1575.5,415.2 1575.6,448.5 1575.7,490.5 1575.9,502.6 1576.0,453.6 1576.1,488.7 1576.2,491.0 1576.4,477.6 1576.5,412.7 1576.6,518.8 1576.7,453.8 1576.8,469.0 1577.0,413.0 1577.1,483.6 1577.2,445.0 1577.3,443.6 1577.4,444.9 1577.6,493.4 1577.7,499.6 1577.8,466.3 1577.9,453.0 1578.1,517.2 1578.2,483.9 1578.3,459.2 1578.4,441.9 1578.5,431.0 1578.7,421.8 1578.8,441.2 1578.9,451.5 1579.0,469.5 1579.1,503.5 1579.3,490.6 1579.4,455.1 1579.5,487.7 1579.6,476.2 1579.7,412.9 1579.9,408.5 1580.0,416.0 1580.1,503.4 1580.2,412.9 1580.4,433.1 1580.5,492.9 1580.6,447.1 1580.7,483.1 1580.8,464.6 1581.0,418.9 1581.1,406.9 1581.2,447.9 1581.3,470.7 1581.4,460.5 1581.6,458.7 1581.7,441.8 1581.8,443.7 1581.9,427.4 1582.1,425.5 1582.2,475.7 1582.3,506.0 1582.4,494.2 1582.5,443.3 1582.7,381.5 1582.8,432.3 1582.9,354.3 1583.0,458.1 1583.1,510.7 1583.3,467.7 1583.4,421.8 1583.5,438.5 1583.6,418.4 1583.8,437.2 1583.9,483.2 1584.0,409.2 1584.1,463.2 1584.2,459.9 1584.4,503.8 1584.5,501.1 1584.6,420.6 1584.7,473.6 1584.8,430.6 1585.0,521.4 1585.1,416.4 1585.2,439.6 1585.3,482.6 1585.5,485.0 1585.6,400.2 1585.7,478.8 1585.8,481.0 1585.9,480.8 1586.1,499.4 1586.2,454.1 1586.3,401.4 1586.4,458.5 1586.5,429.3 1586.7,418.5 1586.8,444.4 1586.9,397.7 1587.0,435.0 1587.1,400.7 1587.3,501.1 1587.4,511.9 1587.5,456.7 1587.6,434.6 1587.8,428.6 1587.9,542.3 1588.0,475.5 1588.1,465.7 1588.2,471.1 1588.4,521.1 1588.5,488.0 1588.6,413.8 1588.7,474.1 1588.8,464.8 1589.0,463.4 1589.1,486.1 1589.2,507.3 1589.3,381.2 1589.5,422.5 1589.6,431.8 1589.7,503.6 1589.8,466.9 1589.9,443.3 1590.1,447.2 1590.2,511.6 1590.3,494.3 1590.4,434.8 1590.5,430.7 1590.7,456.5 1590.8,446.0 1590.9,404.8 1591.0,510.2 1591.2,483.4 1591.3,457.1 1591.4,426.8 1591.5,447.7 1591.6,513.3 1591.8,498.0 1591.9,447.4 1592.0,444.2 1592.1,481.6 1592.2,459.6 1592.4,443.5 1592.5,438.6 1592.6,425.2 1592.7,437.7 1592.9,454.9 1593.0,413.8 1593.1,485.6 1593.2,523.0 1593.3,412.4 1593.5,420.2 1593.6,424.9 1593.7,432.6 1593.8,440.0 1593.9,502.1 1594.1,407.8 1594.2,480.4 1594.3,479.6 1594.4,457.3 1594.5,473.9 1594.7,447.7 1594.8,555.3 1594.9,444.3 1595.0,458.5 1595.2,450.2 1595.3,463.3 1595.4,451.2 1595.5,476.0 1595.6,477.4 1595.8,458.1 1595.9,466.6 1596.0,397.1 1596.1,494.2 1596.2,518.9 1596.4,438.7 1596.5,503.5 1596.6,447.1 1596.7,450.8 1596.9,470.4 1597.0,467.3 1597.1,477.1 1597.2,427.3 1597.3,473.3 1597.5,471.9 1597.6,508.5 1597.7,480.0 1597.8,485.1 1597.9,433.6 1598.1,427.7 1598.2,460.0 1598.3,493.0 1598.4,483.6 1598.6,442.5 1598.7,427.1 1598.8,462.6 1598.9,442.0 1599.0,458.3 1599.2,485.3 1599.3,465.9 1599.4,459.6 1599.5,454.7 1599.6,509.9 1599.8,436.5 1599.9,468.7 1600.0,485.8 1600.1,427.5 1600.3,483.2 1600.4,502.1 1600.5,431.1 1600.6,485.3 1600.7,534.5 1600.9,444.7 1601.0,450.3 1601.1,453.7 1601.2,426.4 1601.3,434.4 1601.5,490.3 1601.6,450.4 1601.7,521.4 1601.8,387.5 1601.9,515.3 1602.1,453.2 1602.2,437.3 1602.3,453.9 1602.4,491.2 1602.6,487.6 1602.7,444.5 1602.8,441.3 1602.9,454.0 1603.0,415.6 1603.2,439.9 1603.3,492.8 1603.4,479.6 1603.5,481.5 1603.6,492.9 1603.8,485.1 1603.9,431.1 1604.0,430.5 1604.1,473.0 1604.3,458.5 1604.4,454.9 1604.5,500.7 1604.6,461.7 1604.7,429.5 1604.9,513.1 1605.0,522.3 1605.1,439.9 1605.2,396.6 1605.3,473.0 1605.5,497.0 1605.6,443.5 1605.7,449.5 1605.8,451.5 1606.0,441.5 1606.1,458.8 1606.2,482.6 1606.3,426.3 1606.4,411.1 1606.6,463.9 1606.7,516.0 1606.8,458.7 1606.9,502.1 1607.0,456.9 1607.2,439.3 1607.3,480.7 1607.4,430.8 1607.5,450.2 1607.6,405.3 1607.8,440.3 1607.9,464.5 1608.0,447.7 1608.1,521.7 1608.3,406.9 1608.4,498.4 1608.5,456.8 1608.6,456.6 1608.7,429.7 1608.9,447.0 1609.0,440.5 1609.1,449.3 1609.2,508.9 1609.3,461.0 1609.5,507.7 1609.6,456.3 1609.7,454.1 1609.8,435.8 1610.0,425.1 1610.1,462.9 1610.2,442.3 1610.3,476.1 1610.4,438.1 1610.6,427.2 1610.7,459.7 1610.8,491.2 1610.9,431.9 1611.0,357.9 1611.2,456.8 1611.3,452.6 1611.4,466.7 1611.5,419.7 1611.7,475.4 1611.8,477.1 1611.9,451.7 1612.0,512.6 1612.1,478.0 1612.3,456.2 1612.4,479.3 1612.5,445.3 1612.6,475.5 1612.7,453.5 1612.9,517.0 1613.0,433.6 1613.1,457.1 1613.2,504.8 1613.4,436.6 1613.5,429.6 1613.6,470.7 1613.7,428.6" fill="none" stroke="#0072BD" stroke-width="6" stroke-linejoin="bevel" shape-rendering="crispEdges"/>
<polygon points="922.4,417.1 926.8,417.2 931.2,417.5 935.6,418.0 940.0,418.7 944.4,419.6 948.8,420.6 953.2,421.9 957.5,423.3 961.9,425.0 966.3,426.8 970.7,428.8 975.1,430.9 979.5,433.3 983.9,435.8 988.3,438.5 992.7,441.3 997.1,444.3 1001.5,447.4 1005.9,450.7 1010.3,454.2 1014.7,457.8 1019.1,461.5 1023.5,465.3 1027.8,469.2 1032.2,473.3 1036.6,477.5 1041.0,481.8 1045.4,486.1 1049.8,490.6 1054.2,495.1 1058.6,499.7 1063.0,504.4 1067.4,509.1 1071.8,513.9 1076.2,518.8 1080.6,523.6 1085.0,528.5 1089.4,533.4 1093.8,538.4 1098.1,543.3 1102.5,548.2 1106.9,553.2 1111.3,558.1 1115.7,562.9 1120.1,567.8 1124.5,572.6 1128.9,577.4 1133.3,582.1 1137.7,586.7 1142.1,591.3 1146.5,595.8 1150.9,600.2 1155.3,604.5 1159.7,608.8 1164.1,612.9 1168.4,616.9 1172.8,620.8 1177.2,624.5 1181.6,628.2 1186.0,631.7 1190.4,635.1 1194.8,638.3 1199.2,641.4 1203.6,644.3 1208.0,647.0 1212.4,649.6 1216.8,652.1 1221.2,654.3 1225.6,656.4 1230.0,658.3 1234.3,660.0 1238.7,661.5 1243.1,662.9 1247.5,664.0 1251.9,665.0 1256.3,665.8 1260.7,666.4 1265.1,666.8 1269.5,667.0 1273.9,667.0 1278.3,666.8 1282.7,666.4 1287.1,665.8 1291.5,665.0 1295.9,664.0 1300.3,662.9 1304.6,661.5 1309.0,660.0 1313.4,658.3 1317.8,656.4 1322.2,654.3 1326.6,652.1 1331.0,649.6 1335.4,647.0 1339.8,644.3 1344.2,641.4 1348.6,638.3 1353.0,635.1 1357.4,631.7 1361.8,628.2 1366.2,624.5 1370.6,620.8 1374.9,616.9 1379.3,612.9 1383.7,608.8 1388.1,604.5 1392.5,600.2 1396.9,595.8 1401.3,591.3 1405.7,586.7 1410.1,582.1 1414.5,577.4 1418.9,572.6 1423.3,567.8 1427.7,562.9 1432.1,558.1 1436.5,553.2 1440.9,548.2 1445.2,543.3 1449.6,538.4 1454.0,533.4 1458.4,528.5 1462.8,523.6 1467.2,518.8 1471.6,513.9 1476.0,509.1 1480.4,504.4 1484.8,499.7 1489.2,495.1 1493.6,490.6 1498.0,486.1 1502.4,481.8 1506.8,477.5 1511.2,473.3 1515.5,469.2 1519.9,465.3 1524.3,461.5 1528.7,457.8 1533.1,454.2 1537.5,450.7 1541.9,447.4 1546.3,444.3 1550.7,441.3 1555.1,438.5 1559.5,435.8 1563.9,433.3 1568.3,430.9 1572.7,428.8 1577.1,426.8 1581.4,425.0 1585.8,423.3 1590.2,421.9 1594.6,420.6 1599.0,419.6 1603.4,418.7 1607.8,418.0 1612.2,417.5 1616.6,417.2 1621.0,417.1 1621.0,431.1 1616.6,431.2 1612.2,431.5 1607.8,432.0 1603.4,432.7 1599.0,433.6 1594.6,434.6 1590.2,435.9 1585.8,437.3 1581.4,439.0 1577.1,440.8 1572.7,442.8 1568.3,444.9 1563.9,447.3 1559.5,449.8 1555.1,452.5 1550.7,455.3 1546.3,458.3 1541.9,461.4 1537.5,464.7 1533.1,468.2 1528.7,471.8 1524.3,475.5 1519.9,479.3 1515.5,483.2 1511.2,487.3 1506.8,491.5 1502.4,495.8 1498.0,500.1 1493.6,504.6 1489.2,509.1 1484.8,513.7 1480.4,518.4 1476.0,523.1 1471.6,527.9 1467.2,532.8 1462.8,537.6 1458.4,542.5 1454.0,547.4 1449.6,552.4 1445.2,557.3 1440.9,562.2 1436.5,567.2 1432.1,572.1 1427.7,576.9 1423.3,581.8 1418.9,586.6 1414.5,591.4 1410.1,596.1 1405.7,600.7 1401.3,605.3 1396.9,609.8 1392.5,614.2 1388.1,618.5 1383.7,622.8 1379.3,626.9 1374.9,630.9 1370.6,634.8 1366.2,638.5 1361.8,642.2 1357.4,645.7 1353.0,649.1 1348.6,652.3 1344.2,655.4 1339.8,658.3 1335.4,661.0 1331.0,663.6 1326.6,666.1 1322.2,668.3 1317.8,670.4 1313.4,672.3 1309.0,674.0 1304.6,675.5 1300.3,676.9 1295.9,678.0 1291.5,679.0 1287.1,679.8 1282.7,680.4 1278.3,680.8 1273.9,681.0 1269.5,681.0 1265.1,680.8 1260.7,680.4 1256.3,679.8 1251.9,679.0 1247.5,678.0 1243.1,676.9 1238.7,675.5 1234.3,674.0 1230.0,672.3 1225.6,670.4 1221.2,668.3 1216.8,666.1 1212.4,663.6 1208.0,661.0 1203.6,658.3 1199.2,655.4 1194.8,652.3 1190.4,649.1 1186.0,645.7 1181.6,642.2 1177.2,638.5 1172.8,634.8 1168.4,630.9 1164.1,626.9 1159.7,622.8 1155.3,618.5 1150.9,614.2 1146.5,609.8 1142.1,605.3 1137.7,600.7 1133.3,596.1 1128.9,591.4 1124.5,586.6 1120.1,581.8 1115.7,576.9 1111.3,572.1 1106.9,567.2 1102.5,562.2 1098.1,557.3 1093.8,552.4 1089.4,547.4 1085.0,542.5 1080.6,537.6 1076.2,532.8 1071.8,527.9 1067.4,523.1 1063.0,518.4 1058.6,513.7 1054.2,509.1 1049.8,504.6 1045.4,500.1 1041.0,495.8 1036.6,491.5 1032.2,487.3 1027.8,483.2 1023.5,479.3 1019.1,475.5 1014.7,471.8 1010.3,468.2 1005.9,464.7 1001.5,461.4 997.1,458.3 992.7,455.3 988.3,452.5 983.9,449.8 979.5,447.3 975.1,444.9 970.7,442.8 966.3,440.8 961.9,439.0 957.5,437.3 953.2,435.9 948.8,434.6 944.4,433.6 940.0,432.7 935.6,432.0 931.2,431.5 926.8,431.2 922.4,431.1" fill="#FF0000" shape-rendering="crispEdges"/>
</g>
<g id="panel-c">
<path d="M1760.1 44.9V798.9M1875.8 44.9V798.9M1991.4 44.9V798.9M2107.1 44.9V798.9M2222.8 44.9V798.9" stroke="#262626" stroke-opacity="0.15" stroke-width="5.7" fill="none"/>
<path d="M1644.4 673.2H2338.5M1644.4 547.6H2338.5M1644.4 421.9H2338.5M1644.4 296.2H2338.5M1644.4 170.6H2338.5" stroke="#262626" stroke-opacity="0.15" stroke-width="5.7" fill="none"/>
<path d="M1760.1 798.9v-9.8M1760.1 44.9v9.8M1875.8 798.9v-9.8M1875.8 44.9v9.8M1991.4 798.9v-9.8M1991.4 44.9v9.8M2107.1 798.9v-9.8M2107.1 44.9v9.8M2222.8 798.9v-9.8M2222.8 44.9v9.8M1644.4 673.2h10.4M2338.5 673.2h-10.5M1644.4 547.6h10.4M2338.5 547.6h-10.5M1644.4 421.9h10.4M2338.5 421.9h-10.5M1644.4 296.2h10.4M2338.5 296.2h-10.5M1644.4 170.6h10.4M2338.5 170.6h-10.5" stroke="#262626" stroke-width="5.7" fill="none"/>
<path d="M1642.0 44.9H2341.0" stroke="#262626" stroke-width="5.7"/>
<path d="M1642.0 798.9H2341.0" stroke="#262626" stroke-width="5.7"/>
<path d="M1644.4 42.0V801.8" stroke="#262626" stroke-width="4.8"/>
<path d="M2338.5 42.0V801.8" stroke="#262626" stroke-width="5.0"/>
<polyline points="1644.4,487.6 1644.5,436.2 1644.6,448.3 1644.8,453.7 1644.9,471.0 1645.0,393.0 1645.1,380.8 1645.2,379.8 1645.4,448.9 1645.5,395.1 1645.6,418.5 1645.7,461.9 1645.8,443.9 1646.0,425.7 1646.1,403.0 1646.2,407.6 1646.3,449.5 1646.5,416.7 1646.6,418.3 1646.7,371.7 1646.8,376.9 1646.9,430.6 1647.1,416.2 1647.2,410.0 1647.3,431.4 1647.4,397.8 1647.5,467.1 1647.7,381.8 1647.8,406.7 1647.9,475.1 1648.0,429.1 1648.1,446.4 1648.3,377.1 1648.4,400.6 1648.5,461.8 1648.6,441.0 1648.7,399.8 1648.9,369.0 1649.0,387.5 1649.1,415.7 1649.2,366.4 1649.3,373.1 1649.5,441.7 1649.6,526.2 1649.7,397.5 1649.8,436.1 1649.9,526.5 1650.1,377.1 1650.2,455.4 1650.3,420.5 1650.4,457.7 1650.6,380.5 1650.7,449.2 1650.8,406.0 1650.9,500.7 1651.0,344.3 1651.2,343.4 1651.3,426.5 1651.4,399.0 1651.5,416.4 1651.6,324.5 1651.8,431.2 1651.9,467.3 1652.0,463.8 1652.1,357.1 1652.2,312.7 1652.4,394.4 1652.5,386.5 1652.6,338.0 1652.7,376.0 1652.8,375.9 1653.0,403.3 1653.1,456.0 1653.2,447.4 1653.3,412.8 1653.4,498.8 1653.6,423.5 1653.7,412.9 1653.8,384.6 1653.9,411.7 1654.0,398.0 1654.2,410.9 1654.3,349.0 1654.4,389.5 1654.5,391.1 1654.7,420.4 1654.8,329.6 1654.9,504.6 1655.0,376.2 1655.1,422.9 1655.3,411.0 1655.4,397.8 1655.5,360.0 1655.6,362.6 1655.7,423.4 1655.9,332.7 1656.0,434.9 1656.1,382.1 1656.2,378.3 1656.3,405.2 1656.5,331.7 1656.6,363.8 1656.7,367.5 1656.8,439.0 1656.9,467.2 1657.1,353.2 1657.2,444.4 1657.3,422.2 1657.4,381.7 1657.5,428.3 1657.7,374.7 1657.8,408.2 1657.9,403.5 1658.0,403.0 1658.2,421.8 1658.3,435.5 1658.4,379.8 1658.5,423.9 1658.6,354.2 1658.8,313.3 1658.9,401.3 1659.0,438.8 1659.1,339.9 1659.2,443.2 1659.4,428.1 1659.5,326.5 1659.6,439.9 1659.7,375.5 1659.8,434.3 1660.0,363.0 1660.1,361.7 1660.2,358.1 1660.3,345.3 1660.4,380.8 1660.6,495.6 1660.7,397.7 1660.8,369.1 1660.9,395.0 1661.0,395.9 1661.2,382.4 1661.3,374.4 1661.4,458.8 1661.5,359.8 1661.6,383.5 1661.8,406.8 1661.9,455.9 1662.0,393.1 1662.1,399.7 1662.3,450.3 1662.4,442.0 1662.5,417.3 1662.6,431.6 1662.7,433.7 1662.9,342.8 1663.0,381.4 1663.1,362.0 1663.2,400.2 1663.3,512.0 1663.5,362.5 1663.6,387.4 1663.7,335.2 1663.8,464.2 1663.9,435.4 1664.1,430.9 1664.2,359.3 1664.3,479.0 1664.4,350.8 1664.5,398.2 1664.7,390.8 1664.8,302.3 1664.9,346.9 1665.0,419.8 1665.1,373.0 1665.3,378.9 1665.4,405.0 1665.5,455.6 1665.6,422.7 1665.8,491.9 1665.9,417.7 1666.0,379.4 1666.1,340.3 1666.2,326.5 1666.4,373.1 1666.5,350.6 1666.6,274.2 1666.7,456.2 1666.8,466.8 1667.0,391.3 1667.1,413.4 1667.2,371.4 1667.3,430.9 1667.4,400.8 1667.6,366.1 1667.7,374.5 1667.8,372.9 1667.9,359.3 1668.0,395.0 1668.2,397.8 1668.3,390.8 1668.4,398.4 1668.5,367.8 1668.6,355.8 1668.8,367.5 1668.9,455.1 1669.0,434.5 1669.1,434.5 1669.2,334.8 1669.4,417.7 1669.5,371.2 1669.6,450.9 1669.7,343.5 1669.9,363.5 1670.0,388.7 1670.1,432.7 1670.2,292.8 1670.3,420.2 1670.5,416.7 1670.6,370.8 1670.7,345.5 1670.8,445.1 1670.9,450.5 1671.1,345.5 1671.2,443.0 1671.3,404.8 1671.4,381.6 1671.5,370.5 1671.7,427.4 1671.8,346.7 1671.9,401.2 1672.0,371.4 1672.1,473.6 1672.3,472.6 1672.4,443.0 1672.5,436.1 1672.6,347.4 1672.7,407.3 1672.9,396.7 1673.0,329.1 1673.1,311.2 1673.2,375.4 1673.3,412.6 1673.5,436.4 1673.6,365.5 1673.7,402.2 1673.8,391.2 1674.0,351.9 1674.1,426.2 1674.2,370.5 1674.3,344.7 1674.4,446.7 1674.6,415.8 1674.7,401.4 1674.8,396.7 1674.9,452.5 1675.0,389.0 1675.2,381.8 1675.3,426.5 1675.4,426.2 1675.5,397.3 1675.6,409.6 1675.8,388.5 1675.9,391.3 1676.0,419.8 1676.1,345.9 1676.2,441.6 1676.4,417.7 1676.5,330.8 1676.6,379.0 1676.7,340.4 1676.8,331.2 1677.0,417.9 1677.1,418.5 1677.2,429.5 1677.3,338.9 1677.5,377.3 1677.6,381.0 1677.7,320.6 1677.8,379.5 1677.9,414.7 1678.1,363.1 1678.2,354.3 1678.3,398.2 1678.4,270.2 1678.5,374.4 1678.7,371.0 1678.8,334.1 1678.9,377.6 1679.0,379.4 1679.1,355.5 1679.3,418.7 1679.4,255.5 1679.5,402.3 1679.6,386.1 1679.7,434.0 1679.9,365.1 1680.0,446.5 1680.1,388.9 1680.2,363.9 1680.3,359.2 1680.5,348.5 1680.6,372.9 1680.7,314.3 1680.8,375.7 1680.9,388.2 1681.1,468.9 1681.2,364.6 1681.3,367.9 1681.4,292.3 1681.6,357.0 1681.7,363.1 1681.8,415.5 1681.9,341.6 1682.0,317.0 1682.2,366.4 1682.3,386.2 1682.4,346.9 1682.5,387.1 1682.6,270.0 1682.8,272.3 1682.9,407.9 1683.0,394.0 1683.1,425.2 1683.2,387.3 1683.4,399.4 1683.5,394.5 1683.6,383.4 1683.7,374.9 1683.8,436.0 1684.0,354.9 1684.1,401.2 1684.2,367.4 1684.3,409.4 1684.4,458.1 1684.6,462.7 1684.7,437.9 1684.8,416.6 1684.9,337.7 1685.0,343.2 1685.2,383.0 1685.3,370.9 1685.4,308.7 1685.5,396.4 1685.7,374.9 1685.8,368.6 1685.9,406.2 1686.0,305.9 1686.1,348.9 1686.3,382.6 1686.4,420.0 1686.5,330.4 1686.6,378.6 1686.7,401.9 1686.9,365.1 1687.0,434.3 1687.1,311.2 1687.2,402.1 1687.3,422.7 1687.5,426.4 1687.6,394.5 1687.7,456.1 1687.8,372.8 1687.9,426.7 1688.1,349.6 1688.2,376.3 1688.3,401.5 1688.4,427.3 1688.5,399.9 1688.7,392.4 1688.8,397.7 1688.9,405.4 1689.0,389.2 1689.2,398.8 1689.3,401.1 1689.4,370.0 1689.5,342.7 1689.6,527.2 1689.8,430.6 1689.9,300.2 1690.0,403.6 1690.1,352.1 1690.2,354.0 1690.4,357.7 1690.5,320.6 1690.6,262.8 1690.7,404.2 1690.8,390.7 1691.0,334.6 1691.1,373.5 1691.2,374.9 1691.3,493.5 1691.4,391.9 1691.6,346.6 1691.7,341.2 1691.8,460.3 1691.9,419.6 1692.0,425.2 1692.2,331.1 1692.3,389.3 1692.4,299.7 1692.5,386.0 1692.6,398.7 1692.8,301.0 1692.9,404.6 1693.0,425.0 1693.1,384.9 1693.3,331.5 1693.4,352.5 1693.5,408.3 1693.6,407.8 1693.7,388.9 1693.9,399.4 1694.0,447.0 1694.1,458.7 1694.2,374.5 1694.3,351.4 1694.5,415.5 1694.6,454.5 1694.7,381.3 1694.8,463.7 1694.9,329.9 1695.1,431.0 1695.2,469.8 1695.3,417.7 1695.4,454.0 1695.5,375.7 1695.7,367.0 1695.8,480.7 1695.9,426.9 1696.0,373.0 1696.1,300.5 1696.3,369.3 1696.4,352.4 1696.5,371.6 1696.6,311.0 1696.8,379.0 1696.9,418.0 1697.0,316.0 1697.1,346.5 1697.2,379.2 1697.4,437.4 1697.5,418.9 1697.6,418.8 1697.7,380.9 1697.8,356.2 1698.0,331.6 1698.1,404.5 1698.2,441.8 1698.3,364.3 1698.4,305.3 1698.6,437.6 1698.7,320.7 1698.8,313.6 1698.9,332.7 1699.0,348.0 1699.2,348.8 1699.3,362.6 1699.4,337.3 1699.5,325.9 1699.6,260.0 1699.8,267.0 1699.9,291.4 1700.0,336.3 1700.1,344.6 1700.2,311.1 1700.4,355.2 1700.5,371.7 1700.6,342.3 1700.7,364.6 1700.9,320.2 1701.0,357.0 1701.1,375.1 1701.2,411.2 1701.3,377.7 1701.5,435.5 1701.6,408.1 1701.7,403.1 1701.8,340.3 1701.9,361.4 1702.1,340.1 1702.2,341.1 1702.3,320.8 1702.4,421.1 1702.5,339.1 1702.7,390.0 1702.8,362.8 1702.9,371.1 1703.0,362.5 1703.1,295.0 1703.3,425.1 1703.4,371.8 1703.5,388.8 1703.6,409.7 1703.7,437.0 1703.9,326.1 1704.0,400.2 1704.1,274.4 1704.2,337.1 1704.3,340.7 1704.5,329.6 1704.6,367.4 1704.7,342.9 1704.8,298.7 1705.0,396.8 1705.1,354.1 1705.2,340.2 1705.3,336.0 1705.4,367.0 1705.6,375.9 1705.7,355.2 1705.8,281.0 1705.9,376.7 1706.0,314.7 1706.2,331.6 1706.3,376.8 1706.4,368.2 1706.5,439.2 1706.6,343.7 1706.8,354.8 1706.9,382.6 1707.0,341.6 1707.1,283.4 1707.2,430.6 1707.4,326.5 1707.5,367.6 1707.6,359.7 1707.7,319.4 1707.8,332.9 1708.0,385.0 1708.1,354.2 1708.2,295.7 1708.3,375.6 1708.5,359.4 1708.6,376.7 1708.7,345.8 1708.8,353.1 1708.9,369.3 1709.1,387.2 1709.2,416.3 1709.3,344.7 1709.4,335.6 1709.5,442.8 1709.7,293.4 1709.8,295.6 1709.9,411.2 1710.0,421.0 1710.1,316.9 1710.3,363.4 1710.4,392.4 1710.5,365.3 1710.6,418.4 1710.7,358.8 1710.9,399.9 1711.0,360.0 1711.1,330.5 1711.2,315.4 1711.3,408.8 1711.5,336.7 1711.6,389.2 1711.7,287.3 1711.8,383.1 1711.9,428.9 1712.1,365.9 1712.2,406.7 1712.3,341.3 1712.4,325.8 1712.6,393.7 1712.7,388.9 1712.8,366.0 1712.9,398.2 1713.0,408.2 1713.2,354.4 1713.3,343.9 1713.4,364.3 1713.5,342.9 1713.6,292.8 1713.8,336.4 1713.9,397.8 1714.0,414.1 1714.1,398.9 1714.2,361.1 1714.4,356.1 1714.5,384.3 1714.6,410.3 1714.7,373.5 1714.8,400.9 1715.0,362.7 1715.1,393.7 1715.2,366.9 1715.3,422.3 1715.4,417.0 1715.6,342.0 1715.7,351.6 1715.8,384.3 1715.9,430.5 1716.0,328.1 1716.2,396.8 1716.3,387.2 1716.4,409.2 1716.5,344.9 1716.7,322.6 1716.8,337.7 1716.9,403.7 1717.0,334.5 1717.1,401.8 1717.3,259.6 1717.4,384.5 1717.5,360.2 1717.6,379.2 1717.7,344.6 1717.9,339.0 1718.0,311.3 1718.1,361.2 1718.2,328.3 1718.3,341.0 1718.5,318.8 1718.6,376.9 1718.7,228.1 1718.8,286.6 1718.9,376.4 1719.1,408.1 1719.2,350.3 1719.3,365.8 1719.4,339.4 1719.5,365.9 1719.7,389.8 1719.8,292.9 1719.9,332.3 1720.0,424.1 1720.2,353.1 1720.3,324.0 1720.4,303.8 1720.5,454.5 1720.6,385.7 1720.8,335.9 1720.9,390.6 1721.0,334.6 1721.1,401.7 1721.2,342.2 1721.4,392.7 1721.5,404.4 1721.6,286.3 1721.7,317.5 1721.8,309.6 1722.0,366.6 1722.1,323.4 1722.2,396.8 1722.3,285.7 1722.4,364.3 1722.6,351.6 1722.7,413.9 1722.8,282.2 1722.9,368.6 1723.0,337.4 1723.2,343.2 1723.3,359.7 1723.4,369.9 1723.5,392.6 1723.6,339.6 1723.8,341.2 1723.9,348.9 1724.0,375.0 1724.1,359.7 1724.3,360.3 1724.4,321.6 1724.5,319.9 1724.6,296.7 1724.7,338.7 1724.9,342.2 1725.0,344.1 1725.1,358.5 1725.2,298.3 1725.3,333.2 1725.5,330.1 1725.6,293.5 1725.7,376.7 1725.8,333.8 1725.9,378.1 1726.1,363.0 1726.2,363.1 1726.3,369.9 1726.4,289.5 1726.5,264.8 1726.7,338.7 1726.8,337.2 1726.9,375.9 1727.0,397.3 1727.1,288.1 1727.3,327.3 1727.4,327.0 1727.5,299.3 1727.6,289.3 1727.8,320.2 1727.9,353.3 1728.0,360.4 1728.1,418.5 1728.2,332.2 1728.4,338.2 1728.5,361.8 1728.6,357.1 1728.7,390.5 1728.8,304.9 1729.0,285.8 1729.1,413.3 1729.2,338.0 1729.3,294.3 1729.4,379.7 1729.6,373.9 1729.7,308.1 1729.8,411.5 1729.9,330.2 1730.0,394.9 1730.2,336.5 1730.3,348.7 1730.4,346.4 1730.5,297.5 1730.6,369.9 1730.8,350.7 1730.9,321.0 1731.0,319.8 1731.1,352.8 1731.2,362.8 1731.4,294.4 1731.5,337.6 1731.6,367.6 1731.7,368.4 1731.9,328.0 1732.0,341.8 1732.1,364.0 1732.2,352.5 1732.3,318.1 1732.5,295.5 1732.6,348.3 1732.7,286.7 1732.8,359.1 1732.9,295.8 1733.1,304.6 1733.2,350.8 1733.3,294.9 1733.4,220.8 1733.5,349.9 1733.7,371.5 1733.8,375.3 1733.9,401.5 1734.0,343.6 1734.1,341.8 1734.3,331.1 1734.4,332.5 1734.5,301.7 1734.6,350.4 1734.7,287.0 1734.9,390.9 1735.0,321.8 1735.1,331.0 1735.2,384.7 1735.3,308.6 1735.5,347.0 1735.6,312.4 1735.7,353.1 1735.8,368.7 1736.0,263.1 1736.1,347.7 1736.2,255.8 1736.3,319.9 1736.4,347.8 1736.6,324.5 1736.7,361.3 1736.8,340.2 1736.9,368.8 1737.0,312.4 1737.2,329.1 1737.3,361.9 1737.4,322.6 1737.5,336.8 1737.6,352.0 1737.8,318.9 1737.9,316.0 1738.0,306.8 1738.1,376.6 1738.2,344.5 1738.4,278.5 1738.5,280.1 1738.6,338.5 1738.7,313.2 1738.8,333.7 1739.0,293.9 1739.1,344.1 1739.2,332.2 1739.3,295.7 1739.5,371.8 1739.6,434.2 1739.7,298.1 1739.8,302.4 1739.9,309.7 1740.1,372.3 1740.2,283.4 1740.3,323.8 1740.4,316.9 1740.5,325.1 1740.7,365.8 1740.8,334.7 1740.9,358.2 1741.0,381.3 1741.1,304.1 1741.3,375.2 1741.4,374.5 1741.5,327.0 1741.6,323.8 1741.7,283.1 1741.9,323.9 1742.0,260.6 1742.1,388.4 1742.2,325.1 1742.3,387.6 1742.5,373.7 1742.6,339.4 1742.7,281.2 1742.8,302.1 1742.9,316.4 1743.1,344.9 1743.2,367.9 1743.3,304.0 1743.4,337.0 1743.6,298.6 1743.7,359.1 1743.8,326.3 1743.9,312.7 1744.0,376.1 1744.2,328.3 1744.3,391.2 1744.4,328.4 1744.5,354.7 1744.6,366.8 1744.8,300.3 1744.9,317.9 1745.0,348.9 1745.1,341.1 1745.2,302.3 1745.4,310.8 1745.5,321.3 1745.6,322.4 1745.7,343.5 1745.8,303.8 1746.0,382.2 1746.1,267.7 1746.2,342.2 1746.3,331.1 1746.4,283.1 1746.6,277.4 1746.7,352.5 1746.8,278.1 1746.9,350.7 1747.0,370.7 1747.2,247.9 1747.3,325.4 1747.4,333.1 1747.5,319.4 1747.7,331.8 1747.8,374.9 1747.9,340.6 1748.0,403.5 1748.1,364.7 1748.3,291.2 1748.4,339.1 1748.5,275.2 1748.6,348.3 1748.7,280.8 1748.9,290.2 1749.0,296.8 1749.1,313.0 1749.2,340.6 1749.3,319.2 1749.5,338.0 1749.6,310.4 1749.7,317.3 1749.8,281.7 1749.9,320.9 1750.1,314.3 1750.2,299.7 1750.3,318.9 1750.4,261.0 1750.5,330.4 1750.7,315.8 1750.8,344.0 1750.9,290.5 1751.0,307.7 1751.2,329.7 1751.3,276.7 1751.4,251.4 1751.5,276.4 1751.6,313.0 1751.8,273.8 1751.9,224.4 1752.0,307.6 1752.1,370.4 1752.2,342.8 1752.4,365.7 1752.5,357.4 1752.6,320.0 1752.7,308.2 1752.8,279.5 1753.0,285.1 1753.1,337.7 1753.2,328.2 1753.3,362.5 1753.4,333.2 1753.6,344.2 1753.7,296.1 1753.8,334.0 1753.9,262.0 1754.0,334.9 1754.2,283.7 1754.3,357.5 1754.4,295.4 1754.5,363.3 1754.6,348.6 1754.8,264.4 1754.9,260.6 1755.0,375.0 1755.1,323.1 1755.3,325.5 1755.4,277.7 1755.5,321.2 1755.6,313.5 1755.7,371.7 1755.9,321.0 1756.0,251.3 1756.1,258.7 1756.2,303.2 1756.3,353.9 1756.5,251.9 1756.6,334.1 1756.7,322.0 1756.8,335.5 1756.9,257.6 1757.1,310.0 1757.2,283.7 1757.3,317.8 1757.4,385.1 1757.5,304.1 1757.7,328.6 1757.8,319.2 1757.9,275.7 1758.0,258.5 1758.1,285.6 1758.3,318.1 1758.4,261.0 1758.5,277.9 1758.6,347.4 1758.8,317.5 1758.9,342.4 1759.0,279.0 1759.1,317.3 1759.2,309.0 1759.4,352.2 1759.5,309.0 1759.6,330.9 1759.7,291.2 1759.8,304.0 1760.0,256.3 1760.1,326.1 1760.2,365.2 1760.3,308.5 1760.4,262.1 1760.6,329.7 1760.7,279.5 1760.8,315.6 1760.9,297.4 1761.0,298.4 1761.2,332.7 1761.3,308.5 1761.4,289.0 1761.5,353.4 1761.6,310.6 1761.8,372.8 1761.9,332.2 1762.0,288.4 1762.1,369.8 1762.2,290.6 1762.4,342.7 1762.5,345.3 1762.6,297.2 1762.7,298.5 1762.9,288.7 1763.0,315.8 1763.1,302.3 1763.2,275.8 1763.3,305.8 1763.5,268.8 1763.6,342.0 1763.7,349.2 1763.8,314.6 1763.9,343.1 1764.1,314.8 1764.2,314.9 1764.3,362.2 1764.4,205.8 1764.5,342.0 1764.7,308.8 1764.8,274.3 1764.9,229.3 1765.0,329.2 1765.1,304.0 1765.3,299.0 1765.4,329.3 1765.5,364.5 1765.6,270.6 1765.7,243.5 1765.9,273.4 1766.0,319.6 1766.1,324.1 1766.2,280.5 1766.3,300.6 1766.5,329.8 1766.6,328.2 1766.7,329.4 1766.8,341.2 1767.0,298.3 1767.1,286.4 1767.2,269.6 1767.3,288.5 1767.4,297.2 1767.6,314.6 1767.7,301.4 1767.8,263.9 1767.9,336.2 1768.0,261.7 1768.2,247.8 1768.3,305.5 1768.4,282.0 1768.5,283.3 1768.6,297.1 1768.8,327.0 1768.9,268.1 1769.0,324.3 1769.1,225.0 1769.2,276.0 1769.4,303.7 1769.5,314.2 1769.6,307.1 1769.7,306.2 1769.8,326.1 1770.0,286.9 1770.1,262.0 1770.2,331.7 1770.3,315.7 1770.5,333.6 1770.6,274.6 1770.7,338.2 1770.8,317.6 1770.9,300.6 1771.1,283.7 1771.2,256.1 1771.3,289.4 1771.4,327.0 1771.5,271.1 1771.7,318.5 1771.8,354.0 1771.9,325.6 1772.0,298.3 1772.1,349.1 1772.3,326.2 1772.4,316.8 1772.5,312.0 1772.6,272.1 1772.7,314.4 1772.9,297.1 1773.0,322.6 1773.1,307.8 1773.2,316.1 1773.3,293.3 1773.5,268.9 1773.6,296.7 1773.7,330.1 1773.8,299.9 1773.9,296.5 1774.1,297.6 1774.2,284.7 1774.3,330.7 1774.4,295.5 1774.6,173.1 1774.7,298.5 1774.8,310.7 1774.9,278.1 1775.0,317.8 1775.2,325.2 1775.3,298.3 1775.4,332.8 1775.5,314.2 1775.6,290.2 1775.8,292.8 1775.9,324.5 1776.0,268.9 1776.1,272.9 1776.2,308.1 1776.4,305.9 1776.5,270.6 1776.6,329.9 1776.7,291.5 1776.8,303.0 1777.0,354.2 1777.1,301.5 1777.2,388.3 1777.3,247.3 1777.4,297.7 1777.6,328.8 1777.7,314.3 1777.8,292.1 1777.9,318.4 1778.0,256.7 1778.2,328.9 1778.3,258.4 1778.4,286.8 1778.5,291.8 1778.7,257.5 1778.8,302.3 1778.9,323.9 1779.0,272.9 1779.1,283.8 1779.3,293.6 1779.4,294.4 1779.5,277.7 1779.6,346.3 1779.7,287.6 1779.9,292.6 1780.0,286.9 1780.1,328.9 1780.2,332.8 1780.3,280.7 1780.5,254.4 1780.6,272.5 1780.7,237.0 1780.8,251.8 1780.9,363.5 1781.1,239.2 1781.2,317.4 1781.3,310.4 1781.4,287.6 1781.5,323.6 1781.7,352.1 1781.8,299.8 1781.9,318.6 1782.0,266.8 1782.2,315.9 1782.3,308.3 1782.4,291.6 1782.5,312.6 1782.6,282.4 1782.8,278.8 1782.9,291.4 1783.0,312.1 1783.1,274.7 1783.2,374.1 1783.4,270.1 1783.5,332.3 1783.6,283.7 1783.7,286.1 1783.8,332.1 1784.0,258.9 1784.1,333.0 1784.2,294.2 1784.3,321.5 1784.4,303.9 1784.6,309.6 1784.7,272.7 1784.8,260.2 1784.9,289.2 1785.0,273.9 1785.2,321.8 1785.3,275.1 1785.4,312.8 1785.5,310.4 1785.6,308.7 1785.8,267.6 1785.9,335.5 1786.0,284.5 1786.1,335.2 1786.3,293.9 1786.4,316.4 1786.5,310.5 1786.6,319.9 1786.7,302.4 1786.9,318.1 1787.0,249.7 1787.1,301.2 1787.2,323.7 1787.3,362.5 1787.5,303.0 1787.6,239.8 1787.7,254.9 1787.8,324.1 1787.9,301.9 1788.1,296.5 1788.2,344.4 1788.3,370.3 1788.4,302.5 1788.5,295.0 1788.7,302.0 1788.8,338.3 1788.9,314.2 1789.0,294.5 1789.1,313.5 1789.3,340.0 1789.4,365.9 1789.5,349.3 1789.6,255.1 1789.8,267.9 1789.9,320.2 1790.0,257.1 1790.1,315.5 1790.2,306.2 1790.4,312.3 1790.5,276.1 1790.6,245.3 1790.7,325.6 1790.8,273.1 1791.0,356.4 1791.1,297.5 1791.2,272.6 1791.3,340.2 1791.4,269.8 1791.6,312.1 1791.7,270.2 1791.8,307.1 1791.9,275.1 1792.0,311.3 1792.2,247.4 1792.3,361.2 1792.4,313.2 1792.5,348.4 1792.6,330.1 1792.8,288.2 1792.9,328.2 1793.0,373.6 1793.1,362.9 1793.2,360.1 1793.4,240.7 1793.5,321.3 1793.6,291.4 1793.7,325.3 1793.9,322.1 1794.0,336.3 1794.1,318.1 1794.2,315.5 1794.3,266.2 1794.5,285.5 1794.6,312.1 1794.7,275.5 1794.8,370.1 1794.9,315.3 1795.1,271.8 1795.2,314.0 1795.3,285.3 1795.4,257.2 1795.5,365.1 1795.7,328.2 1795.8,283.8 1795.9,265.8 1796.0,324.0 1796.1,384.2 1796.3,316.8 1796.4,363.3 1796.5,251.0 1796.6,269.3 1796.7,347.8 1796.9,255.6 1797.0,314.6 1797.1,282.0 1797.2,357.6 1797.3,290.4 1797.5,328.5 1797.6,238.7 1797.7,261.8 1797.8,261.3 1798.0,275.9 1798.1,310.3 1798.2,328.9 1798.3,333.9 1798.4,297.2 1798.6,335.7 1798.7,286.8 1798.8,354.1 1798.9,273.2 1799.0,317.5 1799.2,285.1 1799.3,234.6 1799.4,321.0 1799.5,268.2 1799.6,325.3 1799.8,282.1 1799.9,331.1 1800.0,265.2 1800.1,317.4 1800.2,281.4 1800.4,313.2 1800.5,353.5 1800.6,248.3 1800.7,292.4 1800.8,289.7 1801.0,267.3 1801.1,352.1 1801.2,324.5 1801.3,336.5 1801.5,265.7 1801.6,293.5 1801.7,292.8 1801.8,343.0 1801.9,265.7 1802.1,305.2 1802.2,326.1 1802.3,279.1 1802.4,266.3 1802.5,275.3 1802.7,262.3 1802.8,327.7 1802.9,296.4 1803.0,289.8 1803.1,278.6 1803.3,293.1 1803.4,319.6 1803.5,289.8 1803.6,227.4 1803.7,242.2 1803.9,322.2 1804.0,322.9 1804.1,263.6 1804.2,288.5 1804.3,349.2 1804.5,339.6 1804.6,343.3 1804.7,275.3 1804.8,287.6 1804.9,303.2 1805.1,289.8 1805.2,306.6 1805.3,320.4 1805.4,301.4 1805.6,322.8 1805.7,340.8 1805.8,317.7 1805.9,284.4 1806.0,247.7 1806.2,259.8 1806.3,298.5 1806.4,276.9 1806.5,272.4 1806.6,241.2 1806.8,330.2 1806.9,360.5 1807.0,342.4 1807.1,282.2 1807.2,345.1 1807.4,304.6 1807.5,277.6 1807.6,324.5 1807.7,317.9 1807.8,291.0 1808.0,254.9 1808.1,309.7 1808.2,290.5 1808.3,267.7 1808.4,343.2 1808.6,342.5 1808.7,307.9 1808.8,305.7 1808.9,362.6 1809.0,271.6 1809.2,322.0 1809.3,244.6 1809.4,293.0 1809.5,358.9 1809.7,326.8 1809.8,292.3 1809.9,357.4 1810.0,303.1 1810.1,254.9 1810.3,327.0 1810.4,250.7 1810.5,248.0 1810.6,318.9 1810.7,302.4 1810.9,230.9 1811.0,281.5 1811.1,293.1 1811.2,325.3 1811.3,255.5 1811.5,265.9 1811.6,318.1 1811.7,378.4 1811.8,313.0 1811.9,283.5 1812.1,321.0 1812.2,279.2 1812.3,302.8 1812.4,239.1 1812.5,242.6 1812.7,344.7 1812.8,316.4 1812.9,280.0 1813.0,323.0 1813.2,319.9 1813.3,242.6 1813.4,263.1 1813.5,258.9 1813.6,325.3 1813.8,249.0 1813.9,297.5 1814.0,318.7 1814.1,301.8 1814.2,280.3 1814.4,273.4 1814.5,317.1 1814.6,339.3 1814.7,287.7 1814.8,345.7 1815.0,319.0 1815.1,298.1 1815.2,321.7 1815.3,335.0 1815.4,314.7 1815.6,322.3 1815.7,323.4 1815.8,340.9 1815.9,298.4 1816.0,207.9 1816.2,289.3 1816.3,310.9 1816.4,303.5 1816.5,277.2 1816.6,254.5 1816.8,273.4 1816.9,286.9 1817.0,316.0 1817.1,327.7 1817.3,314.2 1817.4,303.2 1817.5,326.8 1817.6,331.8 1817.7,242.5 1817.9,283.0 1818.0,313.5 1818.1,303.9 1818.2,342.8 1818.3,266.8 1818.5,287.2 1818.6,248.8 1818.7,303.7 1818.8,306.4 1818.9,331.5 1819.1,282.3 1819.2,324.6 1819.3,313.8 1819.4,334.5 1819.5,265.6 1819.7,305.8 1819.8,299.3 1819.9,309.3 1820.0,343.4 1820.1,305.1 1820.3,345.5 1820.4,297.0 1820.5,300.5 1820.6,284.3 1820.8,312.3 1820.9,301.9 1821.0,272.6 1821.1,296.2 1821.2,294.5 1821.4,320.3 1821.5,305.0 1821.6,302.4 1821.7,289.1 1821.8,315.6 1822.0,193.2 1822.1,308.3 1822.2,299.9 1822.3,332.5 1822.4,239.4 1822.6,295.5 1822.7,257.0 1822.8,225.8 1822.9,326.2 1823.0,310.0 1823.2,325.8 1823.3,236.3 1823.4,280.8 1823.5,286.5 1823.6,255.8 1823.8,344.3 1823.9,243.0 1824.0,289.9 1824.1,221.0 1824.2,368.1 1824.4,257.3 1824.5,362.3 1824.6,313.6 1824.7,253.9 1824.9,271.2 1825.0,290.7 1825.1,322.5 1825.2,320.1 1825.3,288.5 1825.5,270.1 1825.6,254.0 1825.7,308.7 1825.8,247.7 1825.9,280.3 1826.1,276.7 1826.2,283.2 1826.3,268.5 1826.4,247.7 1826.5,311.9 1826.7,269.6 1826.8,304.6 1826.9,297.4 1827.0,292.8 1827.1,276.0 1827.3,310.5 1827.4,420.2 1827.5,331.9 1827.6,283.1 1827.7,267.8 1827.9,282.9 1828.0,314.2 1828.1,325.3 1828.2,279.1 1828.3,288.3 1828.5,336.6 1828.6,344.2 1828.7,333.5 1828.8,328.9 1829.0,329.4 1829.1,316.2 1829.2,364.2 1829.3,311.1 1829.4,271.0 1829.6,250.8 1829.7,287.9 1829.8,288.0 1829.9,232.2 1830.0,290.6 1830.2,277.2 1830.3,327.6 1830.4,343.9 1830.5,330.7 1830.6,280.6 1830.8,319.8 1830.9,365.9 1831.0,319.3 1831.1,291.0 1831.2,302.5 1831.4,328.8 1831.5,324.4 1831.6,269.0 1831.7,224.2 1831.8,378.0 1832.0,301.5 1832.1,319.3 1832.2,341.4 1832.3,269.8 1832.5,289.2 1832.6,330.8 1832.7,279.3 1832.8,360.5 1832.9,289.6 1833.1,298.2 1833.2,307.5 1833.3,272.4 1833.4,346.3 1833.5,283.9 1833.7,352.3 1833.8,282.5 1833.9,277.3 1834.0,226.1 1834.1,268.2 1834.3,264.8 1834.4,331.0 1834.5,233.3 1834.6,247.0 1834.7,336.0 1834.9,274.3 1835.0,300.8 1835.1,271.8 1835.2,307.0 1835.3,330.3 1835.5,260.1 1835.6,327.8 1835.7,286.5 1835.8,295.4 1835.9,325.1 1836.1,286.3 1836.2,317.6 1836.3,343.0 1836.4,361.6 1836.6,331.1 1836.7,281.4 1836.8,360.6 1836.9,309.5 1837.0,251.7 1837.2,356.1 1837.3,332.3 1837.4,324.7 1837.5,307.9 1837.6,344.1 1837.8,300.4 1837.9,333.3 1838.0,312.0 1838.1,331.7 1838.2,281.6 1838.4,327.1 1838.5,286.9 1838.6,339.3 1838.7,260.0 1838.8,288.9 1839.0,291.7 1839.1,316.8 1839.2,316.6 1839.3,347.0 1839.4,351.3 1839.6,292.9 1839.7,365.8 1839.8,281.7 1839.9,299.4 1840.0,295.2 1840.2,339.7 1840.3,289.3 1840.4,342.5 1840.5,264.1 1840.7,280.8 1840.8,364.1 1840.9,375.3 1841.0,314.9 1841.1,316.9 1841.3,252.6 1841.4,325.5 1841.5,363.2 1841.6,371.9 1841.7,324.1 1841.9,314.3 1842.0,340.5 1842.1,374.4 1842.2,279.1 1842.3,368.0 1842.5,377.9 1842.6,326.1 1842.7,359.4 1842.8,287.4 1842.9,322.9 1843.1,264.6 1843.2,376.3 1843.3,265.6 1843.4,305.6 1843.5,334.5 1843.7,298.4 1843.8,311.0 1843.9,316.8 1844.0,278.6 1844.2,359.7 1844.3,360.1 1844.4,275.0 1844.5,184.7 1844.6,269.4 1844.8,334.4 1844.9,302.1 1845.0,294.4 1845.1,186.1 1845.2,372.1 1845.4,273.1 1845.5,313.6 1845.6,306.2 1845.7,342.4 1845.8,362.1 1846.0,314.7 1846.1,377.4 1846.2,336.2 1846.3,289.8 1846.4,276.1 1846.6,302.1 1846.7,320.7 1846.8,263.1 1846.9,359.6 1847.0,333.0 1847.2,343.3 1847.3,311.9 1847.4,335.3 1847.5,313.5 1847.6,273.6 1847.8,296.9 1847.9,277.5 1848.0,381.4 1848.1,290.0 1848.3,328.3 1848.4,314.4 1848.5,299.5 1848.6,330.2 1848.7,258.8 1848.9,233.3 1849.0,280.0 1849.1,332.0 1849.2,261.1 1849.3,290.9 1849.5,226.1 1849.6,347.4 1849.7,365.0 1849.8,281.5 1849.9,363.8 1850.1,258.3 1850.2,317.0 1850.3,297.0 1850.4,289.0 1850.5,297.7 1850.7,303.4 1850.8,287.3 1850.9,330.2 1851.0,256.0 1851.1,310.5 1851.3,285.4 1851.4,302.7 1851.5,281.1 1851.6,305.4 1851.8,259.6 1851.9,331.1 1852.0,290.3 1852.1,262.5 1852.2,327.6 1852.4,351.5 1852.5,397.6 1852.6,342.1 1852.7,237.0 1852.8,276.7 1853.0,274.2 1853.1,294.9 1853.2,283.5 1853.3,329.9 1853.4,286.1 1853.6,344.6 1853.7,304.7 1853.8,220.3 1853.9,348.5 1854.0,242.0 1854.2,294.0 1854.3,389.7 1854.4,332.8 1854.5,222.0 1854.6,331.2 1854.8,305.2 1854.9,287.3 1855.0,332.8 1855.1,270.2 1855.2,343.5 1855.4,319.2 1855.5,335.9 1855.6,350.7 1855.7,281.7 1855.9,280.5 1856.0,318.5 1856.1,307.2 1856.2,345.0 1856.3,342.4 1856.5,251.2 1856.6,353.3 1856.7,313.8 1856.8,339.4 1856.9,316.0 1857.1,317.5 1857.2,306.9 1857.3,353.0 1857.4,285.4 1857.5,227.6 1857.7,384.0 1857.8,290.6 1857.9,279.8 1858.0,290.4 1858.1,365.4 1858.3,322.0 1858.4,271.5 1858.5,304.1 1858.6,319.9 1858.7,271.4 1858.9,229.2 1859.0,279.3 1859.1,339.3 1859.2,308.4 1859.3,336.4 1859.5,301.7 1859.6,305.5 1859.7,314.0 1859.8,284.7 1860.0,294.4 1860.1,263.7 1860.2,290.6 1860.3,300.2 1860.4,285.1 1860.6,308.6 1860.7,303.0 1860.8,289.5 1860.9,257.6 1861.0,263.1 1861.2,261.7 1861.3,249.1 1861.4,359.3 1861.5,265.7 1861.6,264.0 1861.8,281.6 1861.9,274.9 1862.0,229.0 1862.1,298.7 1862.2,359.5 1862.4,243.0 1862.5,300.3 1862.6,310.9 1862.7,325.8 1862.8,279.1 1863.0,328.1 1863.1,320.3 1863.2,332.3 1863.3,310.9 1863.5,340.0 1863.6,270.8 1863.7,320.8 1863.8,266.8 1863.9,296.6 1864.1,366.1 1864.2,241.3 1864.3,314.2 1864.4,301.2 1864.5,303.2 1864.7,259.9 1864.8,299.3 1864.9,320.4 1865.0,343.7 1865.1,324.5 1865.3,272.0 1865.4,281.6 1865.5,327.4 1865.6,297.2 1865.7,281.5 1865.9,354.8 1866.0,340.5 1866.1,254.6 1866.2,349.1 1866.3,319.1 1866.5,286.4 1866.6,342.7 1866.7,233.2 1866.8,283.3 1866.9,312.6 1867.1,304.0 1867.2,276.1 1867.3,265.4 1867.4,349.0 1867.6,338.9 1867.7,302.8 1867.8,343.4 1867.9,320.6 1868.0,342.3 1868.2,311.7 1868.3,268.2 1868.4,337.5 1868.5,419.1 1868.6,317.2 1868.8,300.5 1868.9,371.3 1869.0,303.8 1869.1,384.7 1869.2,212.7 1869.4,321.8 1869.5,362.6 1869.6,301.8 1869.7,211.4 1869.8,313.0 1870.0,272.6 1870.1,320.3 1870.2,370.5 1870.3,341.1 1870.4,367.5 1870.6,314.1 1870.7,303.1 1870.8,356.3 1870.9,297.2 1871.0,362.6 1871.2,293.2 1871.3,343.3 1871.4,292.2 1871.5,298.3 1871.7,355.8 1871.8,205.1 1871.9,335.4 1872.0,308.9 1872.1,332.9 1872.3,261.8 1872.4,319.3 1872.5,297.6 1872.6,304.3 1872.7,341.4 1872.9,303.2 1873.0,342.3 1873.1,339.8 1873.2,325.4 1873.3,312.7 1873.5,313.7 1873.6,290.3 1873.7,353.1 1873.8,336.0 1873.9,286.3 1874.1,305.3 1874.2,347.8 1874.3,346.4 1874.4,209.9 1874.5,319.2 1874.7,275.4 1874.8,282.3 1874.9,302.5 1875.0,282.0 1875.2,272.2 1875.3,340.9 1875.4,307.5 1875.5,324.9 1875.6,299.3 1875.8,290.3 1875.9,360.7 1876.0,272.1 1876.1,318.6 1876.2,284.5 1876.4,271.4 1876.5,324.6 1876.6,287.3 1876.7,287.1 1876.8,346.6 1877.0,333.6 1877.1,366.5 1877.2,280.1 1877.3,342.8 1877.4,300.9 1877.6,323.8 1877.7,341.8 1877.8,330.1 1877.9,338.3 1878.0,341.1 1878.2,367.5 1878.3,356.6 1878.4,302.6 1878.5,238.7 1878.6,304.6 1878.8,357.2 1878.9,268.5 1879.0,317.5 1879.1,332.2 1879.3,298.6 1879.4,297.1 1879.5,338.2 1879.6,314.8 1879.7,316.2 1879.9,263.1 1880.0,331.6 1880.1,335.5 1880.2,309.0 1880.3,325.5 1880.5,286.2 1880.6,315.4 1880.7,316.7 1880.8,361.8 1880.9,353.6 1881.1,351.0 1881.2,286.3 1881.3,328.8 1881.4,343.5 1881.5,323.2 1881.7,280.4 1881.8,359.9 1881.9,280.4 1882.0,343.2 1882.1,337.3 1882.3,344.8 1882.4,307.8 1882.5,306.5 1882.6,283.8 1882.8,353.7 1882.9,345.3 1883.0,233.4 1883.1,353.0 1883.2,285.2 1883.4,321.3 1883.5,330.9 1883.6,322.7 1883.7,294.4 1883.8,309.0 1884.0,263.4 1884.1,319.6 1884.2,344.7 1884.3,306.6 1884.4,333.4 1884.6,264.7 1884.7,300.0 1884.8,329.5 1884.9,330.3 1885.0,319.7 1885.2,263.1 1885.3,296.9 1885.4,363.4 1885.5,300.3 1885.6,328.3 1885.8,340.5 1885.9,307.2 1886.0,317.4 1886.1,273.3 1886.2,301.7 1886.4,297.5 1886.5,329.5 1886.6,353.5 1886.7,362.0 1886.9,294.8 1887.0,359.6 1887.1,263.3 1887.2,354.0 1887.3,351.4 1887.5,314.8 1887.6,355.3 1887.7,273.9 1887.8,292.1 1887.9,318.8 1888.1,257.6 1888.2,289.4 1888.3,336.6 1888.4,327.0 1888.5,350.6 1888.7,360.9 1888.8,323.1 1888.9,374.5 1889.0,326.0 1889.1,301.3 1889.3,315.8 1889.4,350.8 1889.5,345.8 1889.6,286.7 1889.7,295.7 1889.9,301.0 1890.0,247.4 1890.1,326.3 1890.2,332.3 1890.3,319.2 1890.5,353.8 1890.6,314.2 1890.7,274.1 1890.8,299.2 1891.0,316.2 1891.1,273.9 1891.2,307.2 1891.3,334.3 1891.4,369.6 1891.6,356.1 1891.7,304.1 1891.8,300.9 1891.9,336.4 1892.0,316.3 1892.2,320.2 1892.3,364.6 1892.4,374.0 1892.5,390.1 1892.6,240.9 1892.8,298.2 1892.9,306.4 1893.0,310.5 1893.1,349.9 1893.2,347.6 1893.4,323.6 1893.5,239.1 1893.6,319.3 1893.7,289.3 1893.8,270.4 1894.0,361.5 1894.1,298.7 1894.2,352.9 1894.3,325.2 1894.5,331.2 1894.6,334.7 1894.7,325.9 1894.8,348.1 1894.9,237.2 1895.1,386.1 1895.2,316.3 1895.3,274.2 1895.4,353.8 1895.5,312.5 1895.7,338.5 1895.8,291.5 1895.9,282.4 1896.0,334.7 1896.1,345.7 1896.3,281.9 1896.4,337.2 1896.5,328.1 1896.6,291.9 1896.7,361.8 1896.9,268.4 1897.0,303.7 1897.1,369.6 1897.2,312.8 1897.3,373.9 1897.5,344.0 1897.6,366.3 1897.7,348.6 1897.8,328.6 1897.9,296.3 1898.1,302.0 1898.2,303.6 1898.3,268.0 1898.4,346.8 1898.6,337.1 1898.7,319.8 1898.8,301.7 1898.9,368.9 1899.0,342.3 1899.2,296.4 1899.3,291.5 1899.4,302.8 1899.5,337.6 1899.6,270.5 1899.8,297.9 1899.9,368.8 1900.0,339.5 1900.1,349.7 1900.2,340.8 1900.4,355.9 1900.5,288.3 1900.6,328.2 1900.7,272.3 1900.8,389.9 1901.0,315.2 1901.1,334.2 1901.2,335.4 1901.3,319.7 1901.4,286.8 1901.6,293.4 1901.7,320.5 1901.8,295.3 1901.9,301.7 1902.0,329.4 1902.2,305.3 1902.3,283.6 1902.4,301.0 1902.5,304.0 1902.7,325.0 1902.8,301.2 1902.9,337.8 1903.0,284.7 1903.1,349.1 1903.3,342.5 1903.4,283.1 1903.5,278.6 1903.6,312.4 1903.7,369.0 1903.9,268.8 1904.0,358.1 1904.1,329.2 1904.2,318.2 1904.3,446.2 1904.5,274.2 1904.6,331.6 1904.7,321.7 1904.8,351.0 1904.9,335.2 1905.1,254.1 1905.2,268.2 1905.3,327.7 1905.4,384.3 1905.5,341.6 1905.7,330.6 1905.8,335.1 1905.9,387.8 1906.0,387.4 1906.2,295.3 1906.3,296.5 1906.4,249.1 1906.5,357.7 1906.6,296.6 1906.8,304.1 1906.9,355.9 1907.0,277.5 1907.1,340.2 1907.2,273.3 1907.4,328.2 1907.5,359.9 1907.6,331.4 1907.7,338.8 1907.8,308.1 1908.0,366.5 1908.1,347.2 1908.2,317.4 1908.3,329.6 1908.4,358.5 1908.6,291.2 1908.7,377.3 1908.8,291.8 1908.9,286.5 1909.0,405.9 1909.2,345.1 1909.3,324.2 1909.4,392.5 1909.5,362.4 1909.6,310.8 1909.8,364.8 1909.9,318.7 1910.0,295.9 1910.1,273.5 1910.3,333.2 1910.4,327.3 1910.5,322.1 1910.6,247.5 1910.7,332.0 1910.9,367.6 1911.0,322.6 1911.1,312.1 1911.2,375.9 1911.3,302.0 1911.5,278.3 1911.6,365.0 1911.7,331.8 1911.8,357.0 1911.9,305.2 1912.1,365.8 1912.2,248.9 1912.3,322.9 1912.4,386.0 1912.5,333.9 1912.7,333.3 1912.8,223.3 1912.9,383.3 1913.0,288.8 1913.1,275.5 1913.3,313.3 1913.4,337.2 1913.5,339.1 1913.6,285.2 1913.8,378.0 1913.9,358.0 1914.0,380.6 1914.1,325.7 1914.2,247.2 1914.4,322.3 1914.5,285.2 1914.6,282.0 1914.7,288.1 1914.8,332.1 1915.0,324.3 1915.1,358.0 1915.2,397.0 1915.3,315.6 1915.4,319.3 1915.6,353.6 1915.7,345.7 1915.8,349.4 1915.9,320.2 1916.0,306.5 1916.2,334.7 1916.3,276.7 1916.4,378.5 1916.5,334.6 1916.6,340.0 1916.8,342.6 1916.9,339.8 1917.0,326.6 1917.1,298.5 1917.2,320.1 1917.4,367.3 1917.5,331.9 1917.6,295.2 1917.7,315.3 1917.9,311.3 1918.0,372.7 1918.1,394.9 1918.2,329.9 1918.3,427.3 1918.5,349.8 1918.6,350.2 1918.7,344.3 1918.8,372.2 1918.9,243.2 1919.1,343.9 1919.2,422.2 1919.3,345.3 1919.4,398.4 1919.5,308.7 1919.7,336.2 1919.8,377.1 1919.9,362.0 1920.0,317.1 1920.1,323.0 1920.3,348.2 1920.4,314.5 1920.5,303.2 1920.6,347.9 1920.7,383.3 1920.9,420.5 1921.0,268.9 1921.1,301.6 1921.2,379.8 1921.3,379.5 1921.5,370.0 1921.6,260.2 1921.7,361.2 1921.8,367.8 1922.0,348.1 1922.1,315.6 1922.2,363.9 1922.3,345.5 1922.4,360.9 1922.6,334.7 1922.7,379.9 1922.8,276.6 1922.9,368.0 1923.0,403.0 1923.2,338.8 1923.3,403.2 1923.4,266.0 1923.5,418.8 1923.6,361.8 1923.8,326.1 1923.9,313.4 1924.0,331.8 1924.1,381.4 1924.2,364.1 1924.4,276.6 1924.5,442.3 1924.6,417.2 1924.7,373.3 1924.8,375.9 1925.0,332.3 1925.1,348.4 1925.2,426.9 1925.3,344.9 1925.5,406.3 1925.6,351.8 1925.7,358.7 1925.8,275.4 1925.9,271.3 1926.1,342.4 1926.2,290.3 1926.3,301.5 1926.4,330.7 1926.5,370.3 1926.7,379.8 1926.8,346.8 1926.9,336.3 1927.0,314.8 1927.1,390.0 1927.3,396.7 1927.4,413.6 1927.5,381.6 1927.6,372.8 1927.7,345.7 1927.9,354.7 1928.0,374.4 1928.1,309.8 1928.2,277.1 1928.3,290.4 1928.5,392.9 1928.6,336.5 1928.7,349.9 1928.8,302.4 1928.9,358.3 1929.1,346.2 1929.2,398.4 1929.3,362.3 1929.4,370.8 1929.6,285.8 1929.7,278.0 1929.8,387.8 1929.9,296.4 1930.0,396.4 1930.2,312.8 1930.3,322.8 1930.4,367.7 1930.5,375.9 1930.6,376.6 1930.8,398.2 1930.9,407.4 1931.0,360.3 1931.1,376.8 1931.2,345.7 1931.4,303.5 1931.5,335.9 1931.6,333.8 1931.7,353.6 1931.8,346.4 1932.0,398.4 1932.1,334.0 1932.2,356.7 1932.3,302.2 1932.4,349.6 1932.6,378.0 1932.7,353.5 1932.8,341.1 1932.9,387.1 1933.0,417.2 1933.2,351.9 1933.3,403.0 1933.4,382.4 1933.5,282.9 1933.7,332.7 1933.8,424.5 1933.9,311.9 1934.0,336.6 1934.1,386.7 1934.3,329.7 1934.4,338.9 1934.5,297.6 1934.6,347.6 1934.7,335.8 1934.9,355.4 1935.0,380.1 1935.1,331.3 1935.2,289.3 1935.3,349.6 1935.5,401.7 1935.6,380.8 1935.7,365.2 1935.8,369.6 1935.9,357.6 1936.1,389.6 1936.2,398.6 1936.3,366.3 1936.4,308.6 1936.5,369.5 1936.7,356.0 1936.8,393.6 1936.9,400.8 1937.0,403.8 1937.2,326.5 1937.3,362.7 1937.4,352.7 1937.5,337.8 1937.6,362.1 1937.8,342.4 1937.9,328.2 1938.0,378.3 1938.1,366.2 1938.2,393.1 1938.4,399.3 1938.5,402.9 1938.6,367.3 1938.7,375.2 1938.8,429.1 1939.0,352.8 1939.1,367.4 1939.2,384.8 1939.3,367.9 1939.4,449.6 1939.6,388.2 1939.7,377.0 1939.8,404.2 1939.9,402.8 1940.0,418.9 1940.2,348.2 1940.3,370.2 1940.4,339.2 1940.5,313.5 1940.6,388.7 1940.8,326.8 1940.9,372.6 1941.0,395.8 1941.1,345.2 1941.3,382.4 1941.4,444.1 1941.5,379.7 1941.6,363.1 1941.7,367.1 1941.9,409.0 1942.0,393.2 1942.1,396.8 1942.2,329.4 1942.3,349.1 1942.5,418.9 1942.6,335.7 1942.7,421.9 1942.8,411.9 1942.9,320.4 1943.1,439.9 1943.2,353.5 1943.3,440.1 1943.4,417.5 1943.5,344.5 1943.7,351.2 1943.8,362.4 1943.9,327.3 1944.0,365.6 1944.1,278.9 1944.3,423.7 1944.4,365.8 1944.5,403.4 1944.6,340.2 1944.8,413.9 1944.9,402.2 1945.0,404.4 1945.1,402.1 1945.2,350.3 1945.4,287.9 1945.5,342.8 1945.6,372.5 1945.7,348.9 1945.8,403.3 1946.0,347.7 1946.1,285.2 1946.2,411.5 1946.3,404.6 1946.4,445.9 1946.6,410.6 1946.7,409.4 1946.8,323.2 1946.9,380.8 1947.0,338.1 1947.2,337.0 1947.3,373.2 1947.4,367.6 1947.5,395.4 1947.6,444.5 1947.8,353.6 1947.9,423.8 1948.0,359.7 1948.1,393.0 1948.2,458.2 1948.4,409.1 1948.5,410.0 1948.6,411.7 1948.7,398.4 1948.9,446.7 1949.0,394.5 1949.1,426.6 1949.2,344.8 1949.3,310.9 1949.5,370.0 1949.6,411.9 1949.7,436.4 1949.8,366.1 1949.9,366.6 1950.1,379.3 1950.2,360.8 1950.3,374.1 1950.4,431.2 1950.5,468.1 1950.7,362.0 1950.8,439.9 1950.9,364.4 1951.0,372.7 1951.1,367.4 1951.3,380.7 1951.4,386.4 1951.5,358.9 1951.6,315.2 1951.7,346.5 1951.9,397.0 1952.0,370.0 1952.1,391.3 1952.2,358.8 1952.3,399.9 1952.5,380.4 1952.6,397.4 1952.7,406.2 1952.8,392.9 1953.0,321.1 1953.1,427.3 1953.2,362.0 1953.3,437.7 1953.4,391.9 1953.6,458.9 1953.7,368.9 1953.8,398.2 1953.9,432.1 1954.0,336.2 1954.2,347.9 1954.3,403.6 1954.4,437.4 1954.5,397.9 1954.6,390.3 1954.8,463.7 1954.9,337.4 1955.0,491.9 1955.1,432.1 1955.2,398.0 1955.4,380.8 1955.5,352.2 1955.6,461.5 1955.7,340.4 1955.8,342.9 1956.0,379.7 1956.1,382.4 1956.2,353.0 1956.3,378.8 1956.5,396.8 1956.6,391.8 1956.7,442.9 1956.8,469.4 1956.9,448.4 1957.1,376.0 1957.2,374.7 1957.3,417.7 1957.4,410.5 1957.5,364.7 1957.7,454.0 1957.8,336.0 1957.9,344.6 1958.0,330.8 1958.1,405.7 1958.3,363.4 1958.4,377.9 1958.5,491.8 1958.6,334.0 1958.7,430.4 1958.9,401.6 1959.0,364.5 1959.1,413.0 1959.2,416.2 1959.3,442.2 1959.5,336.9 1959.6,346.8 1959.7,389.5 1959.8,422.6 1959.9,436.8 1960.1,378.1 1960.2,334.1 1960.3,481.1 1960.4,400.6 1960.6,380.3 1960.7,353.2 1960.8,445.8 1960.9,363.4 1961.0,416.2 1961.2,441.3 1961.3,363.6 1961.4,355.2 1961.5,336.5 1961.6,426.4 1961.8,349.4 1961.9,347.2 1962.0,382.4 1962.1,409.7 1962.2,343.8 1962.4,457.6 1962.5,366.3 1962.6,449.5 1962.7,409.6 1962.8,473.4 1963.0,442.6 1963.1,414.5 1963.2,449.6 1963.3,385.0 1963.4,400.3 1963.6,431.1 1963.7,320.5 1963.8,466.3 1963.9,479.9 1964.0,444.5 1964.2,473.0 1964.3,395.8 1964.4,382.4 1964.5,393.1 1964.7,440.3 1964.8,473.9 1964.9,366.6 1965.0,340.3 1965.1,477.5 1965.3,478.7 1965.4,471.1 1965.5,411.6 1965.6,381.0 1965.7,430.0 1965.9,385.1 1966.0,410.9 1966.1,425.8 1966.2,349.4 1966.3,431.7 1966.5,401.6 1966.6,420.1 1966.7,361.0 1966.8,481.6 1966.9,365.4 1967.1,446.0 1967.2,474.4 1967.3,440.0 1967.4,440.7 1967.5,409.7 1967.7,458.9 1967.8,432.2 1967.9,426.2 1968.0,349.8 1968.2,389.2 1968.3,439.1 1968.4,454.6 1968.5,421.7 1968.6,376.5 1968.8,373.0 1968.9,371.3 1969.0,337.3 1969.1,337.3 1969.2,336.2 1969.4,316.1 1969.5,359.7 1969.6,396.5 1969.7,388.5 1969.8,400.5 1970.0,432.5 1970.1,412.6 1970.2,303.4 1970.3,396.3 1970.4,411.9 1970.6,402.5 1970.7,408.3 1970.8,438.8 1970.9,426.3 1971.0,409.7 1971.2,489.3 1971.3,376.5 1971.4,364.3 1971.5,437.0 1971.6,444.1 1971.8,417.5 1971.9,430.6 1972.0,388.6 1972.1,433.5 1972.3,409.7 1972.4,465.5 1972.5,438.1 1972.6,342.2 1972.7,414.0 1972.9,356.5 1973.0,422.6 1973.1,498.6 1973.2,339.7 1973.3,375.2 1973.5,463.4 1973.6,391.5 1973.7,394.7 1973.8,420.9 1973.9,391.6 1974.1,412.4 1974.2,416.5 1974.3,370.9 1974.4,405.5 1974.5,453.8 1974.7,478.1 1974.8,416.8 1974.9,361.4 1975.0,429.8 1975.1,301.4 1975.3,421.5 1975.4,437.8 1975.5,431.1 1975.6,367.9 1975.8,399.8 1975.9,515.1 1976.0,376.4 1976.1,336.1 1976.2,389.5 1976.4,359.3 1976.5,377.1 1976.6,484.8 1976.7,417.9 1976.8,399.3 1977.0,464.2 1977.1,456.5 1977.2,416.0 1977.3,356.1 1977.4,400.8 1977.6,415.6 1977.7,502.8 1977.8,407.5 1977.9,434.5 1978.0,428.8 1978.2,406.5 1978.3,365.5 1978.4,391.1 1978.5,406.7 1978.6,386.8 1978.8,401.6 1978.9,424.9 1979.0,467.0 1979.1,381.5 1979.2,365.8 1979.4,425.9 1979.5,360.2 1979.6,432.3 1979.7,418.8 1979.9,472.5 1980.0,413.8 1980.1,419.4 1980.2,435.1 1980.3,445.0 1980.5,385.7 1980.6,362.7 1980.7,387.6 1980.8,418.4 1980.9,465.8 1981.1,437.7 1981.2,351.0 1981.3,355.9 1981.4,447.9 1981.5,540.4 1981.7,384.7 1981.8,411.6 1981.9,399.0 1982.0,431.8 1982.1,382.8 1982.3,378.8 1982.4,418.5 1982.5,403.3 1982.6,396.4 1982.7,362.3 1982.9,456.0 1983.0,385.1 1983.1,331.6 1983.2,423.0 1983.3,367.6 1983.5,375.1 1983.6,459.7 1983.7,429.7 1983.8,378.8 1984.0,387.4 1984.1,433.6 1984.2,415.2 1984.3,409.6 1984.4,392.0 1984.6,360.9 1984.7,431.0 1984.8,399.0 1984.9,417.6 1985.0,409.9 1985.2,433.4 1985.3,404.5 1985.4,384.1 1985.5,470.4 1985.6,409.1 1985.8,396.4 1985.9,339.8 1986.0,395.8 1986.1,460.7 1986.2,464.8 1986.4,413.8 1986.5,379.1 1986.6,415.3 1986.7,400.5 1986.8,431.6 1987.0,363.9 1987.1,421.0 1987.2,350.3 1987.3,427.2 1987.5,444.3 1987.6,371.6 1987.7,483.0 1987.8,426.7 1987.9,483.5 1988.1,486.2 1988.2,387.5 1988.3,378.9 1988.4,351.6 1988.5,309.8 1988.7,470.0 1988.8,362.2 1988.9,445.7 1989.0,411.4 1989.1,365.1 1989.3,415.0 1989.4,438.8 1989.5,418.8 1989.6,340.9 1989.7,427.5 1989.9,431.5 1990.0,423.3 1990.1,440.2 1990.2,459.0 1990.3,470.3 1990.5,411.9 1990.6,401.0 1990.7,448.6 1990.8,361.5 1990.9,459.8 1991.1,457.6 1991.2,439.4 1991.3,423.8 1991.4,363.4 1991.6,425.4 1991.7,334.1 1991.8,397.1 1991.9,373.0 1992.0,397.9 1992.2,374.7 1992.3,383.8 1992.4,412.3 1992.5,451.8 1992.6,420.6 1992.8,415.7 1992.9,439.8 1993.0,419.5 1993.1,397.6 1993.2,435.5 1993.4,465.9 1993.5,461.5 1993.6,497.2 1993.7,397.3 1993.8,378.6 1994.0,441.3 1994.1,423.9 1994.2,416.4 1994.3,404.1 1994.4,367.1 1994.6,392.5 1994.7,409.5 1994.8,465.3 1994.9,427.5 1995.1,376.3 1995.2,430.6 1995.3,379.7 1995.4,418.7 1995.5,404.0 1995.7,357.0 1995.8,463.3 1995.9,396.2 1996.0,426.3 1996.1,436.2 1996.3,460.9 1996.4,479.9 1996.5,411.9 1996.6,357.8 1996.7,417.2 1996.9,407.5 1997.0,355.9 1997.1,448.5 1997.2,433.6 1997.3,466.1 1997.5,487.8 1997.6,453.4 1997.7,447.2 1997.8,469.2 1997.9,425.8 1998.1,447.7 1998.2,415.0 1998.3,352.7 1998.4,437.6 1998.5,397.1 1998.7,385.7 1998.8,417.8 1998.9,443.0 1999.0,388.2 1999.2,416.8 1999.3,362.1 1999.4,417.4 1999.5,435.2 1999.6,459.6 1999.8,525.1 1999.9,431.8 2000.0,425.5 2000.1,414.7 2000.2,419.8 2000.4,405.9 2000.5,411.2 2000.6,410.5 2000.7,484.5 2000.8,445.7 2001.0,481.8 2001.1,482.8 2001.2,412.3 2001.3,484.1 2001.4,439.6 2001.6,508.1 2001.7,384.3 2001.8,442.8 2001.9,417.2 2002.0,434.5 2002.2,431.3 2002.3,417.9 2002.4,504.5 2002.5,481.6 2002.6,508.5 2002.8,384.9 2002.9,412.4 2003.0,386.0 2003.1,461.2 2003.3,351.7 2003.4,436.0 2003.5,390.9 2003.6,434.9 2003.7,424.2 2003.9,441.4 2004.0,387.4 2004.1,452.7 2004.2,455.2 2004.3,534.4 2004.5,450.0 2004.6,456.1 2004.7,435.6 2004.8,499.2 2004.9,416.6 2005.1,456.5 2005.2,415.9 2005.3,391.7 2005.4,467.7 2005.5,421.4 2005.7,488.4 2005.8,355.9 2005.9,462.5 2006.0,413.1 2006.1,409.0 2006.3,547.5 2006.4,380.8 2006.5,413.8 2006.6,518.4 2006.8,443.6 2006.9,451.7 2007.0,465.0 2007.1,403.1 2007.2,411.6 2007.4,487.7 2007.5,441.1 2007.6,475.3 2007.7,431.7 2007.8,491.1 2008.0,414.6 2008.1,373.7 2008.2,426.9 2008.3,477.6 2008.4,366.4 2008.6,433.7 2008.7,400.1 2008.8,449.3 2008.9,445.6 2009.0,433.5 2009.2,420.7 2009.3,479.5 2009.4,430.7 2009.5,423.1 2009.6,491.2 2009.8,439.5 2009.9,436.7 2010.0,371.5 2010.1,476.9 2010.2,409.2 2010.4,428.2 2010.5,464.1 2010.6,505.3 2010.7,450.9 2010.9,453.8 2011.0,511.4 2011.1,455.0 2011.2,394.8 2011.3,460.4 2011.5,452.8 2011.6,518.0 2011.7,476.3 2011.8,443.2 2011.9,447.0 2012.1,463.6 2012.2,498.3 2012.3,394.7 2012.4,516.7 2012.5,475.7 2012.7,421.7 2012.8,438.4 2012.9,436.0 2013.0,428.5 2013.1,457.9 2013.3,474.5 2013.4,503.6 2013.5,474.6 2013.6,445.4 2013.7,509.0 2013.9,424.8 2014.0,412.7 2014.1,553.1 2014.2,495.6 2014.3,414.6 2014.5,444.8 2014.6,461.7 2014.7,443.0 2014.8,443.3 2015.0,502.0 2015.1,447.1 2015.2,480.3 2015.3,447.9 2015.4,432.2 2015.6,503.0 2015.7,485.6 2015.8,436.9 2015.9,505.4 2016.0,451.9 2016.2,541.7 2016.3,397.4 2016.4,408.0 2016.5,519.5 2016.6,455.7 2016.8,450.2 2016.9,449.1 2017.0,458.2 2017.1,503.2 2017.2,442.7 2017.4,424.9 2017.5,489.8 2017.6,474.1 2017.7,465.0 2017.8,485.4 2018.0,513.5 2018.1,476.2 2018.2,471.1 2018.3,407.2 2018.5,462.4 2018.6,432.4 2018.7,432.9 2018.8,479.4 2018.9,491.0 2019.1,436.5 2019.2,444.9 2019.3,465.8 2019.4,475.8 2019.5,486.4 2019.7,473.9 2019.8,482.6 2019.9,437.7 2020.0,491.9 2020.1,456.1 2020.3,472.1 2020.4,470.9 2020.5,485.4 2020.6,446.9 2020.7,445.1 2020.9,433.2 2021.0,477.7 2021.1,501.8 2021.2,476.2 2021.3,490.8 2021.5,466.1 2021.6,455.7 2021.7,468.5 2021.8,492.3 2021.9,465.4 2022.1,474.8 2022.2,469.2 2022.3,451.7 2022.4,496.6 2022.6,486.2 2022.7,509.1 2022.8,491.7 2022.9,443.9 2023.0,453.2 2023.2,431.1 2023.3,456.4 2023.4,433.2 2023.5,473.5 2023.6,555.6 2023.8,531.4 2023.9,461.2 2024.0,477.0 2024.1,473.3 2024.2,469.3 2024.4,462.6 2024.5,450.3 2024.6,441.4 2024.7,448.4 2024.8,448.2 2025.0,459.1 2025.1,445.5 2025.2,460.0 2025.3,462.0 2025.4,465.3 2025.6,428.5 2025.7,477.0 2025.8,456.7 2025.9,470.1 2026.1,448.2 2026.2,501.4 2026.3,464.8 2026.4,431.2 2026.5,446.1 2026.7,427.3 2026.8,546.3 2026.9,418.4 2027.0,488.3 2027.1,467.3 2027.3,523.7 2027.4,519.2 2027.5,508.4 2027.6,447.9 2027.7,526.2 2027.9,480.1 2028.0,442.0 2028.1,490.5 2028.2,449.1 2028.3,510.4 2028.5,501.9 2028.6,426.1 2028.7,470.6 2028.8,470.8 2028.9,511.4 2029.1,485.2 2029.2,462.0 2029.3,458.6 2029.4,495.6 2029.5,493.0 2029.7,471.5 2029.8,511.3 2029.9,451.4 2030.0,529.4 2030.2,537.6 2030.3,465.3 2030.4,503.2 2030.5,450.3 2030.6,438.5 2030.8,481.3 2030.9,485.4 2031.0,464.0 2031.1,427.4 2031.2,471.3 2031.4,472.0 2031.5,535.6 2031.6,497.3 2031.7,449.5 2031.8,419.3 2032.0,439.2 2032.1,443.5 2032.2,460.8 2032.3,482.9 2032.4,477.9 2032.6,452.8 2032.7,456.3 2032.8,507.1 2032.9,508.3 2033.0,421.3 2033.2,457.8 2033.3,451.9 2033.4,479.2 2033.5,477.2 2033.6,458.2 2033.8,441.5 2033.9,456.3 2034.0,440.7 2034.1,477.5 2034.3,463.1 2034.4,484.1 2034.5,436.1 2034.6,495.7 2034.7,492.1 2034.9,486.4 2035.0,488.9 2035.1,501.1 2035.2,512.8 2035.3,487.9 2035.5,518.0 2035.6,515.3 2035.7,475.2 2035.8,486.0 2035.9,502.2 2036.1,465.9 2036.2,489.1 2036.3,486.9 2036.4,437.4 2036.5,498.4 2036.7,547.0 2036.8,532.5 2036.9,492.0 2037.0,472.5 2037.1,509.5 2037.3,474.1 2037.4,516.0 2037.5,466.0 2037.6,498.4 2037.8,476.0 2037.9,441.3 2038.0,518.7 2038.1,511.3 2038.2,464.4 2038.4,504.3 2038.5,489.4 2038.6,503.1 2038.7,476.8 2038.8,491.6 2039.0,525.5 2039.1,510.2 2039.2,483.3 2039.3,545.8 2039.4,486.6 2039.6,522.2 2039.7,439.9 2039.8,476.0 2039.9,508.4 2040.0,485.0 2040.2,500.8 2040.3,501.2 2040.4,483.1 2040.5,434.2 2040.6,459.7 2040.8,478.6 2040.9,492.7 2041.0,473.6 2041.1,478.0 2041.2,486.1 2041.4,494.0 2041.5,538.8 2041.6,501.3 2041.7,487.2 2041.9,486.7 2042.0,525.9 2042.1,488.9 2042.2,475.3 2042.3,520.5 2042.5,486.8 2042.6,452.4 2042.7,481.6 2042.8,452.8 2042.9,498.9 2043.1,506.0 2043.2,468.5 2043.3,479.0 2043.4,468.3 2043.5,511.1 2043.7,515.3 2043.8,548.1 2043.9,516.7 2044.0,475.1 2044.1,523.9 2044.3,545.3 2044.4,457.0 2044.5,534.6 2044.6,454.0 2044.7,486.8 2044.9,475.2 2045.0,556.9 2045.1,454.4 2045.2,497.4 2045.3,537.2 2045.5,527.8 2045.6,494.0 2045.7,488.5 2045.8,511.8 2046.0,481.6 2046.1,535.0 2046.2,477.6 2046.3,487.4 2046.4,543.3 2046.6,532.1 2046.7,502.1 2046.8,468.5 2046.9,452.7 2047.0,524.0 2047.2,448.5 2047.3,552.5 2047.4,570.8 2047.5,483.6 2047.6,492.1 2047.8,445.1 2047.9,555.3 2048.0,478.9 2048.1,548.2 2048.2,435.2 2048.4,484.1 2048.5,506.1 2048.6,517.2 2048.7,541.4 2048.8,492.6 2049.0,527.9 2049.1,438.7 2049.2,480.2 2049.3,478.1 2049.5,518.7 2049.6,470.8 2049.7,531.4 2049.8,549.2 2049.9,477.1 2050.1,544.4 2050.2,502.8 2050.3,514.7 2050.4,495.6 2050.5,445.4 2050.7,486.6 2050.8,479.6 2050.9,469.7 2051.0,483.4 2051.1,519.5 2051.3,526.1 2051.4,475.3 2051.5,489.4 2051.6,549.7 2051.7,551.4 2051.9,522.0 2052.0,501.5 2052.1,534.6 2052.2,526.5 2052.3,516.8 2052.5,577.0 2052.6,501.4 2052.7,559.6 2052.8,510.3 2052.9,512.8 2053.1,506.2 2053.2,477.2 2053.3,478.1 2053.4,506.5 2053.6,511.2 2053.7,481.1 2053.8,478.7 2053.9,521.9 2054.0,483.0 2054.2,521.4 2054.3,507.8 2054.4,482.3 2054.5,522.6 2054.6,479.3 2054.8,517.7 2054.9,571.5 2055.0,547.4 2055.1,536.4 2055.2,490.2 2055.4,557.7 2055.5,508.4 2055.6,489.7 2055.7,468.3 2055.8,468.0 2056.0,501.9 2056.1,503.0 2056.2,487.0 2056.3,504.9 2056.4,484.4 2056.6,446.2 2056.7,497.4 2056.8,479.1 2056.9,511.7 2057.1,434.7 2057.2,523.2 2057.3,512.8 2057.4,524.5 2057.5,497.5 2057.7,593.0 2057.8,543.1 2057.9,549.5 2058.0,544.1 2058.1,486.7 2058.3,493.8 2058.4,487.3 2058.5,445.2 2058.6,503.3 2058.7,453.3 2058.9,510.6 2059.0,522.4 2059.1,524.3 2059.2,556.0 2059.3,528.9 2059.5,494.7 2059.6,475.3 2059.7,469.8 2059.8,534.1 2059.9,505.0 2060.1,498.7 2060.2,510.0 2060.3,488.8 2060.4,543.1 2060.5,568.1 2060.7,525.4 2060.8,570.5 2060.9,503.7 2061.0,505.0 2061.2,533.5 2061.3,507.2 2061.4,472.8 2061.5,530.6 2061.6,515.3 2061.8,489.9 2061.9,492.3 2062.0,459.8 2062.1,477.2 2062.2,535.1 2062.4,519.5 2062.5,556.9 2062.6,533.1 2062.7,570.5 2062.8,510.5 2063.0,481.6 2063.1,478.5 2063.2,508.2 2063.3,522.5 2063.4,489.6 2063.6,551.2 2063.7,527.5 2063.8,443.4 2063.9,519.4 2064.0,479.8 2064.2,614.2 2064.3,496.8 2064.4,562.2 2064.5,514.1 2064.6,485.8 2064.8,565.8 2064.9,446.0 2065.0,437.2 2065.1,614.4 2065.3,490.5 2065.4,483.5 2065.5,622.6 2065.6,511.3 2065.7,485.5 2065.9,513.4 2066.0,525.8 2066.1,567.2 2066.2,444.4 2066.3,476.0 2066.5,555.3 2066.6,489.2 2066.7,551.5 2066.8,449.6 2066.9,555.0 2067.1,510.4 2067.2,503.9 2067.3,516.2 2067.4,540.4 2067.5,425.2 2067.7,517.4 2067.8,533.8 2067.9,464.3 2068.0,500.5 2068.1,549.4 2068.3,524.1 2068.4,557.9 2068.5,601.7 2068.6,546.4 2068.8,525.1 2068.9,582.7 2069.0,507.4 2069.1,564.7 2069.2,547.5 2069.4,540.6 2069.5,547.3 2069.6,586.3 2069.7,494.8 2069.8,486.7 2070.0,507.4 2070.1,466.2 2070.2,520.1 2070.3,602.2 2070.4,411.3 2070.6,535.2 2070.7,606.3 2070.8,573.2 2070.9,557.0 2071.0,562.8 2071.2,553.1 2071.3,576.9 2071.4,549.4 2071.5,508.4 2071.6,568.0 2071.8,526.4 2071.9,440.2 2072.0,605.0 2072.1,518.8 2072.2,588.8 2072.4,521.6 2072.5,569.9 2072.6,588.7 2072.7,546.8 2072.9,505.5 2073.0,556.1 2073.1,545.1 2073.2,557.4 2073.3,485.1 2073.5,484.3 2073.6,561.2 2073.7,529.5 2073.8,452.5 2073.9,572.7 2074.1,515.7 2074.2,478.6 2074.3,560.2 2074.4,547.7 2074.5,551.3 2074.7,506.9 2074.8,570.4 2074.9,526.1 2075.0,573.1 2075.1,525.1 2075.3,538.8 2075.4,523.2 2075.5,508.5 2075.6,499.0 2075.7,525.8 2075.9,599.9 2076.0,552.4 2076.1,490.1 2076.2,579.3 2076.3,550.9 2076.5,599.2 2076.6,550.8 2076.7,545.3 2076.8,547.4 2077.0,527.7 2077.1,529.4 2077.2,474.4 2077.3,570.9 2077.4,557.0 2077.6,528.2 2077.7,534.2 2077.8,521.4 2077.9,642.1 2078.0,553.7 2078.2,470.3 2078.3,452.5 2078.4,470.8 2078.5,528.2 2078.6,575.3 2078.8,526.0 2078.9,564.9 2079.0,497.7 2079.1,500.0 2079.2,538.7 2079.4,500.5 2079.5,555.2 2079.6,541.1 2079.7,521.2 2079.8,500.9 2080.0,519.5 2080.1,568.3 2080.2,487.4 2080.3,586.6 2080.5,535.8 2080.6,568.6 2080.7,555.8 2080.8,512.4 2080.9,568.8 2081.1,518.4 2081.2,516.7 2081.3,490.6 2081.4,509.0 2081.5,486.4 2081.7,487.3 2081.8,562.5 2081.9,603.5 2082.0,567.0 2082.1,505.4 2082.3,544.4 2082.4,618.0 2082.5,582.2 2082.6,516.3 2082.7,526.1 2082.9,562.5 2083.0,580.6 2083.1,556.0 2083.2,495.0 2083.3,552.7 2083.5,523.1 2083.6,585.8 2083.7,537.0 2083.8,448.2 2083.9,455.7 2084.1,484.9 2084.2,509.1 2084.3,531.0 2084.4,613.7 2084.6,511.9 2084.7,554.0 2084.8,612.6 2084.9,478.1 2085.0,598.6 2085.2,577.4 2085.3,486.3 2085.4,517.8 2085.5,518.2 2085.6,520.4 2085.8,589.3 2085.9,444.9 2086.0,566.0 2086.1,524.6 2086.2,576.7 2086.4,495.7 2086.5,575.8 2086.6,561.7 2086.7,581.6 2086.8,545.6 2087.0,570.0 2087.1,519.9 2087.2,512.1 2087.3,525.8 2087.4,457.5 2087.6,499.9 2087.7,563.8 2087.8,501.6 2087.9,538.5 2088.1,535.5 2088.2,581.5 2088.3,520.0 2088.4,590.0 2088.5,483.0 2088.7,618.9 2088.8,513.9 2088.9,543.1 2089.0,499.1 2089.1,521.0 2089.3,540.6 2089.4,500.0 2089.5,518.7 2089.6,550.3 2089.7,505.4 2089.9,524.2 2090.0,532.3 2090.1,529.6 2090.2,502.8 2090.3,525.0 2090.5,514.5 2090.6,562.1 2090.7,511.4 2090.8,530.4 2090.9,571.5 2091.1,563.1 2091.2,528.1 2091.3,533.1 2091.4,473.1 2091.5,473.8 2091.7,573.5 2091.8,554.6 2091.9,493.5 2092.0,613.1 2092.2,478.8 2092.3,548.3 2092.4,544.5 2092.5,579.1 2092.6,484.7 2092.8,579.1 2092.9,533.1 2093.0,607.5 2093.1,598.1 2093.2,471.6 2093.4,601.9 2093.5,601.6 2093.6,522.2 2093.7,513.3 2093.8,543.7 2094.0,518.1 2094.1,538.0 2094.2,505.9 2094.3,539.1 2094.4,559.1 2094.6,559.3 2094.7,500.3 2094.8,518.9 2094.9,535.8 2095.0,561.7 2095.2,549.5 2095.3,492.9 2095.4,506.0 2095.5,484.6 2095.6,550.1 2095.8,529.3 2095.9,486.4 2096.0,542.1 2096.1,493.4 2096.3,537.0 2096.4,552.5 2096.5,523.0 2096.6,577.1 2096.7,551.3 2096.9,567.5 2097.0,571.2 2097.1,493.0 2097.2,494.9 2097.3,542.4 2097.5,519.2 2097.6,514.1 2097.7,547.2 2097.8,587.5 2097.9,542.0 2098.1,512.7 2098.2,513.2 2098.3,611.7 2098.4,523.1 2098.5,580.2 2098.7,532.8 2098.8,552.3 2098.9,454.9 2099.0,526.7 2099.1,577.5 2099.3,629.7 2099.4,510.7 2099.5,480.2 2099.6,562.2 2099.8,598.3 2099.9,554.9 2100.0,519.5 2100.1,504.0 2100.2,524.8 2100.4,427.0 2100.5,630.5 2100.6,515.7 2100.7,510.9 2100.8,582.5 2101.0,475.2 2101.1,600.6 2101.2,552.2 2101.3,640.0 2101.4,468.5 2101.6,521.6 2101.7,468.1 2101.8,563.1 2101.9,574.1 2102.0,510.2 2102.2,580.1 2102.3,544.3 2102.4,511.2 2102.5,486.6 2102.6,567.1 2102.8,516.8 2102.9,599.0 2103.0,580.5 2103.1,566.4 2103.2,480.1 2103.4,505.5 2103.5,497.9 2103.6,505.2 2103.7,516.2 2103.9,601.5 2104.0,595.9 2104.1,526.7 2104.2,603.5 2104.3,568.2 2104.5,543.0 2104.6,496.5 2104.7,478.5 2104.8,491.8 2104.9,655.0 2105.1,501.8 2105.2,582.3 2105.3,558.7 2105.4,520.2 2105.5,531.4 2105.7,508.5 2105.8,615.7 2105.9,566.5 2106.0,517.4 2106.1,525.1 2106.3,526.5 2106.4,476.0 2106.5,573.4 2106.6,536.4 2106.7,576.0 2106.9,572.8 2107.0,497.1 2107.1,527.4 2107.2,478.8 2107.3,521.5 2107.5,609.5 2107.6,560.7 2107.7,552.8 2107.8,487.3 2108.0,584.1 2108.1,490.1 2108.2,532.4 2108.3,595.5 2108.4,556.3 2108.6,536.5 2108.7,513.2 2108.8,540.7 2108.9,532.8 2109.0,607.5 2109.2,555.5 2109.3,549.8 2109.4,508.5 2109.5,536.2 2109.6,579.6 2109.8,504.0 2109.9,581.8 2110.0,531.8 2110.1,474.0 2110.2,582.7 2110.4,531.3 2110.5,563.7 2110.6,514.0 2110.7,527.1 2110.8,529.9 2111.0,500.3 2111.1,544.0 2111.2,578.1 2111.3,576.9 2111.5,558.0 2111.6,534.3 2111.7,485.0 2111.8,516.6 2111.9,552.2 2112.1,565.2 2112.2,573.0 2112.3,489.4 2112.4,514.8 2112.5,569.8 2112.7,529.8 2112.8,517.2 2112.9,584.9 2113.0,523.6 2113.1,520.0 2113.3,502.8 2113.4,545.4 2113.5,573.4 2113.6,532.4 2113.7,557.3 2113.9,488.5 2114.0,565.7 2114.1,521.8 2114.2,497.2 2114.3,503.0 2114.5,547.6 2114.6,482.2 2114.7,530.7 2114.8,565.8 2114.9,553.0 2115.1,583.3 2115.2,530.9 2115.3,527.3 2115.4,524.2 2115.6,552.0 2115.7,538.7 2115.8,601.6 2115.9,559.9 2116.0,498.4 2116.2,593.7 2116.3,559.6 2116.4,541.0 2116.5,548.6 2116.6,536.5 2116.8,530.0 2116.9,558.5 2117.0,548.4 2117.1,554.4 2117.2,561.3 2117.4,523.7 2117.5,514.7 2117.6,507.7 2117.7,538.1 2117.8,575.5 2118.0,572.3 2118.1,537.1 2118.2,437.1 2118.3,555.2 2118.4,586.4 2118.6,513.3 2118.7,576.1 2118.8,533.1 2118.9,585.2 2119.1,545.6 2119.2,500.4 2119.3,661.4 2119.4,538.4 2119.5,547.0 2119.7,546.3 2119.8,600.7 2119.9,556.4 2120.0,479.4 2120.1,553.7 2120.3,547.3 2120.4,519.8 2120.5,518.5 2120.6,539.6 2120.7,514.1 2120.9,545.1 2121.0,465.1 2121.1,553.8 2121.2,604.4 2121.3,598.4 2121.5,565.1 2121.6,584.5 2121.7,593.7 2121.8,525.0 2121.9,520.9 2122.1,525.5 2122.2,603.1 2122.3,659.3 2122.4,492.3 2122.5,506.5 2122.7,572.5 2122.8,495.2 2122.9,566.6 2123.0,551.3 2123.2,602.9 2123.3,455.1 2123.4,531.4 2123.5,543.2 2123.6,558.3 2123.8,532.8 2123.9,595.3 2124.0,575.8 2124.1,535.4 2124.2,574.5 2124.4,634.6 2124.5,435.7 2124.6,606.1 2124.7,563.9 2124.8,566.6 2125.0,530.1 2125.1,532.2 2125.2,487.9 2125.3,550.4 2125.4,526.5 2125.6,534.3 2125.7,499.4 2125.8,519.4 2125.9,517.1 2126.0,545.0 2126.2,525.9 2126.3,547.7 2126.4,608.8 2126.5,519.9 2126.6,517.0 2126.8,554.5 2126.9,534.7 2127.0,553.3 2127.1,554.6 2127.3,549.1 2127.4,528.7 2127.5,493.9 2127.6,555.8 2127.7,488.6 2127.9,564.5 2128.0,562.9 2128.1,541.9 2128.2,593.7 2128.3,541.0 2128.5,517.4 2128.6,581.2 2128.7,530.2 2128.8,657.0 2128.9,531.3 2129.1,537.7 2129.2,517.1 2129.3,539.1 2129.4,565.1 2129.5,549.2 2129.7,559.1 2129.8,572.7 2129.9,663.0 2130.0,576.7 2130.1,532.0 2130.3,535.7 2130.4,613.6 2130.5,583.8 2130.6,566.0 2130.8,569.2 2130.9,545.3 2131.0,551.4 2131.1,503.0 2131.2,552.0 2131.4,498.7 2131.5,546.4 2131.6,577.8 2131.7,573.4 2131.8,529.0 2132.0,642.7 2132.1,555.7 2132.2,573.2 2132.3,548.8 2132.4,576.0 2132.6,493.5 2132.7,534.0 2132.8,514.6 2132.9,545.6 2133.0,594.3 2133.2,632.5 2133.3,590.8 2133.4,540.4 2133.5,560.9 2133.6,568.8 2133.8,566.5 2133.9,515.9 2134.0,566.9 2134.1,502.2 2134.2,536.7 2134.4,582.6 2134.5,545.7 2134.6,581.5 2134.7,571.0 2134.9,563.8 2135.0,606.9 2135.1,543.5 2135.2,606.0 2135.3,552.6 2135.5,536.4 2135.6,648.9 2135.7,493.1 2135.8,496.3 2135.9,558.5 2136.1,660.7 2136.2,544.1 2136.3,588.5 2136.4,530.1 2136.5,487.6 2136.7,538.1 2136.8,567.5 2136.9,539.1 2137.0,616.3 2137.1,588.8 2137.3,579.2 2137.4,624.7 2137.5,577.3 2137.6,554.3 2137.7,579.4 2137.9,557.5 2138.0,504.8 2138.1,542.4 2138.2,570.6 2138.3,622.3 2138.5,598.4 2138.6,572.6 2138.7,550.5 2138.8,569.0 2139.0,520.4 2139.1,586.6 2139.2,574.8 2139.3,547.9 2139.4,609.6 2139.6,520.9 2139.7,623.4 2139.8,459.3 2139.9,506.6 2140.0,569.1 2140.2,669.7 2140.3,539.2 2140.4,540.2 2140.5,572.2 2140.6,582.4 2140.8,580.4 2140.9,496.9 2141.0,573.0 2141.1,579.8 2141.2,555.9 2141.4,598.3 2141.5,566.4 2141.6,601.0 2141.7,564.3 2141.8,520.2 2142.0,500.5 2142.1,580.2 2142.2,528.9 2142.3,599.2 2142.5,541.6 2142.6,520.7 2142.7,551.0 2142.8,595.9 2142.9,607.0 2143.1,564.4 2143.2,521.0 2143.3,609.7 2143.4,539.2 2143.5,539.8 2143.7,636.1 2143.8,554.0 2143.9,549.7 2144.0,520.0 2144.1,495.2 2144.3,568.9 2144.4,583.9 2144.5,502.8 2144.6,554.0 2144.7,550.6 2144.9,569.1 2145.0,511.9 2145.1,594.5 2145.2,513.6 2145.3,544.2 2145.5,546.3 2145.6,468.7 2145.7,591.7 2145.8,586.8 2145.9,536.5 2146.1,534.4 2146.2,535.9 2146.3,601.6 2146.4,520.4 2146.6,566.7 2146.7,501.6 2146.8,602.3 2146.9,653.6 2147.0,591.4 2147.2,572.7 2147.3,539.8 2147.4,564.4 2147.5,608.2 2147.6,596.8 2147.8,480.4 2147.9,512.8 2148.0,519.5 2148.1,541.7 2148.2,549.2 2148.4,659.1 2148.5,572.8 2148.6,579.2 2148.7,603.8 2148.8,529.0 2149.0,607.2 2149.1,532.4 2149.2,526.8 2149.3,571.5 2149.4,544.8 2149.6,634.2 2149.7,483.9 2149.8,587.2 2149.9,567.2 2150.1,541.6 2150.2,535.2 2150.3,596.1 2150.4,503.3 2150.5,550.3 2150.7,610.5 2150.8,596.6 2150.9,549.0 2151.0,593.3 2151.1,521.7 2151.3,570.2 2151.4,566.9 2151.5,656.6 2151.6,554.6 2151.7,533.0 2151.9,576.7 2152.0,538.6 2152.1,553.0 2152.2,565.7 2152.3,568.8 2152.5,589.9 2152.6,635.0 2152.7,578.2 2152.8,509.1 2152.9,540.4 2153.1,585.4 2153.2,557.2 2153.3,561.6 2153.4,506.7 2153.5,544.0 2153.7,547.7 2153.8,474.8 2153.9,556.1 2154.0,615.3 2154.2,584.2 2154.3,544.9 2154.4,555.6 2154.5,586.2 2154.6,644.4 2154.8,460.9 2154.9,571.6 2155.0,553.7 2155.1,519.5 2155.2,586.5 2155.4,519.0 2155.5,523.0 2155.6,587.8 2155.7,529.6 2155.8,546.2 2156.0,589.7 2156.1,594.1 2156.2,559.4 2156.3,552.7 2156.4,531.7 2156.6,510.1 2156.7,574.9 2156.8,503.7 2156.9,572.8 2157.0,563.2 2157.2,631.7 2157.3,540.7 2157.4,540.2 2157.5,549.0 2157.6,576.6 2157.8,552.1 2157.9,593.8 2158.0,573.1 2158.1,578.6 2158.3,618.8 2158.4,522.6 2158.5,611.3 2158.6,558.4 2158.7,580.4 2158.9,542.0 2159.0,498.0 2159.1,550.2 2159.2,438.2 2159.3,587.4 2159.5,537.7 2159.6,586.9 2159.7,591.3 2159.8,598.6 2159.9,493.5 2160.1,541.5 2160.2,603.4 2160.3,575.4 2160.4,592.8 2160.5,577.6 2160.7,491.3 2160.8,517.7 2160.9,571.6 2161.0,577.9 2161.1,558.7 2161.3,494.8 2161.4,561.3 2161.5,632.7 2161.6,578.9 2161.8,588.2 2161.9,548.1 2162.0,532.9 2162.1,550.1 2162.2,579.8 2162.4,530.8 2162.5,520.2 2162.6,562.9 2162.7,586.2 2162.8,539.6 2163.0,505.7 2163.1,675.9 2163.2,526.0 2163.3,592.5 2163.4,566.4 2163.6,535.8 2163.7,578.1 2163.8,559.2 2163.9,576.7 2164.0,583.1 2164.2,573.6 2164.3,530.5 2164.4,556.5 2164.5,572.9 2164.6,597.1 2164.8,552.4 2164.9,580.4 2165.0,551.0 2165.1,604.1 2165.2,508.4 2165.4,545.8 2165.5,528.7 2165.6,560.2 2165.7,636.2 2165.9,582.6 2166.0,608.3 2166.1,619.7 2166.2,585.2 2166.3,663.6 2166.5,499.2 2166.6,567.9 2166.7,598.9 2166.8,569.1 2166.9,566.1 2167.1,520.0 2167.2,613.3 2167.3,557.3 2167.4,571.1 2167.5,487.7 2167.7,547.8 2167.8,639.1 2167.9,498.1 2168.0,609.2 2168.1,547.9 2168.3,542.9 2168.4,545.8 2168.5,586.8 2168.6,544.7 2168.7,504.4 2168.9,597.5 2169.0,584.3 2169.1,469.8 2169.2,504.8 2169.3,529.7 2169.5,571.4 2169.6,624.6 2169.7,534.3 2169.8,528.7 2170.0,595.8 2170.1,562.9 2170.2,563.5 2170.3,505.2 2170.4,547.9 2170.6,533.9 2170.7,608.2 2170.8,591.2 2170.9,510.8 2171.0,543.3 2171.2,629.1 2171.3,579.9 2171.4,597.9 2171.5,602.0 2171.6,552.0 2171.8,522.7 2171.9,512.0 2172.0,554.7 2172.1,551.2 2172.2,632.5 2172.4,578.2 2172.5,585.5 2172.6,635.8 2172.7,579.9 2172.8,508.8 2173.0,591.9 2173.1,579.1 2173.2,519.4 2173.3,609.2 2173.5,616.5 2173.6,579.5 2173.7,507.3 2173.8,585.6 2173.9,579.1 2174.1,568.3 2174.2,634.1 2174.3,547.5 2174.4,549.0 2174.5,608.4 2174.7,593.4 2174.8,506.1 2174.9,604.7 2175.0,604.0 2175.1,552.1 2175.3,626.4 2175.4,585.4 2175.5,618.5 2175.6,529.9 2175.7,548.6 2175.9,531.6 2176.0,528.5 2176.1,575.4 2176.2,571.3 2176.3,593.2 2176.5,572.8 2176.6,617.6 2176.7,571.1 2176.8,535.4 2176.9,544.8 2177.1,585.2 2177.2,528.7 2177.3,609.5 2177.4,580.0 2177.6,597.9 2177.7,603.4 2177.8,558.5 2177.9,560.6 2178.0,585.2 2178.2,568.9 2178.3,556.2 2178.4,554.7 2178.5,582.7 2178.6,577.9 2178.8,574.4 2178.9,557.0 2179.0,569.5 2179.1,620.0 2179.2,607.6 2179.4,542.6 2179.5,574.9 2179.6,585.7 2179.7,568.2 2179.8,616.6 2180.0,542.9 2180.1,502.5 2180.2,614.6 2180.3,629.8 2180.4,581.0 2180.6,574.5 2180.7,560.4 2180.8,547.6 2180.9,613.9 2181.1,600.7 2181.2,561.1 2181.3,581.9 2181.4,677.0 2181.5,541.3 2181.7,599.4 2181.8,556.8 2181.9,566.8 2182.0,582.1 2182.1,562.8 2182.3,575.4 2182.4,559.1 2182.5,559.3 2182.6,553.5 2182.7,590.1 2182.9,531.6 2183.0,594.2 2183.1,542.6 2183.2,635.5 2183.3,526.3 2183.5,585.0 2183.6,588.4 2183.7,584.0 2183.8,548.7 2183.9,554.9 2184.1,552.7 2184.2,657.3 2184.3,543.9 2184.4,490.6 2184.5,617.1 2184.7,590.2 2184.8,559.0 2184.9,572.7 2185.0,640.5 2185.2,619.3 2185.3,588.9 2185.4,550.9 2185.5,551.7 2185.6,611.8 2185.8,536.3 2185.9,646.5 2186.0,550.4 2186.1,545.7 2186.2,535.7 2186.4,583.8 2186.5,579.2 2186.6,548.1 2186.7,615.4 2186.8,529.1 2187.0,515.6 2187.1,628.3 2187.2,570.3 2187.3,517.1 2187.4,619.0 2187.6,544.4 2187.7,592.2 2187.8,502.6 2187.9,623.0 2188.0,640.5 2188.2,550.8 2188.3,608.7 2188.4,553.9 2188.5,564.0 2188.6,576.2 2188.8,606.2 2188.9,599.6 2189.0,583.9 2189.1,610.4 2189.3,550.9 2189.4,591.8 2189.5,584.5 2189.6,528.7 2189.7,649.7 2189.9,526.4 2190.0,614.2 2190.1,542.3 2190.2,582.2 2190.3,568.4 2190.5,548.4 2190.6,701.1 2190.7,665.5 2190.8,574.0 2190.9,519.4 2191.1,542.8 2191.2,558.2 2191.3,530.9 2191.4,569.3 2191.5,611.5 2191.7,570.8 2191.8,554.7 2191.9,452.7 2192.0,528.8 2192.1,546.5 2192.3,620.1 2192.4,532.3 2192.5,555.5 2192.6,630.6 2192.8,588.5 2192.9,542.5 2193.0,550.6 2193.1,610.3 2193.2,543.2 2193.4,546.8 2193.5,599.7 2193.6,549.9 2193.7,571.8 2193.8,548.2 2194.0,508.0 2194.1,581.2 2194.2,592.8 2194.3,494.2 2194.4,539.6 2194.6,585.6 2194.7,638.9 2194.8,592.1 2194.9,604.3 2195.0,595.7 2195.2,565.0 2195.3,616.2 2195.4,616.2 2195.5,557.8 2195.6,550.8 2195.8,577.7 2195.9,605.4 2196.0,562.8 2196.1,591.2 2196.2,612.6 2196.4,602.9 2196.5,599.8 2196.6,592.1 2196.7,577.2 2196.9,562.9 2197.0,582.7 2197.1,571.8 2197.2,550.6 2197.3,525.1 2197.5,562.7 2197.6,589.4 2197.7,612.8 2197.8,506.1 2197.9,580.6 2198.1,514.7 2198.2,564.4 2198.3,598.6 2198.4,518.6 2198.5,583.0 2198.7,457.4 2198.8,582.8 2198.9,562.6 2199.0,580.1 2199.1,593.1 2199.3,572.7 2199.4,574.7 2199.5,645.2 2199.6,599.7 2199.7,619.6 2199.9,604.3 2200.0,572.5 2200.1,574.1 2200.2,603.5 2200.3,534.8 2200.5,638.5 2200.6,560.1 2200.7,598.7 2200.8,525.3 2201.0,541.1 2201.1,598.2 2201.2,570.4 2201.3,473.4 2201.4,617.9 2201.6,634.0 2201.7,600.5 2201.8,516.4 2201.9,610.2 2202.0,554.7 2202.2,580.5 2202.3,602.3 2202.4,603.6 2202.5,478.0 2202.6,598.6 2202.8,609.2 2202.9,608.9 2203.0,572.0 2203.1,565.9 2203.2,545.8 2203.4,560.3 2203.5,580.2 2203.6,592.2 2203.7,578.6 2203.8,524.1 2204.0,472.4 2204.1,577.1 2204.2,564.2 2204.3,536.4 2204.5,571.2 2204.6,549.0 2204.7,591.5 2204.8,520.8 2204.9,550.6 2205.1,523.8 2205.2,573.2 2205.3,522.9 2205.4,564.0 2205.5,610.4 2205.7,525.6 2205.8,575.5 2205.9,616.3 2206.0,540.3 2206.1,545.8 2206.3,596.9 2206.4,550.5 2206.5,551.5 2206.6,481.9 2206.7,549.0 2206.9,545.9 2207.0,552.8 2207.1,562.8 2207.2,573.6 2207.3,581.8 2207.5,567.7 2207.6,589.9 2207.7,615.9 2207.8,623.6 2207.9,578.5 2208.1,657.8 2208.2,586.4 2208.3,619.3 2208.4,547.3 2208.6,617.2 2208.7,578.5 2208.8,568.6 2208.9,571.4 2209.0,473.4 2209.2,613.4 2209.3,513.1 2209.4,575.6 2209.5,556.8 2209.6,516.3 2209.8,582.1 2209.9,597.0 2210.0,571.2 2210.1,488.1 2210.2,498.3 2210.4,593.2 2210.5,568.7 2210.6,504.3 2210.7,527.2 2210.8,537.4 2211.0,587.7 2211.1,517.9 2211.2,588.2 2211.3,594.0 2211.4,534.9 2211.6,531.3 2211.7,588.5 2211.8,581.6 2211.9,601.3 2212.1,511.3 2212.2,600.8 2212.3,469.3 2212.4,480.0 2212.5,630.3 2212.7,538.5 2212.8,573.4 2212.9,549.9 2213.0,522.5 2213.1,606.1 2213.3,569.5 2213.4,507.4 2213.5,550.6 2213.6,568.0 2213.7,607.9 2213.9,611.7 2214.0,568.5 2214.1,684.5 2214.2,537.9 2214.3,570.8 2214.5,610.4 2214.6,548.7 2214.7,573.0 2214.8,506.0 2214.9,568.5 2215.1,488.3 2215.2,509.4 2215.3,553.8 2215.4,575.6 2215.5,559.9 2215.7,518.2 2215.8,464.7 2215.9,514.8 2216.0,577.3 2216.2,532.7 2216.3,529.5 2216.4,490.1 2216.5,572.9 2216.6,598.1 2216.8,590.4 2216.9,520.8 2217.0,502.9 2217.1,638.9 2217.2,561.3 2217.4,594.6 2217.5,551.9 2217.6,568.4 2217.7,609.9 2217.8,624.4 2218.0,555.2 2218.1,539.9 2218.2,570.9 2218.3,556.7 2218.4,547.3 2218.6,575.5 2218.7,525.5 2218.8,486.3 2218.9,592.4 2219.0,561.9 2219.2,523.5 2219.3,534.0 2219.4,524.7 2219.5,552.7 2219.6,529.2 2219.8,645.8 2219.9,522.3 2220.0,618.2 2220.1,534.9 2220.3,489.6 2220.4,515.7 2220.5,516.1 2220.6,497.2 2220.7,544.5 2220.9,519.6 2221.0,549.0 2221.1,511.3 2221.2,541.3 2221.3,508.4 2221.5,559.6 2221.6,545.6 2221.7,543.2 2221.8,561.3 2221.9,617.9 2222.1,495.6 2222.2,531.5 2222.3,598.3 2222.4,560.6 2222.5,542.5 2222.7,556.0 2222.8,484.5 2222.9,579.1 2223.0,539.4 2223.1,579.1 2223.3,463.8 2223.4,612.9 2223.5,566.0 2223.6,556.7 2223.8,630.7 2223.9,523.3 2224.0,578.2 2224.1,587.7 2224.2,566.0 2224.4,544.7 2224.5,483.6 2224.6,503.9 2224.7,605.9 2224.8,527.6 2225.0,654.8 2225.1,499.1 2225.2,522.7 2225.3,515.4 2225.4,526.0 2225.6,565.4 2225.7,552.1 2225.8,591.9 2225.9,580.1 2226.0,527.7 2226.2,575.1 2226.3,474.7 2226.4,587.2 2226.5,571.4 2226.6,567.0 2226.8,535.9 2226.9,558.0 2227.0,532.5 2227.1,637.6 2227.2,521.3 2227.4,583.7 2227.5,598.6 2227.6,607.5 2227.7,570.3 2227.9,621.7 2228.0,590.1 2228.1,481.1 2228.2,592.2 2228.3,496.1 2228.5,566.5 2228.6,616.5 2228.7,594.2 2228.8,529.2 2228.9,534.5 2229.1,562.4 2229.2,586.0 2229.3,550.1 2229.4,600.8 2229.5,537.2 2229.7,555.5 2229.8,599.9 2229.9,518.4 2230.0,534.6 2230.1,551.7 2230.3,596.3 2230.4,491.7 2230.5,594.7 2230.6,566.9 2230.7,593.4 2230.9,576.1 2231.0,532.0 2231.1,595.8 2231.2,598.4 2231.3,513.4 2231.5,620.5 2231.6,577.7 2231.7,542.5 2231.8,552.9 2232.0,560.8 2232.1,545.5 2232.2,515.9 2232.3,541.2 2232.4,493.2 2232.6,568.2 2232.7,644.2 2232.8,471.5 2232.9,589.8 2233.0,500.9 2233.2,542.7 2233.3,526.5 2233.4,464.9 2233.5,581.4 2233.6,593.2 2233.8,608.4 2233.9,530.3 2234.0,489.7 2234.1,563.0 2234.2,493.0 2234.4,536.9 2234.5,554.9 2234.6,554.9 2234.7,502.7 2234.8,550.7 2235.0,531.6 2235.1,523.9 2235.2,598.8 2235.3,509.4 2235.5,498.1 2235.6,514.9 2235.7,557.2 2235.8,597.4 2235.9,600.4 2236.1,507.9 2236.2,550.9 2236.3,555.3 2236.4,486.7 2236.5,581.0 2236.7,579.0 2236.8,637.3 2236.9,530.7 2237.0,543.7 2237.1,618.7 2237.3,497.3 2237.4,556.5 2237.5,551.1 2237.6,600.0 2237.7,635.6 2237.9,598.7 2238.0,540.8 2238.1,572.6 2238.2,492.2 2238.3,614.6 2238.5,581.8 2238.6,554.9 2238.7,501.6 2238.8,579.7 2238.9,523.9 2239.1,550.5 2239.2,517.5 2239.3,471.9 2239.4,465.6 2239.6,533.4 2239.7,549.6 2239.8,557.9 2239.9,576.1 2240.0,572.6 2240.2,552.0 2240.3,557.1 2240.4,522.2 2240.5,562.5 2240.6,560.8 2240.8,570.7 2240.9,563.2 2241.0,598.8 2241.1,544.9 2241.2,541.8 2241.4,561.5 2241.5,634.6 2241.6,557.4 2241.7,535.0 2241.8,513.7 2242.0,519.9 2242.1,502.7 2242.2,598.1 2242.3,540.1 2242.4,458.7 2242.6,492.2 2242.7,606.0 2242.8,496.1 2242.9,530.4 2243.1,526.6 2243.2,551.9 2243.3,575.6 2243.4,550.1 2243.5,579.0 2243.7,495.5 2243.8,585.3 2243.9,548.4 2244.0,539.8 2244.1,557.8 2244.3,662.7 2244.4,524.4 2244.5,576.0 2244.6,519.1 2244.7,529.7 2244.9,507.5 2245.0,592.5 2245.1,531.3 2245.2,536.0 2245.3,507.0 2245.5,502.9 2245.6,599.2 2245.7,566.8 2245.8,565.8 2245.9,532.2 2246.1,509.4 2246.2,617.9 2246.3,478.3 2246.4,558.4 2246.5,472.9 2246.7,456.0 2246.8,490.9 2246.9,591.6 2247.0,604.6 2247.2,540.4 2247.3,615.2 2247.4,529.3 2247.5,615.6 2247.6,577.9 2247.8,594.5 2247.9,523.9 2248.0,473.2 2248.1,574.6 2248.2,545.3 2248.4,586.4 2248.5,550.7 2248.6,532.0 2248.7,580.0 2248.8,558.3 2249.0,574.4 2249.1,521.6 2249.2,549.3 2249.3,579.4 2249.4,587.4 2249.6,547.7 2249.7,507.7 2249.8,595.9 2249.9,540.1 2250.0,560.9 2250.2,548.7 2250.3,487.9 2250.4,534.3 2250.5,593.3 2250.6,502.7 2250.8,579.1 2250.9,563.7 2251.0,543.6 2251.1,506.2 2251.3,565.6 2251.4,408.1 2251.5,537.6 2251.6,525.9 2251.7,530.1 2251.9,521.2 2252.0,562.4 2252.1,564.4 2252.2,534.8 2252.3,576.8 2252.5,455.6 2252.6,600.2 2252.7,567.5 2252.8,544.0 2252.9,537.4 2253.1,475.7 2253.2,533.2 2253.3,543.8 2253.4,539.5 2253.5,541.7 2253.7,560.6 2253.8,501.4 2253.9,587.4 2254.0,586.8 2254.1,575.7 2254.3,551.4 2254.4,568.8 2254.5,592.5 2254.6,540.9 2254.8,523.8 2254.9,600.7 2255.0,554.6 2255.1,559.7 2255.2,633.9 2255.4,593.6 2255.5,587.5 2255.6,521.4 2255.7,519.4 2255.8,583.3 2256.0,605.8 2256.1,497.0 2256.2,549.6 2256.3,507.1 2256.4,607.5 2256.6,501.6 2256.7,517.8 2256.8,524.6 2256.9,500.3 2257.0,508.1 2257.2,561.7 2257.3,533.1 2257.4,524.1 2257.5,451.1 2257.6,572.1 2257.8,622.3 2257.9,534.5 2258.0,589.7 2258.1,541.6 2258.2,592.1 2258.4,521.7 2258.5,539.8 2258.6,537.2 2258.7,578.3 2258.9,512.5 2259.0,619.5 2259.1,665.1 2259.2,578.2 2259.3,541.8 2259.5,547.9 2259.6,567.7 2259.7,570.3 2259.8,596.1 2259.9,558.8 2260.1,530.9 2260.2,516.5 2260.3,521.2 2260.4,572.8 2260.5,549.4 2260.7,488.2 2260.8,556.7 2260.9,594.0 2261.0,467.0 2261.1,533.6 2261.3,568.0 2261.4,542.7 2261.5,571.8 2261.6,563.8 2261.7,495.6 2261.9,522.6 2262.0,466.8 2262.1,513.7 2262.2,503.8 2262.3,534.9 2262.5,530.8 2262.6,600.6 2262.7,536.8 2262.8,505.8 2263.0,478.3 2263.1,514.6 2263.2,476.5 2263.3,551.6 2263.4,569.8 2263.6,505.9 2263.7,497.6 2263.8,605.9 2263.9,539.2 2264.0,533.4 2264.2,558.8 2264.3,516.5 2264.4,608.5 2264.5,465.0 2264.6,551.1 2264.8,585.3 2264.9,565.5 2265.0,579.3 2265.1,535.4 2265.2,552.5 2265.4,520.8 2265.5,610.9 2265.6,518.3 2265.7,518.5 2265.8,568.3 2266.0,509.4 2266.1,537.5 2266.2,469.6 2266.3,530.8 2266.5,461.6 2266.6,599.1 2266.7,576.2 2266.8,565.4 2266.9,523.0 2267.1,572.0 2267.2,414.7 2267.3,483.3 2267.4,534.3 2267.5,546.4 2267.7,541.2 2267.8,491.1 2267.9,557.9 2268.0,561.4 2268.1,395.2 2268.3,511.2 2268.4,514.7 2268.5,504.2 2268.6,578.3 2268.7,593.3 2268.9,525.1 2269.0,593.2 2269.1,453.3 2269.2,541.3 2269.3,605.0 2269.5,531.1 2269.6,557.1 2269.7,566.2 2269.8,540.0 2269.9,571.4 2270.1,488.5 2270.2,469.9 2270.3,470.6 2270.4,549.7 2270.6,539.5 2270.7,498.6 2270.8,513.8 2270.9,557.6 2271.0,537.1 2271.2,544.7 2271.3,553.1 2271.4,523.6 2271.5,526.0 2271.6,609.6 2271.8,501.2 2271.9,574.3 2272.0,487.5 2272.1,542.7 2272.2,522.4 2272.4,599.9 2272.5,522.3 2272.6,559.8 2272.7,559.0 2272.8,553.7 2273.0,557.2 2273.1,581.4 2273.2,486.8 2273.3,518.4 2273.4,495.9 2273.6,556.2 2273.7,584.2 2273.8,508.8 2273.9,627.8 2274.1,564.7 2274.2,480.6 2274.3,559.5 2274.4,472.3 2274.5,519.3 2274.7,520.3 2274.8,548.8 2274.9,580.5 2275.0,495.9 2275.1,584.2 2275.3,506.5 2275.4,546.6 2275.5,575.4 2275.6,529.7 2275.7,509.1 2275.9,465.7 2276.0,489.1 2276.1,511.0 2276.2,529.0 2276.3,530.4 2276.5,431.4 2276.6,548.9 2276.7,500.8 2276.8,550.7 2276.9,526.5 2277.1,588.4 2277.2,486.1 2277.3,533.7 2277.4,580.8 2277.5,522.1 2277.7,584.6 2277.8,456.1 2277.9,474.6 2278.0,450.7 2278.2,457.9 2278.3,540.3 2278.4,498.8 2278.5,522.3 2278.6,598.6 2278.8,570.8 2278.9,491.8 2279.0,472.8 2279.1,527.1 2279.2,510.9 2279.4,540.1 2279.5,488.7 2279.6,498.8 2279.7,477.7 2279.8,441.2 2280.0,542.0 2280.1,512.5 2280.2,520.6 2280.3,489.4 2280.4,482.9 2280.6,452.5 2280.7,408.4 2280.8,575.1 2280.9,519.0 2281.0,575.3 2281.2,529.2 2281.3,625.0 2281.4,525.4 2281.5,522.8 2281.6,585.1 2281.8,528.6 2281.9,507.9 2282.0,574.7 2282.1,572.6 2282.3,511.6 2282.4,549.2 2282.5,516.3 2282.6,540.1 2282.7,603.2 2282.9,502.4 2283.0,526.5 2283.1,533.6 2283.2,567.0 2283.3,481.9 2283.5,505.7 2283.6,534.4 2283.7,589.6 2283.8,517.6 2283.9,552.7 2284.1,623.0 2284.2,466.1 2284.3,510.1 2284.4,543.6 2284.5,530.9 2284.7,545.0 2284.8,508.1 2284.9,607.1 2285.0,471.7 2285.1,598.8 2285.3,483.7 2285.4,582.8 2285.5,471.3 2285.6,533.0 2285.8,568.6 2285.9,606.0 2286.0,510.5 2286.1,530.2 2286.2,479.7 2286.4,564.1 2286.5,595.7 2286.6,536.5 2286.7,510.8 2286.8,552.5 2287.0,471.6 2287.1,549.1 2287.2,556.4 2287.3,516.2 2287.4,460.8 2287.6,538.2 2287.7,535.4 2287.8,504.9 2287.9,511.7 2288.0,538.6 2288.2,483.3 2288.3,493.5 2288.4,500.1 2288.5,532.1 2288.6,458.3 2288.8,545.6 2288.9,525.0 2289.0,504.8 2289.1,526.9 2289.2,520.3 2289.4,502.0 2289.5,465.6 2289.6,531.9 2289.7,431.4 2289.9,448.5 2290.0,499.0 2290.1,493.1 2290.2,484.8 2290.3,570.3 2290.5,484.0 2290.6,561.4 2290.7,516.8 2290.8,503.4 2290.9,542.8 2291.1,558.7 2291.2,481.3 2291.3,434.3 2291.4,535.6 2291.5,470.4 2291.7,534.9 2291.8,517.2 2291.9,531.4 2292.0,481.4 2292.1,505.6 2292.3,522.9 2292.4,510.2 2292.5,533.2 2292.6,512.5 2292.7,591.4 2292.9,537.7 2293.0,502.7 2293.1,504.7 2293.2,541.5 2293.3,506.5 2293.5,515.9 2293.6,560.0 2293.7,522.6 2293.8,558.0 2294.0,528.4 2294.1,510.1 2294.2,529.7 2294.3,521.5 2294.4,477.9 2294.6,464.3 2294.7,454.6 2294.8,460.5 2294.9,468.5 2295.0,495.7 2295.2,474.1 2295.3,392.8 2295.4,593.0 2295.5,442.2 2295.6,521.2 2295.8,480.3 2295.9,477.0 2296.0,448.6 2296.1,548.6 2296.2,466.0 2296.4,449.3 2296.5,517.9 2296.6,489.9 2296.7,506.2 2296.8,544.4 2297.0,464.4 2297.1,573.9 2297.2,538.3 2297.3,478.3 2297.5,437.4 2297.6,512.1 2297.7,529.6 2297.8,457.7 2297.9,549.5 2298.1,505.7 2298.2,536.3 2298.3,535.2 2298.4,506.2 2298.5,544.7 2298.7,532.2 2298.8,485.4 2298.9,520.6 2299.0,526.2 2299.1,540.5 2299.3,465.3 2299.4,527.3 2299.5,511.0 2299.6,512.8 2299.7,477.3 2299.9,479.7 2300.0,459.9 2300.1,473.2 2300.2,513.9 2300.3,473.1 2300.5,443.6 2300.6,439.9 2300.7,456.3 2300.8,488.7 2300.9,526.8 2301.1,479.4 2301.2,542.5 2301.3,489.6 2301.4,534.2 2301.6,425.7 2301.7,488.7 2301.8,513.5 2301.9,473.5 2302.0,485.3 2302.2,501.1 2302.3,535.1 2302.4,402.9 2302.5,514.2 2302.6,534.2 2302.8,386.7 2302.9,502.4 2303.0,529.9 2303.1,509.9 2303.2,522.0 2303.4,524.5 2303.5,462.1 2303.6,538.4 2303.7,482.7 2303.8,415.8 2304.0,414.8 2304.1,538.5 2304.2,483.0 2304.3,479.3 2304.4,513.3 2304.6,523.1 2304.7,490.1 2304.8,563.0 2304.9,512.7 2305.1,464.2 2305.2,482.1 2305.3,421.2 2305.4,434.8 2305.5,501.6 2305.7,474.4 2305.8,451.1 2305.9,540.5 2306.0,422.3 2306.1,578.0 2306.3,460.9 2306.4,451.5 2306.5,560.0 2306.6,525.1 2306.7,483.9 2306.9,462.8 2307.0,498.8 2307.1,365.0 2307.2,486.1 2307.3,544.4 2307.5,477.0 2307.6,530.0 2307.7,491.2 2307.8,476.7 2307.9,449.6 2308.1,512.2 2308.2,461.2 2308.3,554.8 2308.4,448.0 2308.5,554.8 2308.7,521.9 2308.8,509.4 2308.9,469.1 2309.0,465.6 2309.2,496.8 2309.3,527.7 2309.4,439.5 2309.5,506.3 2309.6,464.9 2309.8,482.3 2309.9,495.0 2310.0,460.0 2310.1,499.9 2310.2,442.6 2310.4,433.8 2310.5,506.1 2310.6,506.4 2310.7,472.3 2310.8,456.9 2311.0,466.5 2311.1,427.3 2311.2,505.4 2311.3,600.9 2311.4,481.5 2311.6,485.3 2311.7,507.4 2311.8,481.6 2311.9,434.2 2312.0,461.7 2312.2,476.3 2312.3,492.2 2312.4,494.2 2312.5,468.8 2312.6,445.0 2312.8,465.3 2312.9,427.2 2313.0,549.4 2313.1,433.2 2313.3,424.9 2313.4,493.2 2313.5,541.5 2313.6,466.9 2313.7,571.5 2313.9,493.7 2314.0,443.6 2314.1,511.5 2314.2,491.5 2314.3,485.9 2314.5,470.5 2314.6,478.8 2314.7,441.3 2314.8,444.6 2314.9,499.8 2315.1,433.5 2315.2,484.1 2315.3,501.3 2315.4,428.9 2315.5,467.6 2315.7,432.5 2315.8,452.1 2315.9,479.2 2316.0,514.4 2316.1,471.0 2316.3,426.2 2316.4,520.9 2316.5,490.5 2316.6,420.7 2316.8,523.6 2316.9,449.7 2317.0,523.8 2317.1,491.1 2317.2,465.5 2317.4,484.9 2317.5,430.0 2317.6,455.4 2317.7,460.0 2317.8,551.4 2318.0,494.7 2318.1,494.9 2318.2,526.5 2318.3,505.5 2318.4,498.8 2318.6,484.2 2318.7,453.6 2318.8,420.5 2318.9,522.9 2319.0,496.0 2319.2,418.6 2319.3,455.1 2319.4,477.8 2319.5,439.5 2319.6,466.6 2319.8,497.7 2319.9,427.6 2320.0,535.1 2320.1,472.1 2320.2,466.7 2320.4,470.8 2320.5,492.4 2320.6,507.1 2320.7,514.6 2320.9,505.6 2321.0,494.7 2321.1,466.4 2321.2,486.3 2321.3,495.2 2321.5,528.0 2321.6,436.4 2321.7,450.8 2321.8,469.6 2321.9,462.4 2322.1,484.2 2322.2,446.6 2322.3,480.4 2322.4,509.4 2322.5,436.5 2322.7,472.1 2322.8,519.0 2322.9,485.4 2323.0,425.1 2323.1,417.7 2323.3,436.0 2323.4,411.7 2323.5,500.3 2323.6,436.5 2323.7,482.6 2323.9,525.7 2324.0,522.9 2324.1,550.0 2324.2,503.2 2324.3,540.7 2324.5,431.3 2324.6,451.3 2324.7,443.0 2324.8,459.2 2325.0,465.8 2325.1,411.6 2325.2,487.5 2325.3,445.9 2325.4,452.0 2325.6,486.0 2325.7,496.2 2325.8,487.3 2325.9,481.1 2326.0,424.9 2326.2,463.1 2326.3,457.0 2326.4,462.5 2326.5,461.0 2326.6,422.0 2326.8,425.1 2326.9,455.2 2327.0,444.5 2327.1,442.2 2327.2,444.7 2327.4,488.2 2327.5,482.9 2327.6,504.4 2327.7,466.9 2327.8,484.2 2328.0,472.2 2328.1,441.7 2328.2,486.4 2328.3,465.2 2328.5,448.9 2328.6,425.3 2328.7,420.3 2328.8,435.1 2328.9,442.7 2329.1,467.1 2329.2,443.6 2329.3,526.6 2329.4,432.6 2329.5,494.5 2329.7,503.8 2329.8,471.8 2329.9,383.8 2330.0,489.4 2330.1,519.9 2330.3,423.9 2330.4,509.2 2330.5,484.5 2330.6,477.5 2330.7,414.0 2330.9,397.1 2331.0,447.7 2331.1,448.4 2331.2,426.3 2331.3,476.9 2331.5,431.1 2331.6,481.2 2331.7,457.0 2331.8,443.7" fill="none" stroke="#0072BD" stroke-width="6" stroke-linejoin="bevel" shape-rendering="crispEdges"/>
<polyline points="1644.4,421.9 1648.7,416.9 1653.1,412.0 1657.4,407.0 1661.7,402.1 1666.0,397.2 1670.4,392.4 1674.7,387.6 1679.0,382.8 1683.3,378.1 1687.7,373.5 1692.0,369.0 1696.3,364.5 1700.6,360.1 1705.0,355.9 1709.3,351.7 1713.6,347.6 1717.9,343.7 1722.3,339.9 1726.6,336.2 1730.9,332.6 1735.2,329.2 1739.6,325.9 1743.9,322.8 1748.2,319.8 1752.5,317.0 1756.9,314.3 1761.2,311.8 1765.5,309.5 1769.8,307.4 1774.2,305.4 1778.5,303.7 1782.8,302.1 1787.1,300.7 1791.5,299.5 1795.8,298.4 1800.1,297.6 1804.4,297.0 1808.8,296.5 1813.1,296.3 1817.4,296.2 1821.7,296.4 1826.1,296.7 1830.4,297.3 1834.7,298.0 1839.0,298.9 1843.4,300.0 1847.7,301.4 1852.0,302.9 1856.3,304.5 1860.7,306.4 1865.0,308.4 1869.3,310.7 1873.6,313.1 1878.0,315.6 1882.3,318.4 1886.6,321.3 1890.9,324.3 1895.3,327.5 1899.6,330.9 1903.9,334.4 1908.2,338.0 1912.6,341.8 1916.9,345.6 1921.2,349.7 1925.5,353.8 1929.9,358.0 1934.2,362.3 1938.5,366.7 1942.8,371.2 1947.2,375.8 1951.5,380.5 1955.8,385.2 1960.1,390.0 1964.5,394.8 1968.8,399.7 1973.1,404.6 1977.4,409.5 1981.8,414.5 1986.1,419.4 1990.4,424.4 1994.7,429.3 1999.1,434.3 2003.4,439.2 2007.7,444.1 2012.0,449.0 2016.4,453.8 2020.7,458.6 2025.0,463.3 2029.3,468.0 2033.7,472.6 2038.0,477.1 2042.3,481.5 2046.6,485.8 2051.0,490.0 2055.3,494.1 2059.6,498.2 2064.0,502.0 2068.3,505.8 2072.6,509.4 2076.9,512.9 2081.3,516.3 2085.6,519.5 2089.9,522.5 2094.2,525.4 2098.6,528.2 2102.9,530.7 2107.2,533.1 2111.5,535.4 2115.9,537.4 2120.2,539.3 2124.5,540.9 2128.8,542.4 2133.2,543.8 2137.5,544.9 2141.8,545.8 2146.1,546.5 2150.5,547.1 2154.8,547.4 2159.1,547.6 2163.4,547.5 2167.8,547.3 2172.1,546.8 2176.4,546.2 2180.7,545.4 2185.1,544.3 2189.4,543.1 2193.7,541.7 2198.0,540.1 2202.4,538.4 2206.7,536.4 2211.0,534.3 2215.3,532.0 2219.7,529.5 2224.0,526.8 2228.3,524.0 2232.6,521.0 2237.0,517.9 2241.3,514.6 2245.6,511.2 2249.9,507.6 2254.3,503.9 2258.6,500.1 2262.9,496.2 2267.2,492.1 2271.6,487.9 2275.9,483.7 2280.2,479.3 2284.5,474.8 2288.9,470.3 2293.2,465.7 2297.5,461.0 2301.8,456.2 2306.2,451.4 2310.5,446.6 2314.8,441.7 2319.1,436.8 2323.5,431.8 2327.8,426.9 2332.1,421.9" fill="none" stroke="#FF0000" stroke-width="13" stroke-linejoin="round" shape-rendering="crispEdges"/>
</g>
<g id="legend">
<rect x="1815.4" y="44.9" width="523.1" height="166.6" fill="#fff" stroke="#262626" stroke-width="5"/>
<path d="M1815.4 44.9H2338.5" stroke="#262626" stroke-width="5.7"/>
<path d="M1852 92H2041.2" stroke="#0072BD" stroke-width="6"/>
<path d="M1852 164.4H2045.3" stroke="#FF0000" stroke-width="12.8"/>
<g font-size="55.6" fill="#000" stroke="#000" stroke-width="1.4" stroke-linejoin="round">
<text x="2055.6" y="111.5">Estimation</text>
<text x="2055.6" y="183.8">Simulation</text>
</g></g>
<g id="labels" font-size="60" fill="#262626" stroke="#262626" stroke-width="1.0" stroke-linejoin="round">
<text transform="translate(0 813.4) scale(1 1.035)" x="130.23" y="0">6</text>
<text transform="translate(0 688.6) scale(1 1.035)" x="130.23" y="0">7</text>
<text transform="translate(0 563.8) scale(1 1.035)" x="130.23" y="0">8</text>
<text transform="translate(0 438.9) scale(1 1.035)" x="130.23" y="0">9</text>
<text transform="translate(0 314.1) scale(1 1.035)" x="98.86 130.23" y="0">10</text>
<text transform="translate(0 189.3) scale(1 1.035)" x="98.86 127.93" y="0">11</text>
<text transform="translate(0 64.5) scale(1 1.035)" x="98.86 130.23" y="0">12</text>
<text transform="translate(0 872.7) scale(1 1.035)" x="182.02" y="0">0</text>
<text transform="translate(0 872.7) scale(1 1.035)" x="272.53 305.90" y="0">04</text>
<text transform="translate(0 872.7) scale(1 1.035)" x="389.03 422.40" y="0">08</text>
<text transform="translate(0 872.7) scale(1 1.035)" x="507.53 538.90" y="0">12</text>
<text transform="translate(0 872.7) scale(1 1.035)" x="624.03 655.40" y="0">16</text>
<text transform="translate(0 872.7) scale(1 1.035)" x="738.53 771.90" y="0">20</text>
<text transform="translate(0 877.8) scale(1 1.035)" x="913.02" y="0">0</text>
<text transform="translate(0 877.8) scale(1 1.035)" x="1003.46 1036.83" y="0">04</text>
<text transform="translate(0 877.8) scale(1 1.035)" x="1119.89 1153.26" y="0">08</text>
<text transform="translate(0 877.8) scale(1 1.035)" x="1238.33 1269.70" y="0">12</text>
<text transform="translate(0 877.8) scale(1 1.035)" x="1354.76 1386.13" y="0">16</text>
<text transform="translate(0 877.8) scale(1 1.035)" x="1469.19 1502.56" y="0">20</text>
<text transform="translate(0 877.8) scale(1 1.035)" x="1635.02" y="0">0</text>
<text transform="translate(0 877.8) scale(1 1.035)" x="1724.71 1758.08" y="0">04</text>
<text transform="translate(0 877.8) scale(1 1.035)" x="1840.39 1873.76" y="0">08</text>
<text transform="translate(0 877.8) scale(1 1.035)" x="1958.07 1989.44" y="0">12</text>
<text transform="translate(0 877.8) scale(1 1.035)" x="2073.75 2105.12" y="0">16</text>
<text transform="translate(0 877.8) scale(1 1.035)" x="2187.43 2220.80" y="0">20</text>
<text transform="translate(0 877.8) scale(1 1.035)" x="2303.11 2336.48" y="0">24</text>
<text x="1265.4" y="967.7" text-anchor="middle" font-size="60.5">UTC [hour]</text>
<text transform="translate(63.3 421.5) rotate(-90)" text-anchor="middle" font-size="60.2">Receiver DCB variations [ns]</text>
</g>
<g id="serif-masks" fill="#fff"><rect x="100.86" y="307.93" width="12.60" height="8.00"/><rect x="119.76" y="307.93" width="11.60" height="8.00"/><rect x="100.86" y="183.12" width="12.60" height="8.00"/><rect x="119.76" y="183.12" width="11.60" height="8.00"/><rect x="129.93" y="183.12" width="12.60" height="8.00"/><rect x="148.83" y="183.12" width="11.60" height="8.00"/><rect x="100.86" y="58.30" width="12.60" height="8.00"/><rect x="119.76" y="58.30" width="11.60" height="8.00"/><rect x="509.53" y="866.50" width="12.60" height="8.00"/><rect x="528.43" y="866.50" width="11.60" height="8.00"/><rect x="626.03" y="866.50" width="12.60" height="8.00"/><rect x="644.93" y="866.50" width="11.60" height="8.00"/><rect x="1240.33" y="871.60" width="12.60" height="8.00"/><rect x="1259.23" y="871.60" width="11.60" height="8.00"/><rect x="1356.76" y="871.60" width="12.60" height="8.00"/><rect x="1375.66" y="871.60" width="11.60" height="8.00"/><rect x="1960.07" y="871.60" width="12.60" height="8.00"/><rect x="1978.97" y="871.60" width="11.60" height="8.00"/><rect x="2075.75" y="871.60" width="12.60" height="8.00"/><rect x="2094.65" y="871.60" width="11.60" height="8.00"/></g>
<g id="panel-tags" font-size="60" fill="#000" stroke="#000" stroke-width="1.4" stroke-linejoin="round">
<text x="206" y="127.5">(a)</text>
<text x="947" y="122.8">(b)</text>
<text x="1659.5" y="132.4">(c)</text>
</g>
</svg>
</body></html>
